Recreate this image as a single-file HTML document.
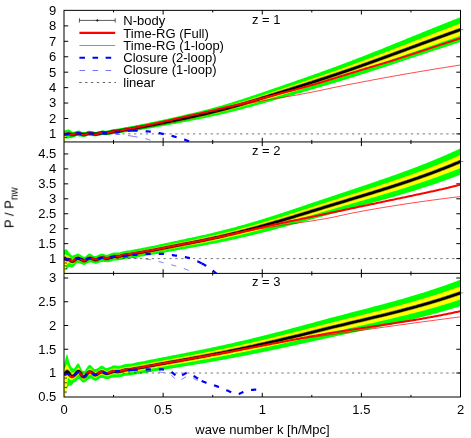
<!DOCTYPE html>
<html><head><meta charset="utf-8"><title>chart</title>
<style>html,body{margin:0;padding:0;background:#fff;}body{width:471px;height:438px;overflow:hidden;font-family:"Liberation Sans",sans-serif;}</style></head>
<body>
<svg width="471" height="438" viewBox="0 0 471 438" style="display:block">
<rect width="471" height="438" fill="#fff"/>
<defs>
<clipPath id="c0"><rect x="64.00" y="10.35" width="397.10" height="131.60"/></clipPath>
<clipPath id="c1"><rect x="64.00" y="141.95" width="397.10" height="131.45"/></clipPath>
<clipPath id="c2"><rect x="64.00" y="273.40" width="397.10" height="123.60"/></clipPath>
</defs>
<g stroke="#000" stroke-width="1" fill="none">
<line x1="113.56" y1="10.35" x2="113.56" y2="12.45"/>
<line x1="113.56" y1="141.95" x2="113.56" y2="139.85"/>
<line x1="163.12" y1="10.35" x2="163.12" y2="14.55"/>
<line x1="163.12" y1="141.95" x2="163.12" y2="137.75"/>
<line x1="212.69" y1="10.35" x2="212.69" y2="12.45"/>
<line x1="212.69" y1="141.95" x2="212.69" y2="139.85"/>
<line x1="262.25" y1="10.35" x2="262.25" y2="14.55"/>
<line x1="262.25" y1="141.95" x2="262.25" y2="137.75"/>
<line x1="311.81" y1="10.35" x2="311.81" y2="12.45"/>
<line x1="311.81" y1="141.95" x2="311.81" y2="139.85"/>
<line x1="361.38" y1="10.35" x2="361.38" y2="14.55"/>
<line x1="361.38" y1="141.95" x2="361.38" y2="137.75"/>
<line x1="410.94" y1="10.35" x2="410.94" y2="12.45"/>
<line x1="410.94" y1="141.95" x2="410.94" y2="139.85"/>
<line x1="113.56" y1="141.95" x2="113.56" y2="144.05"/>
<line x1="113.56" y1="273.40" x2="113.56" y2="271.30"/>
<line x1="163.12" y1="141.95" x2="163.12" y2="146.15"/>
<line x1="163.12" y1="273.40" x2="163.12" y2="269.20"/>
<line x1="212.69" y1="141.95" x2="212.69" y2="144.05"/>
<line x1="212.69" y1="273.40" x2="212.69" y2="271.30"/>
<line x1="262.25" y1="141.95" x2="262.25" y2="146.15"/>
<line x1="262.25" y1="273.40" x2="262.25" y2="269.20"/>
<line x1="311.81" y1="141.95" x2="311.81" y2="144.05"/>
<line x1="311.81" y1="273.40" x2="311.81" y2="271.30"/>
<line x1="361.38" y1="141.95" x2="361.38" y2="146.15"/>
<line x1="361.38" y1="273.40" x2="361.38" y2="269.20"/>
<line x1="410.94" y1="141.95" x2="410.94" y2="144.05"/>
<line x1="410.94" y1="273.40" x2="410.94" y2="271.30"/>
<line x1="113.56" y1="273.40" x2="113.56" y2="275.50"/>
<line x1="113.56" y1="397.00" x2="113.56" y2="394.90"/>
<line x1="163.12" y1="273.40" x2="163.12" y2="277.60"/>
<line x1="163.12" y1="397.00" x2="163.12" y2="392.80"/>
<line x1="212.69" y1="273.40" x2="212.69" y2="275.50"/>
<line x1="212.69" y1="397.00" x2="212.69" y2="394.90"/>
<line x1="262.25" y1="273.40" x2="262.25" y2="277.60"/>
<line x1="262.25" y1="397.00" x2="262.25" y2="392.80"/>
<line x1="311.81" y1="273.40" x2="311.81" y2="275.50"/>
<line x1="311.81" y1="397.00" x2="311.81" y2="394.90"/>
<line x1="361.38" y1="273.40" x2="361.38" y2="277.60"/>
<line x1="361.38" y1="397.00" x2="361.38" y2="392.80"/>
<line x1="410.94" y1="273.40" x2="410.94" y2="275.50"/>
<line x1="410.94" y1="397.00" x2="410.94" y2="394.90"/>
<line x1="64.00" y1="133.90" x2="68.20" y2="133.90"/>
<line x1="460.50" y1="133.90" x2="456.30" y2="133.90"/>
<line x1="64.00" y1="118.47" x2="68.20" y2="118.47"/>
<line x1="460.50" y1="118.47" x2="456.30" y2="118.47"/>
<line x1="64.00" y1="103.04" x2="68.20" y2="103.04"/>
<line x1="460.50" y1="103.04" x2="456.30" y2="103.04"/>
<line x1="64.00" y1="87.61" x2="68.20" y2="87.61"/>
<line x1="460.50" y1="87.61" x2="456.30" y2="87.61"/>
<line x1="64.00" y1="72.18" x2="68.20" y2="72.18"/>
<line x1="460.50" y1="72.18" x2="456.30" y2="72.18"/>
<line x1="64.00" y1="56.75" x2="68.20" y2="56.75"/>
<line x1="460.50" y1="56.75" x2="456.30" y2="56.75"/>
<line x1="64.00" y1="41.32" x2="68.20" y2="41.32"/>
<line x1="460.50" y1="41.32" x2="456.30" y2="41.32"/>
<line x1="64.00" y1="25.89" x2="68.20" y2="25.89"/>
<line x1="460.50" y1="25.89" x2="456.30" y2="25.89"/>
<line x1="64.00" y1="258.60" x2="68.20" y2="258.60"/>
<line x1="460.50" y1="258.60" x2="456.30" y2="258.60"/>
<line x1="64.00" y1="243.65" x2="68.20" y2="243.65"/>
<line x1="460.50" y1="243.65" x2="456.30" y2="243.65"/>
<line x1="64.00" y1="228.70" x2="68.20" y2="228.70"/>
<line x1="460.50" y1="228.70" x2="456.30" y2="228.70"/>
<line x1="64.00" y1="213.75" x2="68.20" y2="213.75"/>
<line x1="460.50" y1="213.75" x2="456.30" y2="213.75"/>
<line x1="64.00" y1="198.80" x2="68.20" y2="198.80"/>
<line x1="460.50" y1="198.80" x2="456.30" y2="198.80"/>
<line x1="64.00" y1="183.85" x2="68.20" y2="183.85"/>
<line x1="460.50" y1="183.85" x2="456.30" y2="183.85"/>
<line x1="64.00" y1="168.90" x2="68.20" y2="168.90"/>
<line x1="460.50" y1="168.90" x2="456.30" y2="168.90"/>
<line x1="64.00" y1="153.95" x2="68.20" y2="153.95"/>
<line x1="460.50" y1="153.95" x2="456.30" y2="153.95"/>
<line x1="64.00" y1="373.00" x2="68.20" y2="373.00"/>
<line x1="460.50" y1="373.00" x2="456.30" y2="373.00"/>
<line x1="64.00" y1="349.25" x2="68.20" y2="349.25"/>
<line x1="460.50" y1="349.25" x2="456.30" y2="349.25"/>
<line x1="64.00" y1="325.50" x2="68.20" y2="325.50"/>
<line x1="460.50" y1="325.50" x2="456.30" y2="325.50"/>
<line x1="64.00" y1="301.75" x2="68.20" y2="301.75"/>
<line x1="460.50" y1="301.75" x2="456.30" y2="301.75"/>
<line x1="64.00" y1="278.00" x2="68.20" y2="278.00"/>
<line x1="460.50" y1="278.00" x2="456.30" y2="278.00"/>
</g>
<g clip-path="url(#c0)">
<polygon fill="#00ff00" points="64.0,130.2 65.0,130.2 66.0,130.0 67.0,129.7 68.0,129.5 69.0,129.5 70.0,129.9 71.0,130.7 72.0,131.4 73.0,131.8 74.0,131.8 75.0,131.6 76.0,131.3 77.0,130.9 78.0,130.6 79.0,130.6 80.0,131.0 81.0,131.5 82.0,131.9 83.0,132.1 84.0,132.1 85.0,132.1 86.0,131.9 87.0,131.4 88.0,131.0 89.0,130.7 90.0,130.7 91.0,130.9 92.0,131.1 93.0,131.4 94.0,131.6 95.0,131.9 96.0,131.9 97.0,131.8 98.0,131.4 99.0,131.1 100.0,130.9 101.0,130.7 102.0,130.6 103.0,130.5 104.0,130.6 105.0,130.7 106.0,130.7 107.0,130.6 108.0,130.5 109.0,130.2 110.0,129.9 111.0,129.7 112.0,129.4 113.0,129.2 114.0,129.0 115.0,128.9 116.0,128.8 117.0,128.7 118.0,128.6 119.0,128.4 120.0,128.3 121.0,128.1 122.0,127.9 123.0,127.7 124.0,127.5 125.0,127.3 126.0,127.1 127.0,127.0 128.0,126.8 129.0,126.6 130.0,126.4 131.0,126.2 132.0,126.0 133.0,125.9 134.0,125.7 135.0,125.5 136.0,125.3 137.0,125.1 138.0,124.9 139.0,124.8 140.0,124.5 141.0,124.3 142.0,124.1 143.0,123.9 144.0,123.7 145.0,123.5 146.0,123.4 147.0,123.2 148.0,123.0 149.0,122.8 150.0,122.5 151.0,122.3 152.0,122.1 153.0,121.9 154.0,121.7 155.0,121.5 156.0,121.3 157.0,121.1 158.0,120.8 159.0,120.6 160.0,120.4 161.0,120.2 162.0,120.0 163.0,119.8 164.0,119.5 165.0,119.3 166.0,119.1 167.0,118.9 168.0,118.6 169.0,118.4 170.0,118.2 171.0,118.0 172.0,117.8 173.0,117.5 174.0,117.3 175.0,117.1 176.0,116.9 177.0,116.6 178.0,116.4 179.0,116.2 180.0,115.9 181.0,115.7 182.0,115.5 183.0,115.3 184.0,115.0 185.0,114.8 186.0,114.5 187.0,114.3 188.0,114.1 189.0,113.8 190.0,113.6 191.0,113.4 192.0,113.1 193.0,112.9 194.0,112.7 195.0,112.4 196.0,112.2 197.0,111.9 198.0,111.7 199.0,111.4 200.0,111.2 201.0,111.0 202.0,110.7 203.0,110.5 204.0,110.2 205.0,110.0 206.0,109.7 207.0,109.4 208.0,109.2 209.0,108.9 210.0,108.7 211.0,108.4 212.0,108.1 213.0,107.9 214.0,107.6 215.0,107.3 216.0,107.1 217.0,106.8 218.0,106.5 219.0,106.2 220.0,105.9 221.0,105.7 222.0,105.4 223.0,105.1 224.0,104.8 225.0,104.5 226.0,104.2 227.0,103.9 228.0,103.6 229.0,103.3 230.0,103.0 231.0,102.7 232.0,102.4 233.0,102.1 234.0,101.8 235.0,101.4 236.0,101.1 237.0,100.8 238.0,100.5 239.0,100.2 240.0,99.9 241.0,99.5 242.0,99.2 243.0,98.9 244.0,98.6 245.0,98.2 246.0,97.9 247.0,97.6 248.0,97.3 249.0,96.9 250.0,96.6 251.0,96.3 252.0,95.9 253.0,95.6 254.0,95.3 255.0,94.9 256.0,94.6 257.0,94.2 258.0,93.9 259.0,93.6 260.0,93.2 261.0,92.9 262.0,92.6 263.0,92.2 264.0,91.9 265.0,91.5 266.0,91.2 267.0,90.8 268.0,90.5 269.0,90.2 270.0,89.8 271.0,89.5 272.0,89.1 273.0,88.8 274.0,88.4 275.0,88.1 276.0,87.7 277.0,87.4 278.0,87.1 279.0,86.7 280.0,86.4 281.0,86.0 282.0,85.7 283.0,85.3 284.0,85.0 285.0,84.6 286.0,84.3 287.0,83.9 288.0,83.6 289.0,83.3 290.0,82.9 291.0,82.6 292.0,82.2 293.0,81.9 294.0,81.5 295.0,81.2 296.0,80.8 297.0,80.5 298.0,80.1 299.0,79.8 300.0,79.4 301.0,79.1 302.0,78.7 303.0,78.4 304.0,78.0 305.0,77.7 306.0,77.3 307.0,77.0 308.0,76.6 309.0,76.3 310.0,75.9 311.0,75.6 312.0,75.2 313.0,74.9 314.0,74.5 315.0,74.1 316.0,73.8 317.0,73.4 318.0,73.1 319.0,72.7 320.0,72.4 321.0,72.0 322.0,71.6 323.0,71.3 324.0,70.9 325.0,70.6 326.0,70.2 327.0,69.8 328.0,69.5 329.0,69.1 330.0,68.7 331.0,68.4 332.0,68.0 333.0,67.6 334.0,67.3 335.0,66.9 336.0,66.5 337.0,66.2 338.0,65.8 339.0,65.4 340.0,65.1 341.0,64.7 342.0,64.3 343.0,63.9 344.0,63.6 345.0,63.2 346.0,62.8 347.0,62.4 348.0,62.0 349.0,61.7 350.0,61.3 351.0,60.9 352.0,60.5 353.0,60.1 354.0,59.8 355.0,59.4 356.0,59.0 357.0,58.6 358.0,58.2 359.0,57.8 360.0,57.4 361.0,57.1 362.0,56.7 363.0,56.3 364.0,55.9 365.0,55.5 366.0,55.1 367.0,54.7 368.0,54.3 369.0,53.9 370.0,53.5 371.0,53.1 372.0,52.7 373.0,52.3 374.0,51.9 375.0,51.5 376.0,51.1 377.0,50.7 378.0,50.4 379.0,50.0 380.0,49.6 381.0,49.2 382.0,48.8 383.0,48.4 384.0,47.9 385.0,47.5 386.0,47.1 387.0,46.7 388.0,46.3 389.0,45.9 390.0,45.5 391.0,45.1 392.0,44.7 393.0,44.3 394.0,43.9 395.0,43.5 396.0,43.1 397.0,42.7 398.0,42.3 399.0,41.9 400.0,41.5 401.0,41.1 402.0,40.7 403.0,40.3 404.0,39.9 405.0,39.5 406.0,39.1 407.0,38.6 408.0,38.2 409.0,37.8 410.0,37.4 411.0,37.0 412.0,36.6 413.0,36.2 414.0,35.8 415.0,35.4 416.0,35.0 417.0,34.6 418.0,34.2 419.0,33.8 420.0,33.4 421.0,33.0 422.0,32.5 423.0,32.1 424.0,31.7 425.0,31.3 426.0,30.9 427.0,30.5 428.0,30.1 429.0,29.7 430.0,29.3 431.0,28.9 432.0,28.5 433.0,28.1 434.0,27.7 435.0,27.3 436.0,26.9 437.0,26.5 438.0,26.1 439.0,25.7 440.0,25.3 441.0,24.9 442.0,24.5 443.0,24.1 444.0,23.7 445.0,23.3 446.0,22.9 447.0,22.5 448.0,22.1 449.0,21.7 450.0,21.3 451.0,20.9 452.0,20.5 453.0,20.1 454.0,19.7 455.0,19.3 456.0,18.9 457.0,18.5 458.0,18.2 459.0,17.8 460.0,17.4 460.5,17.2 460.5,42.0 460.0,42.2 459.0,42.5 458.0,42.8 457.0,43.1 456.0,43.5 455.0,43.8 454.0,44.1 453.0,44.4 452.0,44.8 451.0,45.1 450.0,45.4 449.0,45.7 448.0,46.0 447.0,46.4 446.0,46.7 445.0,47.0 444.0,47.3 443.0,47.7 442.0,48.0 441.0,48.3 440.0,48.7 439.0,49.0 438.0,49.3 437.0,49.6 436.0,50.0 435.0,50.3 434.0,50.6 433.0,51.0 432.0,51.3 431.0,51.6 430.0,51.9 429.0,52.3 428.0,52.6 427.0,52.9 426.0,53.3 425.0,53.6 424.0,53.9 423.0,54.3 422.0,54.6 421.0,54.9 420.0,55.3 419.0,55.6 418.0,55.9 417.0,56.3 416.0,56.6 415.0,56.9 414.0,57.3 413.0,57.6 412.0,57.9 411.0,58.3 410.0,58.6 409.0,58.9 408.0,59.3 407.0,59.6 406.0,59.9 405.0,60.3 404.0,60.6 403.0,60.9 402.0,61.2 401.0,61.6 400.0,61.9 399.0,62.2 398.0,62.6 397.0,62.9 396.0,63.2 395.0,63.6 394.0,63.9 393.0,64.2 392.0,64.6 391.0,64.9 390.0,65.2 389.0,65.6 388.0,65.9 387.0,66.2 386.0,66.5 385.0,66.9 384.0,67.2 383.0,67.5 382.0,67.9 381.0,68.2 380.0,68.5 379.0,68.8 378.0,69.2 377.0,69.5 376.0,69.8 375.0,70.1 374.0,70.5 373.0,70.8 372.0,71.1 371.0,71.4 370.0,71.8 369.0,72.1 368.0,72.4 367.0,72.7 366.0,73.1 365.0,73.4 364.0,73.7 363.0,74.0 362.0,74.3 361.0,74.6 360.0,75.0 359.0,75.3 358.0,75.6 357.0,75.9 356.0,76.2 355.0,76.5 354.0,76.9 353.0,77.2 352.0,77.5 351.0,77.8 350.0,78.1 349.0,78.4 348.0,78.7 347.0,79.0 346.0,79.4 345.0,79.7 344.0,80.0 343.0,80.3 342.0,80.6 341.0,80.9 340.0,81.2 339.0,81.5 338.0,81.8 337.0,82.1 336.0,82.4 335.0,82.7 334.0,83.0 333.0,83.3 332.0,83.6 331.0,83.9 330.0,84.2 329.0,84.5 328.0,84.8 327.0,85.1 326.0,85.4 325.0,85.7 324.0,86.0 323.0,86.3 322.0,86.6 321.0,86.9 320.0,87.2 319.0,87.5 318.0,87.8 317.0,88.0 316.0,88.3 315.0,88.6 314.0,88.9 313.0,89.2 312.0,89.5 311.0,89.8 310.0,90.1 309.0,90.4 308.0,90.7 307.0,90.9 306.0,91.2 305.0,91.5 304.0,91.8 303.0,92.1 302.0,92.4 301.0,92.7 300.0,93.0 299.0,93.2 298.0,93.5 297.0,93.8 296.0,94.1 295.0,94.4 294.0,94.7 293.0,95.0 292.0,95.2 291.0,95.5 290.0,95.8 289.0,96.1 288.0,96.4 287.0,96.7 286.0,96.9 285.0,97.2 284.0,97.5 283.0,97.8 282.0,98.1 281.0,98.4 280.0,98.6 279.0,98.9 278.0,99.2 277.0,99.5 276.0,99.8 275.0,100.0 274.0,100.3 273.0,100.6 272.0,100.9 271.0,101.2 270.0,101.5 269.0,101.7 268.0,102.0 267.0,102.3 266.0,102.6 265.0,102.9 264.0,103.1 263.0,103.4 262.0,103.7 261.0,104.0 260.0,104.3 259.0,104.5 258.0,104.8 257.0,105.1 256.0,105.4 255.0,105.6 254.0,105.9 253.0,106.2 252.0,106.5 251.0,106.7 250.0,107.0 249.0,107.3 248.0,107.6 247.0,107.8 246.0,108.1 245.0,108.4 244.0,108.6 243.0,108.9 242.0,109.2 241.0,109.4 240.0,109.7 239.0,109.9 238.0,110.2 237.0,110.5 236.0,110.7 235.0,111.0 234.0,111.2 233.0,111.5 232.0,111.7 231.0,112.0 230.0,112.2 229.0,112.5 228.0,112.7 227.0,113.0 226.0,113.2 225.0,113.5 224.0,113.7 223.0,114.0 222.0,114.2 221.0,114.4 220.0,114.7 219.0,114.9 218.0,115.1 217.0,115.4 216.0,115.6 215.0,115.8 214.0,116.0 213.0,116.3 212.0,116.5 211.0,116.7 210.0,116.9 209.0,117.1 208.0,117.3 207.0,117.5 206.0,117.7 205.0,118.0 204.0,118.2 203.0,118.4 202.0,118.6 201.0,118.8 200.0,119.0 199.0,119.2 198.0,119.4 197.0,119.6 196.0,119.8 195.0,120.0 194.0,120.2 193.0,120.4 192.0,120.6 191.0,120.8 190.0,121.0 189.0,121.2 188.0,121.4 187.0,121.6 186.0,121.8 185.0,122.0 184.0,122.1 183.0,122.3 182.0,122.5 181.0,122.7 180.0,122.9 179.0,123.1 178.0,123.3 177.0,123.5 176.0,123.7 175.0,123.9 174.0,124.1 173.0,124.2 172.0,124.4 171.0,124.6 170.0,124.8 169.0,125.0 168.0,125.1 167.0,125.3 166.0,125.5 165.0,125.7 164.0,125.9 163.0,126.1 162.0,126.2 161.0,126.4 160.0,126.6 159.0,126.8 158.0,126.9 157.0,127.1 156.0,127.3 155.0,127.5 154.0,127.7 153.0,127.9 152.0,128.0 151.0,128.2 150.0,128.4 149.0,128.5 148.0,128.7 147.0,128.8 146.0,129.0 145.0,129.2 144.0,129.4 143.0,129.6 142.0,129.8 141.0,129.9 140.0,130.1 139.0,130.2 138.0,130.4 137.0,130.5 136.0,130.7 135.0,130.9 134.0,131.0 133.0,131.2 132.0,131.4 131.0,131.6 130.0,131.7 129.0,131.9 128.0,132.0 127.0,132.1 126.0,132.2 125.0,132.3 124.0,132.5 123.0,132.6 122.0,132.9 121.0,133.1 120.0,133.3 119.0,133.5 118.0,133.6 117.0,133.7 116.0,133.8 115.0,133.9 114.0,134.0 113.0,134.0 112.0,134.1 111.0,134.3 110.0,134.7 109.0,135.0 108.0,135.1 107.0,135.2 106.0,135.3 105.0,135.2 104.0,135.2 103.0,135.1 102.0,135.1 101.0,135.2 100.0,135.5 99.0,135.8 98.0,136.0 97.0,136.2 96.0,136.3 95.0,136.4 94.0,136.3 93.0,136.2 92.0,136.0 91.0,135.9 90.0,135.7 89.0,135.7 88.0,135.8 87.0,136.1 86.0,136.4 85.0,136.8 84.0,137.1 83.0,137.0 82.0,136.7 81.0,136.5 80.0,136.4 79.0,136.5 78.0,136.2 77.0,136.1 76.0,136.3 75.0,136.8 74.0,137.2 73.0,137.7 72.0,138.1 71.0,138.2 70.0,138.0 69.0,138.2 68.0,138.4 67.0,138.7 66.0,138.3 65.0,138.2 64.0,138.0"/>
<polygon fill="#ffff00" points="64.0,132.4 65.0,132.4 66.0,132.4 67.0,132.2 68.0,132.0 69.0,131.9 70.0,132.2 71.0,132.8 72.0,133.2 73.0,133.4 74.0,133.3 75.0,133.0 76.0,132.6 77.0,132.3 78.0,132.1 79.0,132.2 80.0,132.5 81.0,132.8 82.0,133.1 83.0,133.4 84.0,133.5 85.0,133.4 86.0,133.1 87.0,132.7 88.0,132.2 89.0,132.0 90.0,132.0 91.0,132.2 92.0,132.4 93.0,132.7 94.0,132.9 95.0,133.1 96.0,133.1 97.0,132.9 98.0,132.6 99.0,132.3 100.0,132.1 101.0,131.9 102.0,131.8 103.0,131.7 104.0,131.8 105.0,131.9 106.0,131.9 107.0,131.8 108.0,131.7 109.0,131.4 110.0,131.2 111.0,130.9 112.0,130.6 113.0,130.4 114.0,130.3 115.0,130.2 116.0,130.1 117.0,130.0 118.0,129.9 119.0,129.8 120.0,129.6 121.0,129.4 122.0,129.2 123.0,129.0 124.0,128.8 125.0,128.6 126.0,128.4 127.0,128.3 128.0,128.1 129.0,128.0 130.0,127.8 131.0,127.6 132.0,127.4 133.0,127.2 134.0,127.1 135.0,126.9 136.0,126.7 137.0,126.5 138.0,126.3 139.0,126.2 140.0,126.0 141.0,125.8 142.0,125.6 143.0,125.4 144.0,125.2 145.0,125.0 146.0,124.8 147.0,124.6 148.0,124.4 149.0,124.2 150.0,124.0 151.0,123.8 152.0,123.6 153.0,123.4 154.0,123.2 155.0,123.0 156.0,122.8 157.0,122.6 158.0,122.4 159.0,122.2 160.0,122.0 161.0,121.8 162.0,121.6 163.0,121.4 164.0,121.1 165.0,120.9 166.0,120.7 167.0,120.5 168.0,120.3 169.0,120.1 170.0,119.9 171.0,119.7 172.0,119.5 173.0,119.2 174.0,119.0 175.0,118.8 176.0,118.6 177.0,118.4 178.0,118.2 179.0,117.9 180.0,117.7 181.0,117.5 182.0,117.3 183.0,117.1 184.0,116.8 185.0,116.6 186.0,116.4 187.0,116.2 188.0,115.9 189.0,115.7 190.0,115.5 191.0,115.3 192.0,115.0 193.0,114.8 194.0,114.6 195.0,114.3 196.0,114.1 197.0,113.9 198.0,113.6 199.0,113.4 200.0,113.2 201.0,112.9 202.0,112.7 203.0,112.5 204.0,112.2 205.0,112.0 206.0,111.7 207.0,111.5 208.0,111.2 209.0,111.0 210.0,110.7 211.0,110.5 212.0,110.2 213.0,110.0 214.0,109.7 215.0,109.5 216.0,109.2 217.0,108.9 218.0,108.7 219.0,108.4 220.0,108.1 221.0,107.9 222.0,107.6 223.0,107.3 224.0,107.0 225.0,106.8 226.0,106.5 227.0,106.2 228.0,105.9 229.0,105.6 230.0,105.3 231.0,105.0 232.0,104.7 233.0,104.5 234.0,104.2 235.0,103.9 236.0,103.6 237.0,103.3 238.0,103.0 239.0,102.6 240.0,102.3 241.0,102.0 242.0,101.7 243.0,101.4 244.0,101.1 245.0,100.8 246.0,100.5 247.0,100.2 248.0,99.9 249.0,99.5 250.0,99.2 251.0,98.9 252.0,98.6 253.0,98.3 254.0,97.9 255.0,97.6 256.0,97.3 257.0,97.0 258.0,96.7 259.0,96.3 260.0,96.0 261.0,95.7 262.0,95.4 263.0,95.0 264.0,94.7 265.0,94.4 266.0,94.1 267.0,93.7 268.0,93.4 269.0,93.1 270.0,92.8 271.0,92.4 272.0,92.1 273.0,91.8 274.0,91.4 275.0,91.1 276.0,90.8 277.0,90.4 278.0,90.1 279.0,89.8 280.0,89.5 281.0,89.1 282.0,88.8 283.0,88.5 284.0,88.1 285.0,87.8 286.0,87.5 287.0,87.1 288.0,86.8 289.0,86.5 290.0,86.2 291.0,85.8 292.0,85.5 293.0,85.2 294.0,84.8 295.0,84.5 296.0,84.2 297.0,83.8 298.0,83.5 299.0,83.2 300.0,82.8 301.0,82.5 302.0,82.2 303.0,81.8 304.0,81.5 305.0,81.2 306.0,80.8 307.0,80.5 308.0,80.2 309.0,79.8 310.0,79.5 311.0,79.1 312.0,78.8 313.0,78.5 314.0,78.1 315.0,77.8 316.0,77.5 317.0,77.1 318.0,76.8 319.0,76.4 320.0,76.1 321.0,75.7 322.0,75.4 323.0,75.1 324.0,74.7 325.0,74.4 326.0,74.0 327.0,73.7 328.0,73.3 329.0,73.0 330.0,72.6 331.0,72.3 332.0,71.9 333.0,71.6 334.0,71.2 335.0,70.9 336.0,70.5 337.0,70.2 338.0,69.8 339.0,69.5 340.0,69.1 341.0,68.8 342.0,68.4 343.0,68.0 344.0,67.7 345.0,67.3 346.0,67.0 347.0,66.6 348.0,66.2 349.0,65.9 350.0,65.5 351.0,65.2 352.0,64.8 353.0,64.4 354.0,64.1 355.0,63.7 356.0,63.3 357.0,63.0 358.0,62.6 359.0,62.2 360.0,61.8 361.0,61.5 362.0,61.1 363.0,60.7 364.0,60.4 365.0,60.0 366.0,59.6 367.0,59.2 368.0,58.9 369.0,58.5 370.0,58.1 371.0,57.7 372.0,57.4 373.0,57.0 374.0,56.6 375.0,56.2 376.0,55.8 377.0,55.5 378.0,55.1 379.0,54.7 380.0,54.3 381.0,53.9 382.0,53.6 383.0,53.2 384.0,52.8 385.0,52.4 386.0,52.0 387.0,51.6 388.0,51.3 389.0,50.9 390.0,50.5 391.0,50.1 392.0,49.7 393.0,49.3 394.0,48.9 395.0,48.6 396.0,48.2 397.0,47.8 398.0,47.4 399.0,47.0 400.0,46.6 401.0,46.2 402.0,45.8 403.0,45.5 404.0,45.1 405.0,44.7 406.0,44.3 407.0,43.9 408.0,43.5 409.0,43.1 410.0,42.7 411.0,42.4 412.0,42.0 413.0,41.6 414.0,41.2 415.0,40.8 416.0,40.4 417.0,40.0 418.0,39.6 419.0,39.2 420.0,38.9 421.0,38.5 422.0,38.1 423.0,37.7 424.0,37.3 425.0,36.9 426.0,36.5 427.0,36.2 428.0,35.8 429.0,35.4 430.0,35.0 431.0,34.6 432.0,34.2 433.0,33.8 434.0,33.5 435.0,33.1 436.0,32.7 437.0,32.3 438.0,31.9 439.0,31.5 440.0,31.2 441.0,30.8 442.0,30.4 443.0,30.0 444.0,29.6 445.0,29.2 446.0,28.9 447.0,28.5 448.0,28.1 449.0,27.7 450.0,27.4 451.0,27.0 452.0,26.6 453.0,26.2 454.0,25.8 455.0,25.5 456.0,25.1 457.0,24.7 458.0,24.3 459.0,24.0 460.0,23.6 460.5,23.4 460.5,35.8 460.0,36.0 459.0,36.3 458.0,36.6 457.0,37.0 456.0,37.3 455.0,37.6 454.0,38.0 453.0,38.3 452.0,38.7 451.0,39.0 450.0,39.3 449.0,39.7 448.0,40.0 447.0,40.4 446.0,40.7 445.0,41.1 444.0,41.4 443.0,41.8 442.0,42.1 441.0,42.4 440.0,42.8 439.0,43.1 438.0,43.5 437.0,43.8 436.0,44.2 435.0,44.5 434.0,44.9 433.0,45.2 432.0,45.6 431.0,45.9 430.0,46.3 429.0,46.6 428.0,47.0 427.0,47.3 426.0,47.7 425.0,48.0 424.0,48.4 423.0,48.7 422.0,49.1 421.0,49.4 420.0,49.8 419.0,50.1 418.0,50.5 417.0,50.8 416.0,51.2 415.0,51.5 414.0,51.9 413.0,52.2 412.0,52.6 411.0,52.9 410.0,53.3 409.0,53.6 408.0,54.0 407.0,54.3 406.0,54.7 405.0,55.0 404.0,55.4 403.0,55.7 402.0,56.1 401.0,56.4 400.0,56.8 399.0,57.1 398.0,57.5 397.0,57.8 396.0,58.2 395.0,58.5 394.0,58.9 393.0,59.2 392.0,59.6 391.0,59.9 390.0,60.3 389.0,60.6 388.0,61.0 387.0,61.3 386.0,61.7 385.0,62.0 384.0,62.4 383.0,62.7 382.0,63.1 381.0,63.4 380.0,63.7 379.0,64.1 378.0,64.4 377.0,64.8 376.0,65.1 375.0,65.5 374.0,65.8 373.0,66.2 372.0,66.5 371.0,66.8 370.0,67.2 369.0,67.5 368.0,67.9 367.0,68.2 366.0,68.5 365.0,68.9 364.0,69.2 363.0,69.6 362.0,69.9 361.0,70.2 360.0,70.6 359.0,70.9 358.0,71.2 357.0,71.6 356.0,71.9 355.0,72.2 354.0,72.6 353.0,72.9 352.0,73.2 351.0,73.6 350.0,73.9 349.0,74.2 348.0,74.5 347.0,74.9 346.0,75.2 345.0,75.5 344.0,75.8 343.0,76.2 342.0,76.5 341.0,76.8 340.0,77.1 339.0,77.5 338.0,77.8 337.0,78.1 336.0,78.4 335.0,78.7 334.0,79.0 333.0,79.4 332.0,79.7 331.0,80.0 330.0,80.3 329.0,80.6 328.0,80.9 327.0,81.3 326.0,81.6 325.0,81.9 324.0,82.2 323.0,82.5 322.0,82.8 321.0,83.1 320.0,83.4 319.0,83.8 318.0,84.1 317.0,84.4 316.0,84.7 315.0,85.0 314.0,85.3 313.0,85.6 312.0,85.9 311.0,86.2 310.0,86.5 309.0,86.8 308.0,87.1 307.0,87.4 306.0,87.7 305.0,88.0 304.0,88.3 303.0,88.6 302.0,88.9 301.0,89.2 300.0,89.5 299.0,89.9 298.0,90.2 297.0,90.5 296.0,90.8 295.0,91.1 294.0,91.4 293.0,91.7 292.0,92.0 291.0,92.3 290.0,92.6 289.0,92.9 288.0,93.2 287.0,93.5 286.0,93.8 285.0,94.0 284.0,94.3 283.0,94.6 282.0,94.9 281.0,95.2 280.0,95.5 279.0,95.8 278.0,96.1 277.0,96.4 276.0,96.7 275.0,97.0 274.0,97.3 273.0,97.6 272.0,97.9 271.0,98.2 270.0,98.5 269.0,98.8 268.0,99.1 267.0,99.4 266.0,99.7 265.0,100.0 264.0,100.3 263.0,100.6 262.0,100.9 261.0,101.2 260.0,101.5 259.0,101.8 258.0,102.1 257.0,102.4 256.0,102.6 255.0,102.9 254.0,103.2 253.0,103.5 252.0,103.8 251.0,104.1 250.0,104.4 249.0,104.7 248.0,105.0 247.0,105.2 246.0,105.5 245.0,105.8 244.0,106.1 243.0,106.4 242.0,106.6 241.0,106.9 240.0,107.2 239.0,107.5 238.0,107.8 237.0,108.0 236.0,108.3 235.0,108.6 234.0,108.8 233.0,109.1 232.0,109.4 231.0,109.6 230.0,109.9 229.0,110.2 228.0,110.4 227.0,110.7 226.0,111.0 225.0,111.2 224.0,111.5 223.0,111.7 222.0,112.0 221.0,112.2 220.0,112.5 219.0,112.7 218.0,112.9 217.0,113.2 216.0,113.4 215.0,113.7 214.0,113.9 213.0,114.1 212.0,114.4 211.0,114.6 210.0,114.8 209.0,115.0 208.0,115.3 207.0,115.5 206.0,115.7 205.0,115.9 204.0,116.2 203.0,116.4 202.0,116.6 201.0,116.8 200.0,117.0 199.0,117.2 198.0,117.4 197.0,117.7 196.0,117.9 195.0,118.1 194.0,118.3 193.0,118.5 192.0,118.7 191.0,118.9 190.0,119.1 189.0,119.3 188.0,119.5 187.0,119.7 186.0,119.9 185.0,120.1 184.0,120.3 183.0,120.5 182.0,120.7 181.0,120.9 180.0,121.1 179.0,121.3 178.0,121.5 177.0,121.7 176.0,121.9 175.0,122.1 174.0,122.3 173.0,122.5 172.0,122.7 171.0,122.9 170.0,123.1 169.0,123.3 168.0,123.5 167.0,123.7 166.0,123.9 165.0,124.1 164.0,124.3 163.0,124.5 162.0,124.6 161.0,124.8 160.0,125.0 159.0,125.2 158.0,125.4 157.0,125.6 156.0,125.8 155.0,126.0 154.0,126.2 153.0,126.3 152.0,126.5 151.0,126.7 150.0,126.9 149.0,127.0 148.0,127.2 147.0,127.4 146.0,127.6 145.0,127.8 144.0,128.0 143.0,128.1 142.0,128.3 141.0,128.5 140.0,128.6 139.0,128.8 138.0,129.0 137.0,129.1 136.0,129.3 135.0,129.5 134.0,129.7 133.0,129.8 132.0,130.0 131.0,130.2 130.0,130.4 129.0,130.5 128.0,130.6 127.0,130.8 126.0,130.9 125.0,131.0 124.0,131.2 123.0,131.4 122.0,131.6 121.0,131.8 120.0,132.0 119.0,132.2 118.0,132.3 117.0,132.4 116.0,132.5 115.0,132.6 114.0,132.7 113.0,132.8 112.0,132.9 111.0,133.1 110.0,133.4 109.0,133.7 108.0,133.9 107.0,134.0 106.0,134.1 105.0,134.0 104.0,134.0 103.0,133.9 102.0,133.9 101.0,134.0 100.0,134.3 99.0,134.5 98.0,134.8 97.0,135.0 96.0,135.2 95.0,135.2 94.0,135.1 93.0,134.9 92.0,134.7 91.0,134.6 90.0,134.4 89.0,134.4 88.0,134.5 87.0,134.9 86.0,135.2 85.0,135.6 84.0,135.8 83.0,135.7 82.0,135.4 81.0,135.2 80.0,135.0 79.0,134.9 78.0,134.7 77.0,134.7 76.0,135.0 75.0,135.4 74.0,135.8 73.0,136.1 72.0,136.3 71.0,136.1 70.0,135.8 69.0,135.7 68.0,135.9 67.0,136.2 66.0,136.0 65.0,136.0 64.0,135.9"/>
<polygon fill="#ffff00" points="64.00,131.99 68.40,131.99 67.80,135.54 66.40,134.95 65.30,141.95 64.00,141.95"/>
<line x1="64.40" y1="137.50" x2="67.00" y2="137.50" stroke="#000" stroke-width="0.7"/>
<polyline fill="none" stroke="#000" stroke-opacity="0.4" stroke-width="4.0" stroke-linejoin="round" points="64.0,134.1 65.0,134.2 66.0,134.2 67.0,134.2 68.0,133.9 69.0,133.8 70.0,134.0 71.0,134.5 72.0,134.7 73.0,134.7 74.0,134.5 75.0,134.2 76.0,133.8 77.0,133.5 78.0,133.4 79.0,133.5 80.0,133.7 81.0,134.0 82.0,134.3 83.0,134.6 84.0,134.6 85.0,134.5 86.0,134.1 87.0,133.8 88.0,133.4 89.0,133.2 90.0,133.2 91.0,133.4 92.0,133.6 93.0,133.8 94.0,134.0 95.0,134.1 96.0,134.1 97.0,134.0 98.0,133.7 99.0,133.4 100.0,133.2 101.0,133.0 102.0,132.8 103.0,132.8 104.0,132.9 105.0,133.0 106.0,133.0 107.0,132.9 108.0,132.8 109.0,132.6 110.0,132.3 111.0,132.0 112.0,131.8 113.0,131.6 114.0,131.5 115.0,131.4 116.0,131.3 117.0,131.2 118.0,131.1 119.0,131.0 120.0,130.8 121.0,130.6 122.0,130.4 123.0,130.2 124.0,130.0 125.0,129.8 126.0,129.7 127.0,129.5 128.0,129.4 129.0,129.2 130.0,129.1 131.0,128.9 132.0,128.7 133.0,128.5 134.0,128.4 135.0,128.2 136.0,128.0 137.0,127.8 138.0,127.6 139.0,127.5 140.0,127.3 141.0,127.1 142.0,126.9 143.0,126.8 144.0,126.6 145.0,126.4 146.0,126.2 147.0,126.0 148.0,125.8 149.0,125.6 150.0,125.4 151.0,125.3 152.0,125.1 153.0,124.9 154.0,124.7 155.0,124.5 156.0,124.3 157.0,124.1 158.0,123.9 159.0,123.7 160.0,123.5 161.0,123.3 162.0,123.1 163.0,122.9 164.0,122.7 165.0,122.5 166.0,122.3 167.0,122.1 168.0,121.9 169.0,121.7 170.0,121.5 171.0,121.3 172.0,121.1 173.0,120.9 174.0,120.7 175.0,120.5 176.0,120.3 177.0,120.1 178.0,119.8 179.0,119.6 180.0,119.4 181.0,119.2 182.0,119.0 183.0,118.8 184.0,118.6 185.0,118.4 186.0,118.2 187.0,117.9 188.0,117.7 189.0,117.5 190.0,117.3 191.0,117.1 192.0,116.9 193.0,116.6 194.0,116.4 195.0,116.2 196.0,116.0 197.0,115.8 198.0,115.5 199.0,115.3 200.0,115.1 201.0,114.9 202.0,114.6 203.0,114.4 204.0,114.2 205.0,114.0 206.0,113.7 207.0,113.5 208.0,113.3 209.0,113.0 210.0,112.8 211.0,112.5 212.0,112.3 213.0,112.1 214.0,111.8 215.0,111.6 216.0,111.3 217.0,111.1 218.0,110.8 219.0,110.6 220.0,110.3 221.0,110.0 222.0,109.8 223.0,109.5 224.0,109.3 225.0,109.0 226.0,108.7 227.0,108.4 228.0,108.2 229.0,107.9 230.0,107.6 231.0,107.3 232.0,107.1 233.0,106.8 234.0,106.5 235.0,106.2 236.0,105.9 237.0,105.6 238.0,105.4 239.0,105.1 240.0,104.8 241.0,104.5 242.0,104.2 243.0,103.9 244.0,103.6 245.0,103.3 246.0,103.0 247.0,102.7 248.0,102.4 249.0,102.1 250.0,101.8 251.0,101.5 252.0,101.2 253.0,100.9 254.0,100.6 255.0,100.3 256.0,100.0 257.0,99.7 258.0,99.4 259.0,99.1 260.0,98.7 261.0,98.4 262.0,98.1 263.0,97.8 264.0,97.5 265.0,97.2 266.0,96.9 267.0,96.6 268.0,96.3 269.0,95.9 270.0,95.6 271.0,95.3 272.0,95.0 273.0,94.7 274.0,94.4 275.0,94.1 276.0,93.8 277.0,93.4 278.0,93.1 279.0,92.8 280.0,92.5 281.0,92.2 282.0,91.9 283.0,91.6 284.0,91.2 285.0,90.9 286.0,90.6 287.0,90.3 288.0,90.0 289.0,89.7 290.0,89.4 291.0,89.0 292.0,88.7 293.0,88.4 294.0,88.1 295.0,87.8 296.0,87.5 297.0,87.1 298.0,86.8 299.0,86.5 300.0,86.2 301.0,85.9 302.0,85.6 303.0,85.2 304.0,84.9 305.0,84.6 306.0,84.3 307.0,84.0 308.0,83.6 309.0,83.3 310.0,83.0 311.0,82.7 312.0,82.4 313.0,82.0 314.0,81.7 315.0,81.4 316.0,81.1 317.0,80.7 318.0,80.4 319.0,80.1 320.0,79.8 321.0,79.4 322.0,79.1 323.0,78.8 324.0,78.5 325.0,78.1 326.0,77.8 327.0,77.5 328.0,77.1 329.0,76.8 330.0,76.5 331.0,76.1 332.0,75.8 333.0,75.5 334.0,75.1 335.0,74.8 336.0,74.5 337.0,74.1 338.0,73.8 339.0,73.5 340.0,73.1 341.0,72.8 342.0,72.4 343.0,72.1 344.0,71.8 345.0,71.4 346.0,71.1 347.0,70.7 348.0,70.4 349.0,70.0 350.0,69.7 351.0,69.4 352.0,69.0 353.0,68.7 354.0,68.3 355.0,68.0 356.0,67.6 357.0,67.3 358.0,66.9 359.0,66.6 360.0,66.2 361.0,65.9 362.0,65.5 363.0,65.1 364.0,64.8 365.0,64.4 366.0,64.1 367.0,63.7 368.0,63.4 369.0,63.0 370.0,62.6 371.0,62.3 372.0,61.9 373.0,61.6 374.0,61.2 375.0,60.8 376.0,60.5 377.0,60.1 378.0,59.8 379.0,59.4 380.0,59.0 381.0,58.7 382.0,58.3 383.0,57.9 384.0,57.6 385.0,57.2 386.0,56.8 387.0,56.5 388.0,56.1 389.0,55.7 390.0,55.4 391.0,55.0 392.0,54.6 393.0,54.3 394.0,53.9 395.0,53.5 396.0,53.2 397.0,52.8 398.0,52.4 399.0,52.1 400.0,51.7 401.0,51.3 402.0,51.0 403.0,50.6 404.0,50.2 405.0,49.9 406.0,49.5 407.0,49.1 408.0,48.7 409.0,48.4 410.0,48.0 411.0,47.6 412.0,47.3 413.0,46.9 414.0,46.5 415.0,46.2 416.0,45.8 417.0,45.4 418.0,45.1 419.0,44.7 420.0,44.3 421.0,43.9 422.0,43.6 423.0,43.2 424.0,42.8 425.0,42.5 426.0,42.1 427.0,41.7 428.0,41.4 429.0,41.0 430.0,40.6 431.0,40.3 432.0,39.9 433.0,39.5 434.0,39.2 435.0,38.8 436.0,38.4 437.0,38.1 438.0,37.7 439.0,37.3 440.0,37.0 441.0,36.6 442.0,36.2 443.0,35.9 444.0,35.5 445.0,35.2 446.0,34.8 447.0,34.4 448.0,34.1 449.0,33.7 450.0,33.3 451.0,33.0 452.0,32.6 453.0,32.3 454.0,31.9 455.0,31.6 456.0,31.2 457.0,30.8 458.0,30.5 459.0,30.1 460.0,29.8 460.5,29.6"/>
<polyline fill="none" stroke="#000" stroke-width="2.6" stroke-linejoin="round" points="64.0,134.1 65.0,134.2 66.0,134.2 67.0,134.2 68.0,133.9 69.0,133.8 70.0,134.0 71.0,134.5 72.0,134.7 73.0,134.7 74.0,134.5 75.0,134.2 76.0,133.8 77.0,133.5 78.0,133.4 79.0,133.5 80.0,133.7 81.0,134.0 82.0,134.3 83.0,134.6 84.0,134.6 85.0,134.5 86.0,134.1 87.0,133.8 88.0,133.4 89.0,133.2 90.0,133.2 91.0,133.4 92.0,133.6 93.0,133.8 94.0,134.0 95.0,134.1 96.0,134.1 97.0,134.0 98.0,133.7 99.0,133.4 100.0,133.2 101.0,133.0 102.0,132.8 103.0,132.8 104.0,132.9 105.0,133.0 106.0,133.0 107.0,132.9 108.0,132.8 109.0,132.6 110.0,132.3 111.0,132.0 112.0,131.8 113.0,131.6 114.0,131.5 115.0,131.4 116.0,131.3 117.0,131.2 118.0,131.1 119.0,131.0 120.0,130.8 121.0,130.6 122.0,130.4 123.0,130.2 124.0,130.0 125.0,129.8 126.0,129.7 127.0,129.5 128.0,129.4 129.0,129.2 130.0,129.1 131.0,128.9 132.0,128.7 133.0,128.5 134.0,128.4 135.0,128.2 136.0,128.0 137.0,127.8 138.0,127.6 139.0,127.5 140.0,127.3 141.0,127.1 142.0,126.9 143.0,126.8 144.0,126.6 145.0,126.4 146.0,126.2 147.0,126.0 148.0,125.8 149.0,125.6 150.0,125.4 151.0,125.3 152.0,125.1 153.0,124.9 154.0,124.7 155.0,124.5 156.0,124.3 157.0,124.1 158.0,123.9 159.0,123.7 160.0,123.5 161.0,123.3 162.0,123.1 163.0,122.9 164.0,122.7 165.0,122.5 166.0,122.3 167.0,122.1 168.0,121.9 169.0,121.7 170.0,121.5 171.0,121.3 172.0,121.1 173.0,120.9 174.0,120.7 175.0,120.5 176.0,120.3 177.0,120.1 178.0,119.8 179.0,119.6 180.0,119.4 181.0,119.2 182.0,119.0 183.0,118.8 184.0,118.6 185.0,118.4 186.0,118.2 187.0,117.9 188.0,117.7 189.0,117.5 190.0,117.3 191.0,117.1 192.0,116.9 193.0,116.6 194.0,116.4 195.0,116.2 196.0,116.0 197.0,115.8 198.0,115.5 199.0,115.3 200.0,115.1 201.0,114.9 202.0,114.6 203.0,114.4 204.0,114.2 205.0,114.0 206.0,113.7 207.0,113.5 208.0,113.3 209.0,113.0 210.0,112.8 211.0,112.5 212.0,112.3 213.0,112.1 214.0,111.8 215.0,111.6 216.0,111.3 217.0,111.1 218.0,110.8 219.0,110.6 220.0,110.3 221.0,110.0 222.0,109.8 223.0,109.5 224.0,109.3 225.0,109.0 226.0,108.7 227.0,108.4 228.0,108.2 229.0,107.9 230.0,107.6 231.0,107.3 232.0,107.1 233.0,106.8 234.0,106.5 235.0,106.2 236.0,105.9 237.0,105.6 238.0,105.4 239.0,105.1 240.0,104.8 241.0,104.5 242.0,104.2 243.0,103.9 244.0,103.6 245.0,103.3 246.0,103.0 247.0,102.7 248.0,102.4 249.0,102.1 250.0,101.8 251.0,101.5 252.0,101.2 253.0,100.9 254.0,100.6 255.0,100.3 256.0,100.0 257.0,99.7 258.0,99.4 259.0,99.1 260.0,98.7 261.0,98.4 262.0,98.1 263.0,97.8 264.0,97.5 265.0,97.2 266.0,96.9 267.0,96.6 268.0,96.3 269.0,95.9 270.0,95.6 271.0,95.3 272.0,95.0 273.0,94.7 274.0,94.4 275.0,94.1 276.0,93.8 277.0,93.4 278.0,93.1 279.0,92.8 280.0,92.5 281.0,92.2 282.0,91.9 283.0,91.6 284.0,91.2 285.0,90.9 286.0,90.6 287.0,90.3 288.0,90.0 289.0,89.7 290.0,89.4 291.0,89.0 292.0,88.7 293.0,88.4 294.0,88.1 295.0,87.8 296.0,87.5 297.0,87.1 298.0,86.8 299.0,86.5 300.0,86.2 301.0,85.9 302.0,85.6 303.0,85.2 304.0,84.9 305.0,84.6 306.0,84.3 307.0,84.0 308.0,83.6 309.0,83.3 310.0,83.0 311.0,82.7 312.0,82.4 313.0,82.0 314.0,81.7 315.0,81.4 316.0,81.1 317.0,80.7 318.0,80.4 319.0,80.1 320.0,79.8 321.0,79.4 322.0,79.1 323.0,78.8 324.0,78.5 325.0,78.1 326.0,77.8 327.0,77.5 328.0,77.1 329.0,76.8 330.0,76.5 331.0,76.1 332.0,75.8 333.0,75.5 334.0,75.1 335.0,74.8 336.0,74.5 337.0,74.1 338.0,73.8 339.0,73.5 340.0,73.1 341.0,72.8 342.0,72.4 343.0,72.1 344.0,71.8 345.0,71.4 346.0,71.1 347.0,70.7 348.0,70.4 349.0,70.0 350.0,69.7 351.0,69.4 352.0,69.0 353.0,68.7 354.0,68.3 355.0,68.0 356.0,67.6 357.0,67.3 358.0,66.9 359.0,66.6 360.0,66.2 361.0,65.9 362.0,65.5 363.0,65.1 364.0,64.8 365.0,64.4 366.0,64.1 367.0,63.7 368.0,63.4 369.0,63.0 370.0,62.6 371.0,62.3 372.0,61.9 373.0,61.6 374.0,61.2 375.0,60.8 376.0,60.5 377.0,60.1 378.0,59.8 379.0,59.4 380.0,59.0 381.0,58.7 382.0,58.3 383.0,57.9 384.0,57.6 385.0,57.2 386.0,56.8 387.0,56.5 388.0,56.1 389.0,55.7 390.0,55.4 391.0,55.0 392.0,54.6 393.0,54.3 394.0,53.9 395.0,53.5 396.0,53.2 397.0,52.8 398.0,52.4 399.0,52.1 400.0,51.7 401.0,51.3 402.0,51.0 403.0,50.6 404.0,50.2 405.0,49.9 406.0,49.5 407.0,49.1 408.0,48.7 409.0,48.4 410.0,48.0 411.0,47.6 412.0,47.3 413.0,46.9 414.0,46.5 415.0,46.2 416.0,45.8 417.0,45.4 418.0,45.1 419.0,44.7 420.0,44.3 421.0,43.9 422.0,43.6 423.0,43.2 424.0,42.8 425.0,42.5 426.0,42.1 427.0,41.7 428.0,41.4 429.0,41.0 430.0,40.6 431.0,40.3 432.0,39.9 433.0,39.5 434.0,39.2 435.0,38.8 436.0,38.4 437.0,38.1 438.0,37.7 439.0,37.3 440.0,37.0 441.0,36.6 442.0,36.2 443.0,35.9 444.0,35.5 445.0,35.2 446.0,34.8 447.0,34.4 448.0,34.1 449.0,33.7 450.0,33.3 451.0,33.0 452.0,32.6 453.0,32.3 454.0,31.9 455.0,31.6 456.0,31.2 457.0,30.8 458.0,30.5 459.0,30.1 460.0,29.8 460.5,29.6"/>
<line x1="64.00" y1="133.90" x2="460.50" y2="133.90" stroke="#000" stroke-opacity="0.72" stroke-width="0.75" stroke-dasharray="2.3,3.59" stroke-dashoffset="0.6"/>
<polyline fill="none" stroke="#ff0000" stroke-width="2.0" stroke-linejoin="round" points="64.0,134.0 65.0,134.0 66.0,133.9 67.0,133.7 68.0,133.8 69.0,134.0 70.0,134.3 71.0,134.7 72.0,134.8 73.0,134.7 74.0,134.4 75.0,133.9 76.0,133.5 77.0,133.2 78.0,133.1 79.0,133.3 80.0,133.6 81.0,134.1 82.0,134.5 83.0,134.7 84.0,134.8 85.0,134.6 86.0,134.3 87.0,133.9 88.0,133.6 89.0,133.3 90.0,133.3 91.0,133.4 92.0,133.6 93.0,133.9 94.0,134.1 95.0,134.2 96.0,134.2 97.0,134.0 98.0,133.7 99.0,133.4 100.0,133.1 101.0,132.9 102.0,132.9 103.0,132.9 104.0,132.9 105.0,133.0 106.0,133.0 107.0,132.9 108.0,132.8 109.0,132.6 110.0,132.3 111.0,132.1 112.0,131.8 113.0,131.6 114.0,131.5 115.0,131.4 116.0,131.3 117.0,131.2 118.0,131.1 119.0,130.9 120.0,130.7 121.0,130.5 122.0,130.3 123.0,130.1 124.0,129.9 125.0,129.7 126.0,129.5 127.0,129.3 128.0,129.2 129.0,129.0 130.0,128.8 131.0,128.6 132.0,128.4 133.0,128.2 134.0,128.0 135.0,127.8 136.0,127.6 137.0,127.4 138.0,127.2 139.0,127.0 140.0,126.8 141.0,126.6 142.0,126.4 143.0,126.2 144.0,126.0 145.0,125.8 146.0,125.5 147.0,125.3 148.0,125.1 149.0,124.9 150.0,124.7 151.0,124.5 152.0,124.3 153.0,124.0 154.0,123.8 155.0,123.6 156.0,123.4 157.0,123.2 158.0,122.9 159.0,122.7 160.0,122.5 161.0,122.3 162.0,122.1 163.0,121.8 164.0,121.6 165.0,121.4 166.0,121.1 167.0,120.9 168.0,120.7 169.0,120.5 170.0,120.2 171.0,120.0 172.0,119.7 173.0,119.5 174.0,119.3 175.0,119.0 176.0,118.8 177.0,118.6 178.0,118.3 179.0,118.1 180.0,117.9 181.0,117.6 182.0,117.4 183.0,117.2 184.0,116.9 185.0,116.7 186.0,116.5 187.0,116.3 188.0,116.0 189.0,115.8 190.0,115.6 191.0,115.4 192.0,115.2 193.0,115.0 194.0,114.7 195.0,114.5 196.0,114.3 197.0,114.1 198.0,113.9 199.0,113.6 200.0,113.4 201.0,113.2 202.0,113.0 203.0,112.8 204.0,112.5 205.0,112.3 206.0,112.1 207.0,111.9 208.0,111.6 209.0,111.4 210.0,111.2 211.0,110.9 212.0,110.7 213.0,110.5 214.0,110.2 215.0,110.0 216.0,109.8 217.0,109.5 218.0,109.3 219.0,109.0 220.0,108.8 221.0,108.6 222.0,108.3 223.0,108.1 224.0,107.8 225.0,107.6 226.0,107.3 227.0,107.1 228.0,106.9 229.0,106.6 230.0,106.4 231.0,106.1 232.0,105.9 233.0,105.7 234.0,105.4 235.0,105.2 236.0,105.0 237.0,104.7 238.0,104.5 239.0,104.2 240.0,104.0 241.0,103.8 242.0,103.5 243.0,103.3 244.0,103.0 245.0,102.8 246.0,102.5 247.0,102.3 248.0,102.0 249.0,101.8 250.0,101.5 251.0,101.2 252.0,101.0 253.0,100.7 254.0,100.5 255.0,100.2 256.0,99.9 257.0,99.7 258.0,99.4 259.0,99.2 260.0,98.9 261.0,98.6 262.0,98.4 263.0,98.1 264.0,97.8 265.0,97.6 266.0,97.3 267.0,97.0 268.0,96.8 269.0,96.5 270.0,96.3 271.0,96.0 272.0,95.7 273.0,95.5 274.0,95.2 275.0,94.9 276.0,94.7 277.0,94.4 278.0,94.1 279.0,93.9 280.0,93.6 281.0,93.3 282.0,93.1 283.0,92.8 284.0,92.5 285.0,92.3 286.0,92.0 287.0,91.8 288.0,91.5 289.0,91.2 290.0,91.0 291.0,90.7 292.0,90.5 293.0,90.2 294.0,89.9 295.0,89.7 296.0,89.4 297.0,89.1 298.0,88.9 299.0,88.6 300.0,88.4 301.0,88.1 302.0,87.8 303.0,87.5 304.0,87.3 305.0,87.0 306.0,86.7 307.0,86.4 308.0,86.2 309.0,85.9 310.0,85.6 311.0,85.3 312.0,85.0 313.0,84.7 314.0,84.4 315.0,84.2 316.0,83.9 317.0,83.6 318.0,83.3 319.0,83.0 320.0,82.7 321.0,82.4 322.0,82.1 323.0,81.8 324.0,81.5 325.0,81.2 326.0,80.9 327.0,80.5 328.0,80.2 329.0,79.9 330.0,79.6 331.0,79.3 332.0,79.0 333.0,78.7 334.0,78.4 335.0,78.1 336.0,77.8 337.0,77.4 338.0,77.1 339.0,76.8 340.0,76.5 341.0,76.2 342.0,75.9 343.0,75.6 344.0,75.3 345.0,75.0 346.0,74.6 347.0,74.3 348.0,74.0 349.0,73.7 350.0,73.4 351.0,73.1 352.0,72.8 353.0,72.5 354.0,72.2 355.0,71.9 356.0,71.6 357.0,71.3 358.0,71.0 359.0,70.6 360.0,70.3 361.0,70.0 362.0,69.7 363.0,69.4 364.0,69.1 365.0,68.8 366.0,68.5 367.0,68.2 368.0,67.9 369.0,67.6 370.0,67.3 371.0,67.0 372.0,66.7 373.0,66.4 374.0,66.1 375.0,65.8 376.0,65.5 377.0,65.2 378.0,64.9 379.0,64.6 380.0,64.3 381.0,64.0 382.0,63.7 383.0,63.4 384.0,63.1 385.0,62.8 386.0,62.5 387.0,62.2 388.0,61.9 389.0,61.6 390.0,61.3 391.0,61.0 392.0,60.7 393.0,60.3 394.0,60.0 395.0,59.7 396.0,59.4 397.0,59.1 398.0,58.7 399.0,58.4 400.0,58.1 401.0,57.8 402.0,57.4 403.0,57.1 404.0,56.8 405.0,56.5 406.0,56.1 407.0,55.8 408.0,55.5 409.0,55.2 410.0,54.8 411.0,54.5 412.0,54.2 413.0,53.9 414.0,53.5 415.0,53.2 416.0,52.9 417.0,52.5 418.0,52.2 419.0,51.9 420.0,51.5 421.0,51.2 422.0,50.9 423.0,50.6 424.0,50.2 425.0,49.9 426.0,49.6 427.0,49.2 428.0,48.9 429.0,48.6 430.0,48.2 431.0,47.9 432.0,47.6 433.0,47.3 434.0,46.9 435.0,46.6 436.0,46.3 437.0,45.9 438.0,45.6 439.0,45.3 440.0,44.9 441.0,44.6 442.0,44.3 443.0,44.0 444.0,43.6 445.0,43.3 446.0,43.0 447.0,42.6 448.0,42.3 449.0,42.0 450.0,41.6 451.0,41.3 452.0,41.0 453.0,40.7 454.0,40.3 455.0,40.0 456.0,39.7 457.0,39.3 458.0,39.0 459.0,38.7 460.0,38.4 460.5,38.2"/>
<polyline fill="none" stroke="#ff0000" stroke-width="0.7" points="200.0,113.4 201.0,113.2 202.0,113.0 203.0,112.7 204.0,112.5 205.0,112.3 206.0,112.1 207.0,111.8 208.0,111.6 209.0,111.4 210.0,111.2 211.0,111.0 212.0,110.8 213.0,110.5 214.0,110.3 215.0,110.1 216.0,109.9 217.0,109.7 218.0,109.5 219.0,109.3 220.0,109.1 221.0,108.8 222.0,108.6 223.0,108.4 224.0,108.2 225.0,108.0 226.0,107.8 227.0,107.6 228.0,107.4 229.0,107.2 230.0,107.0 231.0,106.8 232.0,106.6 233.0,106.4 234.0,106.2 235.0,106.0 236.0,105.8 237.0,105.6 238.0,105.4 239.0,105.2 240.0,105.0 241.0,104.8 242.0,104.6 243.0,104.4 244.0,104.3 245.0,104.1 246.0,103.9 247.0,103.7 248.0,103.5 249.0,103.3 250.0,103.1 251.0,102.9 252.0,102.7 253.0,102.6 254.0,102.4 255.0,102.2 256.0,102.0 257.0,101.8 258.0,101.6 259.0,101.5 260.0,101.3 261.0,101.1 262.0,100.9 263.0,100.7 264.0,100.6 265.0,100.4 266.0,100.2 267.0,100.0 268.0,99.8 269.0,99.7 270.0,99.5 271.0,99.3 272.0,99.2 273.0,99.0 274.0,98.8 275.0,98.7 276.0,98.5 277.0,98.3 278.0,98.2 279.0,98.0 280.0,97.9 281.0,97.7 282.0,97.5 283.0,97.4 284.0,97.2 285.0,97.0 286.0,96.9 287.0,96.7 288.0,96.5 289.0,96.4 290.0,96.2 291.0,96.0 292.0,95.8 293.0,95.7 294.0,95.5 295.0,95.3 296.0,95.1 297.0,95.0 298.0,94.8 299.0,94.6 300.0,94.4 301.0,94.2 302.0,94.0 303.0,93.8 304.0,93.7 305.0,93.5 306.0,93.3 307.0,93.1 308.0,92.9 309.0,92.7 310.0,92.5 311.0,92.3 312.0,92.1 313.0,91.9 314.0,91.7 315.0,91.5 316.0,91.3 317.0,91.1 318.0,90.9 319.0,90.7 320.0,90.5 321.0,90.3 322.0,90.0 323.0,89.8 324.0,89.6 325.0,89.4 326.0,89.2 327.0,89.0 328.0,88.8 329.0,88.6 330.0,88.4 331.0,88.1 332.0,87.9 333.0,87.7 334.0,87.5 335.0,87.3 336.0,87.1 337.0,86.9 338.0,86.7 339.0,86.5 340.0,86.3 341.0,86.1 342.0,85.9 343.0,85.7 344.0,85.5 345.0,85.3 346.0,85.1 347.0,84.9 348.0,84.7 349.0,84.5 350.0,84.3 351.0,84.1 352.0,83.9 353.0,83.7 354.0,83.6 355.0,83.4 356.0,83.2 357.0,83.0 358.0,82.8 359.0,82.6 360.0,82.4 361.0,82.2 362.0,82.0 363.0,81.8 364.0,81.6 365.0,81.4 366.0,81.2 367.0,81.1 368.0,80.9 369.0,80.7 370.0,80.5 371.0,80.3 372.0,80.1 373.0,79.9 374.0,79.7 375.0,79.5 376.0,79.4 377.0,79.2 378.0,79.0 379.0,78.8 380.0,78.6 381.0,78.4 382.0,78.2 383.0,78.1 384.0,77.9 385.0,77.7 386.0,77.5 387.0,77.3 388.0,77.1 389.0,77.0 390.0,76.8 391.0,76.6 392.0,76.4 393.0,76.2 394.0,76.1 395.0,75.9 396.0,75.7 397.0,75.5 398.0,75.4 399.0,75.2 400.0,75.0 401.0,74.8 402.0,74.6 403.0,74.5 404.0,74.3 405.0,74.1 406.0,73.9 407.0,73.8 408.0,73.6 409.0,73.4 410.0,73.3 411.0,73.1 412.0,72.9 413.0,72.7 414.0,72.6 415.0,72.4 416.0,72.2 417.0,72.1 418.0,71.9 419.0,71.7 420.0,71.5 421.0,71.4 422.0,71.2 423.0,71.0 424.0,70.9 425.0,70.7 426.0,70.5 427.0,70.4 428.0,70.2 429.0,70.0 430.0,69.9 431.0,69.7 432.0,69.5 433.0,69.4 434.0,69.2 435.0,69.0 436.0,68.9 437.0,68.7 438.0,68.6 439.0,68.4 440.0,68.2 441.0,68.1 442.0,67.9 443.0,67.8 444.0,67.6 445.0,67.4 446.0,67.3 447.0,67.1 448.0,67.0 449.0,66.8 450.0,66.6 451.0,66.5 452.0,66.3 453.0,66.2 454.0,66.0 455.0,65.9 456.0,65.7 457.0,65.5 458.0,65.4 459.0,65.2 460.0,65.1 460.5,65.0"/>
<polyline fill="none" stroke="#0000ff" stroke-width="2.2" points="64.3,134.0 64.5,134.0 65.0,134.0 65.5,133.9 66.0,133.9 66.5,133.8 67.0,133.7 67.5,133.8 68.0,133.8 68.5,133.9 69.0,134.0 69.5,134.1"/>
<polyline fill="none" stroke="#0000ff" stroke-width="2.2" points="76.5,133.3 77.0,133.2 77.5,133.2 78.0,133.1 78.5,133.2 79.0,133.3 79.5,133.5 80.0,133.6 80.5,133.9 81.0,134.1 81.2,134.2"/>
<polyline fill="none" stroke="#0000ff" stroke-width="2.2" points="88.8,133.4 89.0,133.3 89.5,133.3 90.0,133.3 90.5,133.4 91.0,133.4 91.5,133.5 92.0,133.6 92.5,133.8 93.0,133.9 93.5,134.0 93.9,134.1"/>
<polyline fill="none" stroke="#0000ff" stroke-width="2.2" points="102.0,133.3 102.5,133.3 103.0,133.3 103.5,133.2 104.0,133.2 104.5,133.2 105.0,133.1 105.5,133.1 106.0,133.1 106.5,133.0 107.0,133.0"/>
<polyline fill="none" stroke="#0000ff" stroke-width="2.2" points="115.2,132.2 115.5,132.2 116.0,132.1 116.5,132.1 117.0,132.0 117.5,131.9 118.0,131.9 118.5,131.8 119.0,131.8 119.5,131.7 120.0,131.7 120.3,131.7"/>
<polyline fill="none" stroke="#0000ff" stroke-width="2.2" points="128.0,130.8 128.5,130.7 129.0,130.7 129.5,130.7 130.0,130.6 130.5,130.6 131.0,130.6 131.5,130.6 132.0,130.6 132.5,130.6"/>
<polyline fill="none" stroke="#0000ff" stroke-width="2.2" stroke-dasharray="5.2,8" points="132.5,130.6 133.0,130.6 133.5,130.6 134.0,130.6 134.5,130.6 135.0,130.6 135.5,130.7 136.0,130.7 136.5,130.7 137.0,130.7 137.5,130.7 138.0,130.8 138.5,130.8 139.0,130.8 139.5,130.8 140.0,130.9 140.5,130.9 141.0,130.9 141.5,131.0 142.0,131.0 142.5,131.0 143.0,131.1 143.5,131.1 144.0,131.1 144.5,131.2 145.0,131.2 145.5,131.2 146.0,131.3 146.5,131.3 147.0,131.4 147.5,131.4 148.0,131.4 148.5,131.5 149.0,131.5 149.5,131.6 150.0,131.7 150.5,131.7 151.0,131.8 151.5,131.8 152.0,131.9 152.5,132.0 153.0,132.1 153.5,132.2 154.0,132.2 154.5,132.3 155.0,132.4 155.5,132.5 156.0,132.6 156.5,132.7 157.0,132.8 157.5,132.8 158.0,132.9 158.5,133.0 159.0,133.1 159.5,133.2 160.0,133.3 160.5,133.4 161.0,133.5 161.5,133.6 162.0,133.7 162.5,133.8 163.0,133.9 163.5,134.0 164.0,134.1 164.5,134.2 165.0,134.3 165.5,134.4 166.0,134.5 166.5,134.6 167.0,134.7 167.5,134.9 168.0,135.0 168.5,135.1 169.0,135.2 169.5,135.3 170.0,135.4 170.5,135.6 171.0,135.7 171.5,135.8 172.0,135.9 172.5,136.1 173.0,136.2 173.5,136.3 174.0,136.5 174.5,136.6 175.0,136.7 175.5,136.9 176.0,137.0 176.5,137.2 177.0,137.3 177.5,137.4 178.0,137.6 178.5,137.7 179.0,137.9 179.5,138.0 180.0,138.2 180.5,138.3 181.0,138.5 181.5,138.7 182.0,138.8 182.5,139.0 183.0,139.1 183.5,139.3 184.0,139.5 184.5,139.6 185.0,139.8 185.5,140.0 186.0,140.2 186.5,140.3 187.0,140.5 187.5,140.7 188.0,140.9 188.5,141.1 189.0,141.3 189.5,141.5 190.0,141.7 190.5,141.9 191.0,142.1 191.5,142.3 192.0,142.5"/>
<polyline fill="none" stroke="#0000ff" stroke-width="0.55" points="64.3,134.0 64.5,134.0 65.0,134.0 65.5,133.9 66.0,133.9 66.5,133.8 67.0,133.7 67.5,133.8 68.0,133.8 68.5,133.9 69.0,134.0 69.5,134.1"/>
<polyline fill="none" stroke="#0000ff" stroke-width="0.55" points="76.5,133.3 77.0,133.2 77.5,133.2 78.0,133.1 78.5,133.2 79.0,133.3 79.5,133.5 80.0,133.6 80.5,133.9 81.0,134.1 81.2,134.2"/>
<polyline fill="none" stroke="#0000ff" stroke-width="0.55" points="88.8,133.9 89.0,133.9 89.5,133.8 90.0,133.8 90.5,133.8 91.0,133.8 91.5,133.8 92.0,133.8 92.5,133.8 93.0,133.8 93.5,133.8 93.9,133.7"/>
<polyline fill="none" stroke="#0000ff" stroke-width="0.55" points="102.0,133.7 102.5,133.7 103.0,133.7 103.5,133.7 104.0,133.7 104.5,133.8 105.0,133.8 105.5,133.8 106.0,133.8 106.5,133.8 107.0,133.8"/>
<polyline fill="none" stroke="#0000ff" stroke-width="0.55" points="115.2,134.2 115.5,134.2 116.0,134.2 116.5,134.2 117.0,134.3 117.5,134.3 118.0,134.3 118.5,134.4 119.0,134.4 119.5,134.5 120.0,134.5 120.3,134.5"/>
<polyline fill="none" stroke="#0000ff" stroke-width="0.55" points="128.0,135.5 128.5,135.6 129.0,135.7 129.5,135.8 130.0,135.8 130.5,135.9 131.0,136.0 131.5,136.1 132.0,136.1 132.5,136.2"/>
<polyline fill="none" stroke="#0000ff" stroke-width="0.55" stroke-dasharray="5.2,8" points="132.5,136.2 133.0,136.3 133.5,136.4 134.0,136.5 134.5,136.5 135.0,136.6 135.5,136.7 136.0,136.8 136.5,136.9 137.0,137.0 137.5,137.0 138.0,137.1 138.5,137.2 139.0,137.3 139.5,137.4 140.0,137.5 140.5,137.6 141.0,137.7 141.5,137.8 142.0,137.9 142.5,138.0 143.0,138.1 143.5,138.2 144.0,138.4 144.5,138.5 145.0,138.6 145.5,138.7 146.0,138.8 146.5,139.0 147.0,139.1 147.5,139.2 148.0,139.4 148.5,139.5 149.0,139.7 149.5,139.9 150.0,140.0 150.5,140.2 151.0,140.4 151.5,140.6 152.0,140.8 152.5,141.0 153.0,141.2 153.5,141.4 154.0,141.6 154.5,141.8 155.0,142.1 155.5,142.3 156.0,142.5"/>
</g>
<g clip-path="url(#c1)">
<polygon fill="#00ff00" points="64.0,250.2 65.0,249.8 66.0,249.2 67.0,249.5 68.0,250.9 69.0,252.4 70.0,253.4 71.0,254.7 72.0,255.5 73.0,255.6 74.0,255.1 75.0,254.7 76.0,254.2 77.0,253.8 78.0,253.6 79.0,254.0 80.0,254.4 81.0,255.1 82.0,255.7 83.0,256.5 84.0,256.8 85.0,256.7 86.0,256.0 87.0,255.1 88.0,254.2 89.0,253.6 90.0,253.7 91.0,254.1 92.0,254.7 93.0,255.4 94.0,256.0 95.0,256.1 96.0,256.0 97.0,255.6 98.0,255.1 99.0,254.5 100.0,254.1 101.0,253.8 102.0,253.7 103.0,253.8 104.0,254.1 105.0,254.5 106.0,254.8 107.0,254.8 108.0,254.6 109.0,254.2 110.0,253.7 111.0,253.3 112.0,252.9 113.0,252.7 114.0,252.6 115.0,252.6 116.0,252.6 117.0,252.6 118.0,252.6 119.0,252.4 120.0,252.2 121.0,251.9 122.0,251.6 123.0,251.4 124.0,251.2 125.0,250.9 126.0,250.7 127.0,250.6 128.0,250.5 129.0,250.4 130.0,250.3 131.0,250.2 132.0,250.0 133.0,249.7 134.0,249.4 135.0,249.3 136.0,249.1 137.0,248.9 138.0,248.8 139.0,248.6 140.0,248.5 141.0,248.3 142.0,248.1 143.0,247.8 144.0,247.6 145.0,247.5 146.0,247.3 147.0,247.1 148.0,246.8 149.0,246.6 150.0,246.4 151.0,246.2 152.0,246.0 153.0,245.9 154.0,245.7 155.0,245.5 156.0,245.2 157.0,245.0 158.0,244.8 159.0,244.5 160.0,244.3 161.0,244.1 162.0,243.9 163.0,243.7 164.0,243.5 165.0,243.3 166.0,243.1 167.0,242.9 168.0,242.6 169.0,242.4 170.0,242.2 171.0,242.0 172.0,241.8 173.0,241.5 174.0,241.3 175.0,241.1 176.0,240.9 177.0,240.7 178.0,240.4 179.0,240.2 180.0,240.0 181.0,239.8 182.0,239.6 183.0,239.4 184.0,239.2 185.0,239.0 186.0,238.8 187.0,238.5 188.0,238.3 189.0,238.1 190.0,237.9 191.0,237.7 192.0,237.5 193.0,237.3 194.0,237.1 195.0,236.9 196.0,236.6 197.0,236.4 198.0,236.2 199.0,236.0 200.0,235.8 201.0,235.5 202.0,235.3 203.0,235.1 204.0,234.9 205.0,234.7 206.0,234.4 207.0,234.2 208.0,234.0 209.0,233.7 210.0,233.5 211.0,233.3 212.0,233.0 213.0,232.8 214.0,232.5 215.0,232.3 216.0,232.0 217.0,231.8 218.0,231.6 219.0,231.3 220.0,231.1 221.0,230.8 222.0,230.6 223.0,230.3 224.0,230.1 225.0,229.8 226.0,229.5 227.0,229.3 228.0,229.0 229.0,228.8 230.0,228.5 231.0,228.2 232.0,228.0 233.0,227.7 234.0,227.4 235.0,227.2 236.0,226.9 237.0,226.6 238.0,226.3 239.0,226.1 240.0,225.8 241.0,225.5 242.0,225.2 243.0,224.9 244.0,224.7 245.0,224.4 246.0,224.1 247.0,223.8 248.0,223.5 249.0,223.2 250.0,222.9 251.0,222.6 252.0,222.4 253.0,222.1 254.0,221.8 255.0,221.5 256.0,221.2 257.0,220.9 258.0,220.6 259.0,220.3 260.0,220.0 261.0,219.7 262.0,219.3 263.0,219.0 264.0,218.7 265.0,218.4 266.0,218.1 267.0,217.8 268.0,217.5 269.0,217.2 270.0,216.8 271.0,216.5 272.0,216.2 273.0,215.9 274.0,215.6 275.0,215.3 276.0,214.9 277.0,214.6 278.0,214.3 279.0,214.0 280.0,213.6 281.0,213.3 282.0,213.0 283.0,212.7 284.0,212.3 285.0,212.0 286.0,211.7 287.0,211.3 288.0,211.0 289.0,210.7 290.0,210.3 291.0,210.0 292.0,209.7 293.0,209.3 294.0,209.0 295.0,208.7 296.0,208.3 297.0,208.0 298.0,207.7 299.0,207.3 300.0,207.0 301.0,206.7 302.0,206.3 303.0,206.0 304.0,205.7 305.0,205.3 306.0,205.0 307.0,204.6 308.0,204.3 309.0,204.0 310.0,203.6 311.0,203.3 312.0,202.9 313.0,202.6 314.0,202.3 315.0,201.9 316.0,201.6 317.0,201.2 318.0,200.9 319.0,200.6 320.0,200.2 321.0,199.9 322.0,199.6 323.0,199.2 324.0,198.9 325.0,198.5 326.0,198.2 327.0,197.9 328.0,197.5 329.0,197.2 330.0,196.9 331.0,196.5 332.0,196.2 333.0,195.9 334.0,195.5 335.0,195.2 336.0,194.9 337.0,194.5 338.0,194.2 339.0,193.9 340.0,193.5 341.0,193.2 342.0,192.9 343.0,192.5 344.0,192.2 345.0,191.9 346.0,191.5 347.0,191.2 348.0,190.9 349.0,190.5 350.0,190.2 351.0,189.9 352.0,189.5 353.0,189.2 354.0,188.9 355.0,188.5 356.0,188.2 357.0,187.9 358.0,187.5 359.0,187.2 360.0,186.9 361.0,186.5 362.0,186.2 363.0,185.9 364.0,185.5 365.0,185.2 366.0,184.9 367.0,184.5 368.0,184.2 369.0,183.9 370.0,183.5 371.0,183.2 372.0,182.8 373.0,182.5 374.0,182.2 375.0,181.8 376.0,181.5 377.0,181.2 378.0,180.8 379.0,180.5 380.0,180.1 381.0,179.8 382.0,179.4 383.0,179.1 384.0,178.7 385.0,178.4 386.0,178.1 387.0,177.7 388.0,177.4 389.0,177.0 390.0,176.7 391.0,176.3 392.0,176.0 393.0,175.6 394.0,175.2 395.0,174.9 396.0,174.5 397.0,174.2 398.0,173.8 399.0,173.5 400.0,173.1 401.0,172.7 402.0,172.4 403.0,172.0 404.0,171.6 405.0,171.3 406.0,170.9 407.0,170.5 408.0,170.2 409.0,169.8 410.0,169.4 411.0,169.1 412.0,168.7 413.0,168.3 414.0,167.9 415.0,167.5 416.0,167.2 417.0,166.8 418.0,166.4 419.0,166.0 420.0,165.6 421.0,165.2 422.0,164.8 423.0,164.4 424.0,164.1 425.0,163.7 426.0,163.3 427.0,162.9 428.0,162.5 429.0,162.1 430.0,161.7 431.0,161.2 432.0,160.8 433.0,160.4 434.0,160.0 435.0,159.6 436.0,159.2 437.0,158.8 438.0,158.3 439.0,157.9 440.0,157.5 441.0,157.1 442.0,156.7 443.0,156.2 444.0,155.8 445.0,155.4 446.0,154.9 447.0,154.5 448.0,154.0 449.0,153.6 450.0,153.2 451.0,152.7 452.0,152.3 453.0,151.8 454.0,151.4 455.0,150.9 456.0,150.4 457.0,150.0 458.0,149.5 459.0,149.1 460.0,148.6 460.5,148.3 460.5,174.7 460.0,174.8 459.0,175.2 458.0,175.6 457.0,176.0 456.0,176.4 455.0,176.7 454.0,177.1 453.0,177.5 452.0,177.9 451.0,178.2 450.0,178.6 449.0,178.9 448.0,179.3 447.0,179.7 446.0,180.0 445.0,180.4 444.0,180.7 443.0,181.1 442.0,181.4 441.0,181.8 440.0,182.1 439.0,182.5 438.0,182.8 437.0,183.2 436.0,183.5 435.0,183.9 434.0,184.2 433.0,184.5 432.0,184.9 431.0,185.2 430.0,185.5 429.0,185.9 428.0,186.2 427.0,186.5 426.0,186.8 425.0,187.2 424.0,187.5 423.0,187.8 422.0,188.1 421.0,188.5 420.0,188.8 419.0,189.1 418.0,189.4 417.0,189.7 416.0,190.0 415.0,190.4 414.0,190.7 413.0,191.0 412.0,191.3 411.0,191.6 410.0,191.9 409.0,192.2 408.0,192.5 407.0,192.8 406.0,193.1 405.0,193.4 404.0,193.7 403.0,194.0 402.0,194.3 401.0,194.6 400.0,194.9 399.0,195.2 398.0,195.5 397.0,195.8 396.0,196.1 395.0,196.4 394.0,196.7 393.0,196.9 392.0,197.2 391.0,197.5 390.0,197.8 389.0,198.1 388.0,198.4 387.0,198.7 386.0,199.0 385.0,199.2 384.0,199.5 383.0,199.8 382.0,200.1 381.0,200.4 380.0,200.6 379.0,200.9 378.0,201.2 377.0,201.5 376.0,201.8 375.0,202.0 374.0,202.3 373.0,202.6 372.0,202.9 371.0,203.2 370.0,203.4 369.0,203.7 368.0,204.0 367.0,204.3 366.0,204.5 365.0,204.8 364.0,205.1 363.0,205.4 362.0,205.6 361.0,205.9 360.0,206.2 359.0,206.4 358.0,206.7 357.0,207.0 356.0,207.3 355.0,207.5 354.0,207.8 353.0,208.1 352.0,208.3 351.0,208.6 350.0,208.9 349.0,209.2 348.0,209.4 347.0,209.7 346.0,210.0 345.0,210.2 344.0,210.5 343.0,210.8 342.0,211.1 341.0,211.3 340.0,211.6 339.0,211.9 338.0,212.2 337.0,212.4 336.0,212.7 335.0,213.0 334.0,213.2 333.0,213.5 332.0,213.8 331.0,214.1 330.0,214.3 329.0,214.6 328.0,214.9 327.0,215.2 326.0,215.4 325.0,215.7 324.0,216.0 323.0,216.3 322.0,216.5 321.0,216.8 320.0,217.1 319.0,217.4 318.0,217.7 317.0,217.9 316.0,218.2 315.0,218.5 314.0,218.8 313.0,219.0 312.0,219.3 311.0,219.6 310.0,219.9 309.0,220.1 308.0,220.4 307.0,220.7 306.0,221.0 305.0,221.3 304.0,221.5 303.0,221.8 302.0,222.1 301.0,222.4 300.0,222.6 299.0,222.9 298.0,223.2 297.0,223.5 296.0,223.7 295.0,224.0 294.0,224.3 293.0,224.6 292.0,224.8 291.0,225.1 290.0,225.4 289.0,225.6 288.0,225.9 287.0,226.2 286.0,226.5 285.0,226.7 284.0,227.0 283.0,227.3 282.0,227.5 281.0,227.8 280.0,228.1 279.0,228.3 278.0,228.6 277.0,228.9 276.0,229.1 275.0,229.4 274.0,229.7 273.0,229.9 272.0,230.2 271.0,230.4 270.0,230.7 269.0,231.0 268.0,231.2 267.0,231.5 266.0,231.7 265.0,232.0 264.0,232.2 263.0,232.5 262.0,232.7 261.0,233.0 260.0,233.2 259.0,233.5 258.0,233.7 257.0,234.0 256.0,234.2 255.0,234.5 254.0,234.7 253.0,235.0 252.0,235.2 251.0,235.4 250.0,235.7 249.0,235.9 248.0,236.2 247.0,236.4 246.0,236.6 245.0,236.9 244.0,237.1 243.0,237.3 242.0,237.6 241.0,237.8 240.0,238.0 239.0,238.2 238.0,238.5 237.0,238.7 236.0,238.9 235.0,239.1 234.0,239.4 233.0,239.6 232.0,239.8 231.0,240.0 230.0,240.2 229.0,240.5 228.0,240.7 227.0,240.9 226.0,241.1 225.0,241.3 224.0,241.5 223.0,241.7 222.0,241.9 221.0,242.2 220.0,242.4 219.0,242.6 218.0,242.8 217.0,243.0 216.0,243.2 215.0,243.4 214.0,243.6 213.0,243.8 212.0,244.0 211.0,244.1 210.0,244.3 209.0,244.5 208.0,244.7 207.0,244.9 206.0,245.1 205.0,245.3 204.0,245.5 203.0,245.7 202.0,245.9 201.0,246.1 200.0,246.2 199.0,246.4 198.0,246.6 197.0,246.8 196.0,246.9 195.0,247.1 194.0,247.3 193.0,247.5 192.0,247.7 191.0,247.8 190.0,248.0 189.0,248.2 188.0,248.4 187.0,248.5 186.0,248.7 185.0,248.9 184.0,249.1 183.0,249.2 182.0,249.4 181.0,249.6 180.0,249.8 179.0,250.0 178.0,250.1 177.0,250.3 176.0,250.5 175.0,250.7 174.0,250.9 173.0,251.0 172.0,251.2 171.0,251.4 170.0,251.6 169.0,251.8 168.0,251.9 167.0,252.1 166.0,252.3 165.0,252.5 164.0,252.7 163.0,252.9 162.0,253.0 161.0,253.2 160.0,253.4 159.0,253.6 158.0,253.8 157.0,253.9 156.0,254.1 155.0,254.3 154.0,254.4 153.0,254.6 152.0,254.8 151.0,255.0 150.0,255.2 149.0,255.3 148.0,255.5 147.0,255.6 146.0,255.8 145.0,256.0 144.0,256.2 143.0,256.4 142.0,256.5 141.0,256.6 140.0,256.7 139.0,256.9 138.0,257.0 137.0,257.2 136.0,257.4 135.0,257.6 134.0,257.8 133.0,258.0 132.0,258.1 131.0,258.2 130.0,258.4 129.0,258.5 128.0,258.7 127.0,258.8 126.0,258.9 125.0,259.0 124.0,259.1 123.0,259.4 122.0,259.7 121.0,259.9 120.0,260.1 119.0,260.2 118.0,260.4 117.0,260.4 116.0,260.5 115.0,260.6 114.0,260.7 113.0,260.8 112.0,261.0 111.0,261.4 110.0,261.7 109.0,262.1 108.0,262.2 107.0,262.2 106.0,262.1 105.0,262.1 104.0,262.0 103.0,261.8 102.0,261.9 101.0,262.1 100.0,262.4 99.0,262.8 98.0,263.2 97.0,263.5 96.0,263.7 95.0,263.7 94.0,263.3 93.0,263.1 92.0,262.8 91.0,262.6 90.0,262.5 89.0,262.7 88.0,262.9 87.0,263.4 86.0,264.0 85.0,264.7 84.0,264.9 83.0,264.7 82.0,264.2 81.0,263.9 80.0,263.6 79.0,263.5 78.0,263.2 77.0,263.3 76.0,264.0 75.0,265.2 74.0,266.6 73.0,267.3 72.0,267.6 71.0,267.5 70.0,267.1 69.0,267.0 68.0,268.0 67.0,269.7 66.0,268.8 65.0,267.1 64.0,265.3"/>
<polygon fill="#ffff00" points="64.0,254.4 65.0,254.6 66.0,254.8 67.0,255.2 68.0,255.7 69.0,256.5 70.0,257.2 71.0,258.2 72.0,258.8 73.0,258.8 74.0,258.2 75.0,257.5 76.0,256.8 77.0,256.3 78.0,256.2 79.0,256.5 80.0,256.9 81.0,257.4 82.0,258.0 83.0,258.7 84.0,259.0 85.0,258.8 86.0,258.1 87.0,257.3 88.0,256.5 89.0,256.0 90.0,256.0 91.0,256.3 92.0,256.8 93.0,257.4 94.0,257.9 95.0,258.1 96.0,258.0 97.0,257.7 98.0,257.2 99.0,256.7 100.0,256.3 101.0,255.9 102.0,255.8 103.0,255.9 104.0,256.2 105.0,256.4 106.0,256.7 107.0,256.7 108.0,256.5 109.0,256.2 110.0,255.8 111.0,255.4 112.0,255.0 113.0,254.8 114.0,254.7 115.0,254.7 116.0,254.7 117.0,254.6 118.0,254.6 119.0,254.4 120.0,254.2 121.0,254.0 122.0,253.7 123.0,253.4 124.0,253.2 125.0,253.0 126.0,252.8 127.0,252.7 128.0,252.6 129.0,252.5 130.0,252.4 131.0,252.2 132.0,252.0 133.0,251.8 134.0,251.6 135.0,251.4 136.0,251.2 137.0,251.0 138.0,250.9 139.0,250.7 140.0,250.6 141.0,250.4 142.0,250.2 143.0,250.0 144.0,249.8 145.0,249.6 146.0,249.4 147.0,249.2 148.0,249.0 149.0,248.8 150.0,248.6 151.0,248.5 152.0,248.3 153.0,248.1 154.0,247.9 155.0,247.7 156.0,247.5 157.0,247.3 158.0,247.1 159.0,246.8 160.0,246.6 161.0,246.4 162.0,246.2 163.0,246.0 164.0,245.8 165.0,245.6 166.0,245.4 167.0,245.2 168.0,245.0 169.0,244.8 170.0,244.6 171.0,244.4 172.0,244.2 173.0,243.9 174.0,243.7 175.0,243.5 176.0,243.3 177.0,243.1 178.0,242.9 179.0,242.7 180.0,242.5 181.0,242.3 182.0,242.1 183.0,241.9 184.0,241.7 185.0,241.5 186.0,241.3 187.0,241.1 188.0,240.9 189.0,240.7 190.0,240.5 191.0,240.3 192.0,240.1 193.0,239.9 194.0,239.7 195.0,239.5 196.0,239.2 197.0,239.0 198.0,238.8 199.0,238.6 200.0,238.4 201.0,238.2 202.0,238.0 203.0,237.8 204.0,237.6 205.0,237.3 206.0,237.1 207.0,236.9 208.0,236.7 209.0,236.5 210.0,236.2 211.0,236.0 212.0,235.8 213.0,235.6 214.0,235.3 215.0,235.1 216.0,234.9 217.0,234.6 218.0,234.4 219.0,234.1 220.0,233.9 221.0,233.7 222.0,233.4 223.0,233.2 224.0,232.9 225.0,232.7 226.0,232.5 227.0,232.2 228.0,232.0 229.0,231.7 230.0,231.5 231.0,231.2 232.0,230.9 233.0,230.7 234.0,230.4 235.0,230.2 236.0,229.9 237.0,229.7 238.0,229.4 239.0,229.1 240.0,228.9 241.0,228.6 242.0,228.3 243.0,228.1 244.0,227.8 245.0,227.5 246.0,227.3 247.0,227.0 248.0,226.7 249.0,226.4 250.0,226.1 251.0,225.9 252.0,225.6 253.0,225.3 254.0,225.0 255.0,224.7 256.0,224.5 257.0,224.2 258.0,223.9 259.0,223.6 260.0,223.3 261.0,223.0 262.0,222.7 263.0,222.4 264.0,222.1 265.0,221.8 266.0,221.5 267.0,221.2 268.0,220.9 269.0,220.6 270.0,220.3 271.0,220.0 272.0,219.7 273.0,219.4 274.0,219.1 275.0,218.8 276.0,218.5 277.0,218.2 278.0,217.9 279.0,217.6 280.0,217.3 281.0,217.0 282.0,216.7 283.0,216.3 284.0,216.0 285.0,215.7 286.0,215.4 287.0,215.1 288.0,214.8 289.0,214.4 290.0,214.1 291.0,213.8 292.0,213.5 293.0,213.2 294.0,212.9 295.0,212.5 296.0,212.2 297.0,211.9 298.0,211.6 299.0,211.3 300.0,210.9 301.0,210.6 302.0,210.3 303.0,210.0 304.0,209.6 305.0,209.3 306.0,209.0 307.0,208.7 308.0,208.4 309.0,208.0 310.0,207.7 311.0,207.4 312.0,207.1 313.0,206.7 314.0,206.4 315.0,206.1 316.0,205.8 317.0,205.4 318.0,205.1 319.0,204.8 320.0,204.5 321.0,204.2 322.0,203.8 323.0,203.5 324.0,203.2 325.0,202.9 326.0,202.5 327.0,202.2 328.0,201.9 329.0,201.6 330.0,201.3 331.0,200.9 332.0,200.6 333.0,200.3 334.0,200.0 335.0,199.7 336.0,199.3 337.0,199.0 338.0,198.7 339.0,198.4 340.0,198.1 341.0,197.7 342.0,197.4 343.0,197.1 344.0,196.8 345.0,196.5 346.0,196.2 347.0,195.8 348.0,195.5 349.0,195.2 350.0,194.9 351.0,194.6 352.0,194.3 353.0,193.9 354.0,193.6 355.0,193.3 356.0,193.0 357.0,192.7 358.0,192.4 359.0,192.0 360.0,191.7 361.0,191.4 362.0,191.1 363.0,190.8 364.0,190.4 365.0,190.1 366.0,189.8 367.0,189.5 368.0,189.2 369.0,188.8 370.0,188.5 371.0,188.2 372.0,187.9 373.0,187.6 374.0,187.2 375.0,186.9 376.0,186.6 377.0,186.3 378.0,185.9 379.0,185.6 380.0,185.3 381.0,185.0 382.0,184.6 383.0,184.3 384.0,184.0 385.0,183.6 386.0,183.3 387.0,183.0 388.0,182.6 389.0,182.3 390.0,182.0 391.0,181.6 392.0,181.3 393.0,181.0 394.0,180.6 395.0,180.3 396.0,179.9 397.0,179.6 398.0,179.3 399.0,178.9 400.0,178.6 401.0,178.2 402.0,177.9 403.0,177.5 404.0,177.2 405.0,176.8 406.0,176.5 407.0,176.1 408.0,175.8 409.0,175.4 410.0,175.1 411.0,174.7 412.0,174.4 413.0,174.0 414.0,173.6 415.0,173.3 416.0,172.9 417.0,172.5 418.0,172.2 419.0,171.8 420.0,171.4 421.0,171.1 422.0,170.7 423.0,170.3 424.0,169.9 425.0,169.6 426.0,169.2 427.0,168.8 428.0,168.4 429.0,168.0 430.0,167.6 431.0,167.3 432.0,166.9 433.0,166.5 434.0,166.1 435.0,165.7 436.0,165.3 437.0,164.9 438.0,164.5 439.0,164.1 440.0,163.7 441.0,163.3 442.0,162.9 443.0,162.5 444.0,162.1 445.0,161.6 446.0,161.2 447.0,160.8 448.0,160.4 449.0,160.0 450.0,159.5 451.0,159.1 452.0,158.7 453.0,158.3 454.0,157.8 455.0,157.4 456.0,156.9 457.0,156.5 458.0,156.1 459.0,155.6 460.0,155.2 460.5,154.9 460.5,168.1 460.0,168.3 459.0,168.7 458.0,169.1 457.0,169.5 456.0,169.9 455.0,170.3 454.0,170.6 453.0,171.0 452.0,171.4 451.0,171.8 450.0,172.2 449.0,172.6 448.0,173.0 447.0,173.3 446.0,173.7 445.0,174.1 444.0,174.5 443.0,174.8 442.0,175.2 441.0,175.6 440.0,176.0 439.0,176.3 438.0,176.7 437.0,177.0 436.0,177.4 435.0,177.8 434.0,178.1 433.0,178.5 432.0,178.8 431.0,179.2 430.0,179.5 429.0,179.9 428.0,180.2 427.0,180.6 426.0,180.9 425.0,181.3 424.0,181.6 423.0,182.0 422.0,182.3 421.0,182.6 420.0,183.0 419.0,183.3 418.0,183.6 417.0,184.0 416.0,184.3 415.0,184.6 414.0,185.0 413.0,185.3 412.0,185.6 411.0,185.9 410.0,186.3 409.0,186.6 408.0,186.9 407.0,187.2 406.0,187.5 405.0,187.9 404.0,188.2 403.0,188.5 402.0,188.8 401.0,189.1 400.0,189.4 399.0,189.7 398.0,190.0 397.0,190.4 396.0,190.7 395.0,191.0 394.0,191.3 393.0,191.6 392.0,191.9 391.0,192.2 390.0,192.5 389.0,192.8 388.0,193.1 387.0,193.4 386.0,193.7 385.0,194.0 384.0,194.3 383.0,194.6 382.0,194.9 381.0,195.2 380.0,195.5 379.0,195.8 378.0,196.1 377.0,196.4 376.0,196.7 375.0,197.0 374.0,197.3 373.0,197.6 372.0,197.8 371.0,198.1 370.0,198.4 369.0,198.7 368.0,199.0 367.0,199.3 366.0,199.6 365.0,199.9 364.0,200.2 363.0,200.5 362.0,200.7 361.0,201.0 360.0,201.3 359.0,201.6 358.0,201.9 357.0,202.2 356.0,202.5 355.0,202.8 354.0,203.0 353.0,203.3 352.0,203.6 351.0,203.9 350.0,204.2 349.0,204.5 348.0,204.8 347.0,205.1 346.0,205.3 345.0,205.6 344.0,205.9 343.0,206.2 342.0,206.5 341.0,206.8 340.0,207.1 339.0,207.3 338.0,207.6 337.0,207.9 336.0,208.2 335.0,208.5 334.0,208.8 333.0,209.1 332.0,209.4 331.0,209.7 330.0,209.9 329.0,210.2 328.0,210.5 327.0,210.8 326.0,211.1 325.0,211.4 324.0,211.7 323.0,212.0 322.0,212.3 321.0,212.6 320.0,212.9 319.0,213.1 318.0,213.4 317.0,213.7 316.0,214.0 315.0,214.3 314.0,214.6 313.0,214.9 312.0,215.2 311.0,215.5 310.0,215.8 309.0,216.1 308.0,216.4 307.0,216.7 306.0,217.0 305.0,217.2 304.0,217.5 303.0,217.8 302.0,218.1 301.0,218.4 300.0,218.7 299.0,219.0 298.0,219.3 297.0,219.6 296.0,219.9 295.0,220.2 294.0,220.4 293.0,220.7 292.0,221.0 291.0,221.3 290.0,221.6 289.0,221.9 288.0,222.2 287.0,222.5 286.0,222.7 285.0,223.0 284.0,223.3 283.0,223.6 282.0,223.9 281.0,224.2 280.0,224.4 279.0,224.7 278.0,225.0 277.0,225.3 276.0,225.6 275.0,225.8 274.0,226.1 273.0,226.4 272.0,226.7 271.0,226.9 270.0,227.2 269.0,227.5 268.0,227.8 267.0,228.0 266.0,228.3 265.0,228.6 264.0,228.8 263.0,229.1 262.0,229.4 261.0,229.6 260.0,229.9 259.0,230.2 258.0,230.4 257.0,230.7 256.0,230.9 255.0,231.2 254.0,231.5 253.0,231.7 252.0,232.0 251.0,232.2 250.0,232.5 249.0,232.7 248.0,233.0 247.0,233.2 246.0,233.5 245.0,233.7 244.0,234.0 243.0,234.2 242.0,234.4 241.0,234.7 240.0,234.9 239.0,235.2 238.0,235.4 237.0,235.6 236.0,235.9 235.0,236.1 234.0,236.4 233.0,236.6 232.0,236.8 231.0,237.1 230.0,237.3 229.0,237.5 228.0,237.7 227.0,238.0 226.0,238.2 225.0,238.4 224.0,238.6 223.0,238.8 222.0,239.1 221.0,239.3 220.0,239.5 219.0,239.7 218.0,239.9 217.0,240.2 216.0,240.4 215.0,240.6 214.0,240.8 213.0,241.0 212.0,241.2 211.0,241.4 210.0,241.6 209.0,241.8 208.0,242.0 207.0,242.2 206.0,242.4 205.0,242.6 204.0,242.8 203.0,243.0 202.0,243.2 201.0,243.4 200.0,243.6 199.0,243.8 198.0,244.0 197.0,244.2 196.0,244.3 195.0,244.5 194.0,244.7 193.0,244.9 192.0,245.1 191.0,245.3 190.0,245.5 189.0,245.6 188.0,245.8 187.0,246.0 186.0,246.2 185.0,246.4 184.0,246.6 183.0,246.7 182.0,246.9 181.0,247.1 180.0,247.3 179.0,247.5 178.0,247.7 177.0,247.9 176.0,248.1 175.0,248.3 174.0,248.4 173.0,248.6 172.0,248.8 171.0,249.0 170.0,249.2 169.0,249.4 168.0,249.6 167.0,249.8 166.0,250.0 165.0,250.2 164.0,250.4 163.0,250.5 162.0,250.7 161.0,250.9 160.0,251.1 159.0,251.3 158.0,251.5 157.0,251.7 156.0,251.8 155.0,252.0 154.0,252.2 153.0,252.4 152.0,252.6 151.0,252.8 150.0,252.9 149.0,253.1 148.0,253.3 147.0,253.4 146.0,253.6 145.0,253.8 144.0,254.0 143.0,254.2 142.0,254.3 141.0,254.5 140.0,254.6 139.0,254.8 138.0,254.9 137.0,255.1 136.0,255.3 135.0,255.5 134.0,255.7 133.0,255.9 132.0,256.0 131.0,256.2 130.0,256.3 129.0,256.5 128.0,256.6 127.0,256.7 126.0,256.8 125.0,256.9 124.0,257.1 123.0,257.3 122.0,257.6 121.0,257.9 120.0,258.1 119.0,258.2 118.0,258.4 117.0,258.4 116.0,258.5 115.0,258.5 114.0,258.6 113.0,258.7 112.0,258.9 111.0,259.3 110.0,259.7 109.0,260.0 108.0,260.2 107.0,260.3 106.0,260.2 105.0,260.1 104.0,259.9 103.0,259.8 102.0,259.7 101.0,259.9 100.0,260.2 99.0,260.6 98.0,261.1 97.0,261.4 96.0,261.7 95.0,261.7 94.0,261.4 93.0,261.1 92.0,260.7 91.0,260.3 90.0,260.2 89.0,260.3 88.0,260.6 87.0,261.2 86.0,261.9 85.0,262.6 84.0,262.8 83.0,262.6 82.0,261.9 81.0,261.6 80.0,261.2 79.0,261.0 78.0,260.7 77.0,260.7 76.0,261.3 75.0,262.4 74.0,263.4 73.0,264.1 72.0,264.2 71.0,263.9 70.0,263.3 69.0,263.0 68.0,263.2 67.0,263.9 66.0,263.2 65.0,262.2 64.0,261.1"/>
<polygon fill="#ffff00" points="64.00,255.61 68.40,255.61 67.80,262.49 66.40,266.40 65.30,273.40 64.00,273.40"/>
<line x1="64.40" y1="263.00" x2="67.00" y2="263.00" stroke="#000" stroke-width="0.7"/>
<line x1="64.40" y1="265.93" x2="67.00" y2="265.93" stroke="#000" stroke-width="0.7"/>
<line x1="64.40" y1="268.86" x2="67.00" y2="268.86" stroke="#000" stroke-width="0.7"/>
<polyline fill="none" stroke="#000" stroke-opacity="0.4" stroke-width="4.0" stroke-linejoin="round" points="64.0,257.7 65.0,258.4 66.0,259.0 67.0,259.6 68.0,259.5 69.0,259.7 70.0,260.2 71.0,261.1 72.0,261.5 73.0,261.4 74.0,260.8 75.0,259.9 76.0,259.1 77.0,258.5 78.0,258.4 79.0,258.8 80.0,259.0 81.0,259.5 82.0,260.0 83.0,260.6 84.0,260.9 85.0,260.7 86.0,260.0 87.0,259.3 88.0,258.6 89.0,258.2 90.0,258.1 91.0,258.3 92.0,258.7 93.0,259.2 94.0,259.7 95.0,259.9 96.0,259.9 97.0,259.6 98.0,259.1 99.0,258.6 100.0,258.2 101.0,257.9 102.0,257.8 103.0,257.8 104.0,258.0 105.0,258.3 106.0,258.5 107.0,258.5 108.0,258.4 109.0,258.1 110.0,257.7 111.0,257.3 112.0,257.0 113.0,256.8 114.0,256.6 115.0,256.6 116.0,256.6 117.0,256.5 118.0,256.5 119.0,256.3 120.0,256.2 121.0,255.9 122.0,255.6 123.0,255.4 124.0,255.1 125.0,255.0 126.0,254.8 127.0,254.7 128.0,254.6 129.0,254.5 130.0,254.3 131.0,254.2 132.0,254.0 133.0,253.8 134.0,253.6 135.0,253.4 136.0,253.2 137.0,253.1 138.0,252.9 139.0,252.8 140.0,252.6 141.0,252.4 142.0,252.3 143.0,252.1 144.0,251.9 145.0,251.7 146.0,251.5 147.0,251.3 148.0,251.2 149.0,251.0 150.0,250.8 151.0,250.6 152.0,250.4 153.0,250.2 154.0,250.1 155.0,249.9 156.0,249.7 157.0,249.5 158.0,249.3 159.0,249.1 160.0,248.9 161.0,248.7 162.0,248.5 163.0,248.3 164.0,248.1 165.0,247.9 166.0,247.7 167.0,247.5 168.0,247.3 169.0,247.1 170.0,246.9 171.0,246.7 172.0,246.5 173.0,246.3 174.0,246.1 175.0,245.9 176.0,245.7 177.0,245.5 178.0,245.3 179.0,245.1 180.0,244.9 181.0,244.7 182.0,244.5 183.0,244.3 184.0,244.1 185.0,243.9 186.0,243.7 187.0,243.5 188.0,243.3 189.0,243.2 190.0,243.0 191.0,242.8 192.0,242.6 193.0,242.4 194.0,242.2 195.0,242.0 196.0,241.8 197.0,241.6 198.0,241.4 199.0,241.2 200.0,241.0 201.0,240.8 202.0,240.6 203.0,240.4 204.0,240.2 205.0,240.0 206.0,239.8 207.0,239.6 208.0,239.3 209.0,239.1 210.0,238.9 211.0,238.7 212.0,238.5 213.0,238.3 214.0,238.1 215.0,237.8 216.0,237.6 217.0,237.4 218.0,237.2 219.0,236.9 220.0,236.7 221.0,236.5 222.0,236.3 223.0,236.0 224.0,235.8 225.0,235.6 226.0,235.3 227.0,235.1 228.0,234.8 229.0,234.6 230.0,234.4 231.0,234.1 232.0,233.9 233.0,233.6 234.0,233.4 235.0,233.1 236.0,232.9 237.0,232.7 238.0,232.4 239.0,232.2 240.0,231.9 241.0,231.6 242.0,231.4 243.0,231.1 244.0,230.9 245.0,230.6 246.0,230.4 247.0,230.1 248.0,229.8 249.0,229.6 250.0,229.3 251.0,229.0 252.0,228.8 253.0,228.5 254.0,228.2 255.0,228.0 256.0,227.7 257.0,227.4 258.0,227.2 259.0,226.9 260.0,226.6 261.0,226.3 262.0,226.0 263.0,225.8 264.0,225.5 265.0,225.2 266.0,224.9 267.0,224.6 268.0,224.3 269.0,224.1 270.0,223.8 271.0,223.5 272.0,223.2 273.0,222.9 274.0,222.6 275.0,222.3 276.0,222.0 277.0,221.7 278.0,221.4 279.0,221.2 280.0,220.9 281.0,220.6 282.0,220.3 283.0,220.0 284.0,219.7 285.0,219.4 286.0,219.1 287.0,218.8 288.0,218.5 289.0,218.2 290.0,217.9 291.0,217.6 292.0,217.3 293.0,217.0 294.0,216.7 295.0,216.3 296.0,216.0 297.0,215.7 298.0,215.4 299.0,215.1 300.0,214.8 301.0,214.5 302.0,214.2 303.0,213.9 304.0,213.6 305.0,213.3 306.0,213.0 307.0,212.7 308.0,212.4 309.0,212.1 310.0,211.7 311.0,211.4 312.0,211.1 313.0,210.8 314.0,210.5 315.0,210.2 316.0,209.9 317.0,209.6 318.0,209.3 319.0,209.0 320.0,208.7 321.0,208.4 322.0,208.1 323.0,207.7 324.0,207.4 325.0,207.1 326.0,206.8 327.0,206.5 328.0,206.2 329.0,205.9 330.0,205.6 331.0,205.3 332.0,205.0 333.0,204.7 334.0,204.4 335.0,204.1 336.0,203.8 337.0,203.5 338.0,203.2 339.0,202.9 340.0,202.6 341.0,202.3 342.0,202.0 343.0,201.7 344.0,201.4 345.0,201.1 346.0,200.8 347.0,200.5 348.0,200.1 349.0,199.8 350.0,199.5 351.0,199.2 352.0,198.9 353.0,198.6 354.0,198.3 355.0,198.0 356.0,197.7 357.0,197.4 358.0,197.1 359.0,196.8 360.0,196.5 361.0,196.2 362.0,195.9 363.0,195.6 364.0,195.3 365.0,195.0 366.0,194.7 367.0,194.4 368.0,194.1 369.0,193.8 370.0,193.5 371.0,193.2 372.0,192.9 373.0,192.6 374.0,192.2 375.0,191.9 376.0,191.6 377.0,191.3 378.0,191.0 379.0,190.7 380.0,190.4 381.0,190.1 382.0,189.8 383.0,189.4 384.0,189.1 385.0,188.8 386.0,188.5 387.0,188.2 388.0,187.9 389.0,187.6 390.0,187.2 391.0,186.9 392.0,186.6 393.0,186.3 394.0,186.0 395.0,185.6 396.0,185.3 397.0,185.0 398.0,184.7 399.0,184.3 400.0,184.0 401.0,183.7 402.0,183.3 403.0,183.0 404.0,182.7 405.0,182.3 406.0,182.0 407.0,181.7 408.0,181.3 409.0,181.0 410.0,180.7 411.0,180.3 412.0,180.0 413.0,179.6 414.0,179.3 415.0,178.9 416.0,178.6 417.0,178.3 418.0,177.9 419.0,177.6 420.0,177.2 421.0,176.8 422.0,176.5 423.0,176.1 424.0,175.8 425.0,175.4 426.0,175.1 427.0,174.7 428.0,174.3 429.0,174.0 430.0,173.6 431.0,173.2 432.0,172.9 433.0,172.5 434.0,172.1 435.0,171.7 436.0,171.4 437.0,171.0 438.0,170.6 439.0,170.2 440.0,169.8 441.0,169.4 442.0,169.0 443.0,168.7 444.0,168.3 445.0,167.9 446.0,167.5 447.0,167.1 448.0,166.7 449.0,166.3 450.0,165.9 451.0,165.5 452.0,165.1 453.0,164.6 454.0,164.2 455.0,163.8 456.0,163.4 457.0,163.0 458.0,162.6 459.0,162.1 460.0,161.7 460.5,161.5"/>
<polyline fill="none" stroke="#000" stroke-width="2.6" stroke-linejoin="round" points="64.0,257.7 65.0,258.4 66.0,259.0 67.0,259.6 68.0,259.5 69.0,259.7 70.0,260.2 71.0,261.1 72.0,261.5 73.0,261.4 74.0,260.8 75.0,259.9 76.0,259.1 77.0,258.5 78.0,258.4 79.0,258.8 80.0,259.0 81.0,259.5 82.0,260.0 83.0,260.6 84.0,260.9 85.0,260.7 86.0,260.0 87.0,259.3 88.0,258.6 89.0,258.2 90.0,258.1 91.0,258.3 92.0,258.7 93.0,259.2 94.0,259.7 95.0,259.9 96.0,259.9 97.0,259.6 98.0,259.1 99.0,258.6 100.0,258.2 101.0,257.9 102.0,257.8 103.0,257.8 104.0,258.0 105.0,258.3 106.0,258.5 107.0,258.5 108.0,258.4 109.0,258.1 110.0,257.7 111.0,257.3 112.0,257.0 113.0,256.8 114.0,256.6 115.0,256.6 116.0,256.6 117.0,256.5 118.0,256.5 119.0,256.3 120.0,256.2 121.0,255.9 122.0,255.6 123.0,255.4 124.0,255.1 125.0,255.0 126.0,254.8 127.0,254.7 128.0,254.6 129.0,254.5 130.0,254.3 131.0,254.2 132.0,254.0 133.0,253.8 134.0,253.6 135.0,253.4 136.0,253.2 137.0,253.1 138.0,252.9 139.0,252.8 140.0,252.6 141.0,252.4 142.0,252.3 143.0,252.1 144.0,251.9 145.0,251.7 146.0,251.5 147.0,251.3 148.0,251.2 149.0,251.0 150.0,250.8 151.0,250.6 152.0,250.4 153.0,250.2 154.0,250.1 155.0,249.9 156.0,249.7 157.0,249.5 158.0,249.3 159.0,249.1 160.0,248.9 161.0,248.7 162.0,248.5 163.0,248.3 164.0,248.1 165.0,247.9 166.0,247.7 167.0,247.5 168.0,247.3 169.0,247.1 170.0,246.9 171.0,246.7 172.0,246.5 173.0,246.3 174.0,246.1 175.0,245.9 176.0,245.7 177.0,245.5 178.0,245.3 179.0,245.1 180.0,244.9 181.0,244.7 182.0,244.5 183.0,244.3 184.0,244.1 185.0,243.9 186.0,243.7 187.0,243.5 188.0,243.3 189.0,243.2 190.0,243.0 191.0,242.8 192.0,242.6 193.0,242.4 194.0,242.2 195.0,242.0 196.0,241.8 197.0,241.6 198.0,241.4 199.0,241.2 200.0,241.0 201.0,240.8 202.0,240.6 203.0,240.4 204.0,240.2 205.0,240.0 206.0,239.8 207.0,239.6 208.0,239.3 209.0,239.1 210.0,238.9 211.0,238.7 212.0,238.5 213.0,238.3 214.0,238.1 215.0,237.8 216.0,237.6 217.0,237.4 218.0,237.2 219.0,236.9 220.0,236.7 221.0,236.5 222.0,236.3 223.0,236.0 224.0,235.8 225.0,235.6 226.0,235.3 227.0,235.1 228.0,234.8 229.0,234.6 230.0,234.4 231.0,234.1 232.0,233.9 233.0,233.6 234.0,233.4 235.0,233.1 236.0,232.9 237.0,232.7 238.0,232.4 239.0,232.2 240.0,231.9 241.0,231.6 242.0,231.4 243.0,231.1 244.0,230.9 245.0,230.6 246.0,230.4 247.0,230.1 248.0,229.8 249.0,229.6 250.0,229.3 251.0,229.0 252.0,228.8 253.0,228.5 254.0,228.2 255.0,228.0 256.0,227.7 257.0,227.4 258.0,227.2 259.0,226.9 260.0,226.6 261.0,226.3 262.0,226.0 263.0,225.8 264.0,225.5 265.0,225.2 266.0,224.9 267.0,224.6 268.0,224.3 269.0,224.1 270.0,223.8 271.0,223.5 272.0,223.2 273.0,222.9 274.0,222.6 275.0,222.3 276.0,222.0 277.0,221.7 278.0,221.4 279.0,221.2 280.0,220.9 281.0,220.6 282.0,220.3 283.0,220.0 284.0,219.7 285.0,219.4 286.0,219.1 287.0,218.8 288.0,218.5 289.0,218.2 290.0,217.9 291.0,217.6 292.0,217.3 293.0,217.0 294.0,216.7 295.0,216.3 296.0,216.0 297.0,215.7 298.0,215.4 299.0,215.1 300.0,214.8 301.0,214.5 302.0,214.2 303.0,213.9 304.0,213.6 305.0,213.3 306.0,213.0 307.0,212.7 308.0,212.4 309.0,212.1 310.0,211.7 311.0,211.4 312.0,211.1 313.0,210.8 314.0,210.5 315.0,210.2 316.0,209.9 317.0,209.6 318.0,209.3 319.0,209.0 320.0,208.7 321.0,208.4 322.0,208.1 323.0,207.7 324.0,207.4 325.0,207.1 326.0,206.8 327.0,206.5 328.0,206.2 329.0,205.9 330.0,205.6 331.0,205.3 332.0,205.0 333.0,204.7 334.0,204.4 335.0,204.1 336.0,203.8 337.0,203.5 338.0,203.2 339.0,202.9 340.0,202.6 341.0,202.3 342.0,202.0 343.0,201.7 344.0,201.4 345.0,201.1 346.0,200.8 347.0,200.5 348.0,200.1 349.0,199.8 350.0,199.5 351.0,199.2 352.0,198.9 353.0,198.6 354.0,198.3 355.0,198.0 356.0,197.7 357.0,197.4 358.0,197.1 359.0,196.8 360.0,196.5 361.0,196.2 362.0,195.9 363.0,195.6 364.0,195.3 365.0,195.0 366.0,194.7 367.0,194.4 368.0,194.1 369.0,193.8 370.0,193.5 371.0,193.2 372.0,192.9 373.0,192.6 374.0,192.2 375.0,191.9 376.0,191.6 377.0,191.3 378.0,191.0 379.0,190.7 380.0,190.4 381.0,190.1 382.0,189.8 383.0,189.4 384.0,189.1 385.0,188.8 386.0,188.5 387.0,188.2 388.0,187.9 389.0,187.6 390.0,187.2 391.0,186.9 392.0,186.6 393.0,186.3 394.0,186.0 395.0,185.6 396.0,185.3 397.0,185.0 398.0,184.7 399.0,184.3 400.0,184.0 401.0,183.7 402.0,183.3 403.0,183.0 404.0,182.7 405.0,182.3 406.0,182.0 407.0,181.7 408.0,181.3 409.0,181.0 410.0,180.7 411.0,180.3 412.0,180.0 413.0,179.6 414.0,179.3 415.0,178.9 416.0,178.6 417.0,178.3 418.0,177.9 419.0,177.6 420.0,177.2 421.0,176.8 422.0,176.5 423.0,176.1 424.0,175.8 425.0,175.4 426.0,175.1 427.0,174.7 428.0,174.3 429.0,174.0 430.0,173.6 431.0,173.2 432.0,172.9 433.0,172.5 434.0,172.1 435.0,171.7 436.0,171.4 437.0,171.0 438.0,170.6 439.0,170.2 440.0,169.8 441.0,169.4 442.0,169.0 443.0,168.7 444.0,168.3 445.0,167.9 446.0,167.5 447.0,167.1 448.0,166.7 449.0,166.3 450.0,165.9 451.0,165.5 452.0,165.1 453.0,164.6 454.0,164.2 455.0,163.8 456.0,163.4 457.0,163.0 458.0,162.6 459.0,162.1 460.0,161.7 460.5,161.5"/>
<line x1="64.00" y1="258.60" x2="460.50" y2="258.60" stroke="#000" stroke-opacity="0.72" stroke-width="0.75" stroke-dasharray="2.3,3.59" stroke-dashoffset="0.6"/>
<polyline fill="none" stroke="#ff0000" stroke-width="2.0" stroke-linejoin="round" points="64.0,259.5 65.0,259.5 66.0,259.3 67.0,259.1 68.0,259.1 69.0,259.6 70.0,260.2 71.0,260.9 72.0,261.2 73.0,261.0 74.0,260.3 75.0,259.4 76.0,258.5 77.0,257.9 78.0,257.7 79.0,258.0 80.0,258.7 81.0,259.5 82.0,260.2 83.0,260.7 84.0,260.7 85.0,260.4 86.0,259.8 87.0,259.0 88.0,258.3 89.0,257.9 90.0,257.8 91.0,258.0 92.0,258.5 93.0,259.0 94.0,259.4 95.0,259.6 96.0,259.6 97.0,259.3 98.0,258.8 99.0,258.3 100.0,257.8 101.0,257.6 102.0,257.5 103.0,257.6 104.0,257.8 105.0,258.0 106.0,258.2 107.0,258.2 108.0,258.1 109.0,257.8 110.0,257.4 111.0,257.1 112.0,256.8 113.0,256.5 114.0,256.4 115.0,256.3 116.0,256.3 117.0,256.3 118.0,256.2 119.0,256.1 120.0,255.9 121.0,255.7 122.0,255.4 123.0,255.1 124.0,254.9 125.0,254.7 126.0,254.6 127.0,254.4 128.0,254.3 129.0,254.2 130.0,254.1 131.0,253.9 132.0,253.7 133.0,253.5 134.0,253.3 135.0,253.1 136.0,253.0 137.0,252.8 138.0,252.6 139.0,252.5 140.0,252.3 141.0,252.2 142.0,252.0 143.0,251.8 144.0,251.6 145.0,251.5 146.0,251.3 147.0,251.1 148.0,250.9 149.0,250.7 150.0,250.5 151.0,250.4 152.0,250.2 153.0,250.0 154.0,249.8 155.0,249.6 156.0,249.4 157.0,249.3 158.0,249.1 159.0,248.9 160.0,248.7 161.0,248.5 162.0,248.3 163.0,248.1 164.0,247.9 165.0,247.7 166.0,247.5 167.0,247.3 168.0,247.1 169.0,246.9 170.0,246.7 171.0,246.5 172.0,246.3 173.0,246.1 174.0,245.9 175.0,245.7 176.0,245.6 177.0,245.4 178.0,245.2 179.0,245.0 180.0,244.8 181.0,244.6 182.0,244.4 183.0,244.2 184.0,244.0 185.0,243.8 186.0,243.7 187.0,243.5 188.0,243.3 189.0,243.1 190.0,242.9 191.0,242.7 192.0,242.5 193.0,242.3 194.0,242.2 195.0,242.0 196.0,241.8 197.0,241.6 198.0,241.4 199.0,241.2 200.0,241.0 201.0,240.8 202.0,240.6 203.0,240.4 204.0,240.2 205.0,240.0 206.0,239.8 207.0,239.6 208.0,239.4 209.0,239.2 210.0,239.0 211.0,238.8 212.0,238.6 213.0,238.4 214.0,238.2 215.0,237.9 216.0,237.7 217.0,237.5 218.0,237.3 219.0,237.1 220.0,236.9 221.0,236.7 222.0,236.4 223.0,236.2 224.0,236.0 225.0,235.8 226.0,235.6 227.0,235.3 228.0,235.1 229.0,234.9 230.0,234.7 231.0,234.4 232.0,234.2 233.0,234.0 234.0,233.8 235.0,233.5 236.0,233.3 237.0,233.1 238.0,232.9 239.0,232.7 240.0,232.4 241.0,232.2 242.0,232.0 243.0,231.8 244.0,231.5 245.0,231.3 246.0,231.1 247.0,230.9 248.0,230.6 249.0,230.4 250.0,230.2 251.0,230.0 252.0,229.7 253.0,229.5 254.0,229.3 255.0,229.0 256.0,228.8 257.0,228.6 258.0,228.4 259.0,228.1 260.0,227.9 261.0,227.7 262.0,227.4 263.0,227.2 264.0,227.0 265.0,226.8 266.0,226.5 267.0,226.3 268.0,226.1 269.0,225.9 270.0,225.6 271.0,225.4 272.0,225.2 273.0,225.0 274.0,224.8 275.0,224.5 276.0,224.3 277.0,224.1 278.0,223.9 279.0,223.7 280.0,223.5 281.0,223.2 282.0,223.0 283.0,222.8 284.0,222.6 285.0,222.4 286.0,222.2 287.0,222.0 288.0,221.8 289.0,221.5 290.0,221.3 291.0,221.1 292.0,220.9 293.0,220.7 294.0,220.5 295.0,220.3 296.0,220.1 297.0,219.9 298.0,219.7 299.0,219.5 300.0,219.3 301.0,219.0 302.0,218.8 303.0,218.6 304.0,218.4 305.0,218.2 306.0,218.0 307.0,217.8 308.0,217.6 309.0,217.4 310.0,217.2 311.0,217.0 312.0,216.8 313.0,216.6 314.0,216.4 315.0,216.1 316.0,215.9 317.0,215.7 318.0,215.5 319.0,215.3 320.0,215.1 321.0,214.9 322.0,214.7 323.0,214.5 324.0,214.3 325.0,214.1 326.0,213.8 327.0,213.6 328.0,213.4 329.0,213.2 330.0,213.0 331.0,212.8 332.0,212.6 333.0,212.4 334.0,212.1 335.0,211.9 336.0,211.7 337.0,211.5 338.0,211.3 339.0,211.1 340.0,210.9 341.0,210.7 342.0,210.4 343.0,210.2 344.0,210.0 345.0,209.8 346.0,209.6 347.0,209.4 348.0,209.2 349.0,209.0 350.0,208.7 351.0,208.5 352.0,208.3 353.0,208.1 354.0,207.9 355.0,207.7 356.0,207.5 357.0,207.3 358.0,207.1 359.0,206.8 360.0,206.6 361.0,206.4 362.0,206.2 363.0,206.0 364.0,205.8 365.0,205.6 366.0,205.4 367.0,205.2 368.0,204.9 369.0,204.7 370.0,204.5 371.0,204.3 372.0,204.1 373.0,203.9 374.0,203.7 375.0,203.5 376.0,203.3 377.0,203.0 378.0,202.8 379.0,202.6 380.0,202.4 381.0,202.2 382.0,202.0 383.0,201.8 384.0,201.6 385.0,201.4 386.0,201.1 387.0,200.9 388.0,200.7 389.0,200.5 390.0,200.3 391.0,200.1 392.0,199.9 393.0,199.7 394.0,199.5 395.0,199.3 396.0,199.0 397.0,198.8 398.0,198.6 399.0,198.4 400.0,198.2 401.0,198.0 402.0,197.8 403.0,197.6 404.0,197.4 405.0,197.2 406.0,196.9 407.0,196.7 408.0,196.5 409.0,196.3 410.0,196.1 411.0,195.9 412.0,195.7 413.0,195.5 414.0,195.3 415.0,195.1 416.0,194.8 417.0,194.6 418.0,194.4 419.0,194.2 420.0,194.0 421.0,193.8 422.0,193.6 423.0,193.4 424.0,193.1 425.0,192.9 426.0,192.7 427.0,192.5 428.0,192.3 429.0,192.1 430.0,191.8 431.0,191.6 432.0,191.4 433.0,191.2 434.0,191.0 435.0,190.7 436.0,190.5 437.0,190.3 438.0,190.1 439.0,189.8 440.0,189.6 441.0,189.4 442.0,189.2 443.0,188.9 444.0,188.7 445.0,188.5 446.0,188.2 447.0,188.0 448.0,187.8 449.0,187.5 450.0,187.3 451.0,187.1 452.0,186.8 453.0,186.6 454.0,186.3 455.0,186.1 456.0,185.8 457.0,185.6 458.0,185.3 459.0,185.1 460.0,184.8 460.5,184.7"/>
<polyline fill="none" stroke="#ff0000" stroke-width="0.7" points="230.0,234.5 231.0,234.3 232.0,234.1 233.0,233.9 234.0,233.7 235.0,233.5 236.0,233.3 237.0,233.1 238.0,232.9 239.0,232.7 240.0,232.5 241.0,232.3 242.0,232.1 243.0,231.9 244.0,231.7 245.0,231.6 246.0,231.4 247.0,231.2 248.0,231.0 249.0,230.8 250.0,230.6 251.0,230.4 252.0,230.2 253.0,230.1 254.0,229.9 255.0,229.7 256.0,229.5 257.0,229.3 258.0,229.2 259.0,229.0 260.0,228.8 261.0,228.6 262.0,228.5 263.0,228.3 264.0,228.1 265.0,228.0 266.0,227.8 267.0,227.6 268.0,227.5 269.0,227.3 270.0,227.1 271.0,227.0 272.0,226.8 273.0,226.7 274.0,226.5 275.0,226.4 276.0,226.2 277.0,226.1 278.0,225.9 279.0,225.8 280.0,225.6 281.0,225.5 282.0,225.3 283.0,225.2 284.0,225.0 285.0,224.9 286.0,224.7 287.0,224.6 288.0,224.4 289.0,224.3 290.0,224.1 291.0,224.0 292.0,223.8 293.0,223.7 294.0,223.6 295.0,223.4 296.0,223.3 297.0,223.1 298.0,223.0 299.0,222.8 300.0,222.7 301.0,222.5 302.0,222.4 303.0,222.2 304.0,222.1 305.0,221.9 306.0,221.8 307.0,221.6 308.0,221.5 309.0,221.3 310.0,221.2 311.0,221.0 312.0,220.9 313.0,220.7 314.0,220.5 315.0,220.4 316.0,220.2 317.0,220.1 318.0,219.9 319.0,219.7 320.0,219.6 321.0,219.4 322.0,219.2 323.0,219.1 324.0,218.9 325.0,218.7 326.0,218.5 327.0,218.4 328.0,218.2 329.0,218.0 330.0,217.8 331.0,217.6 332.0,217.4 333.0,217.2 334.0,217.0 335.0,216.8 336.0,216.6 337.0,216.3 338.0,216.1 339.0,215.9 340.0,215.7 341.0,215.4 342.0,215.2 343.0,215.0 344.0,214.8 345.0,214.5 346.0,214.3 347.0,214.1 348.0,213.9 349.0,213.7 350.0,213.5 351.0,213.3 352.0,213.1 353.0,212.9 354.0,212.7 355.0,212.5 356.0,212.3 357.0,212.2 358.0,212.0 359.0,211.8 360.0,211.6 361.0,211.4 362.0,211.2 363.0,211.0 364.0,210.9 365.0,210.7 366.0,210.5 367.0,210.3 368.0,210.1 369.0,209.9 370.0,209.8 371.0,209.6 372.0,209.4 373.0,209.2 374.0,209.1 375.0,208.9 376.0,208.7 377.0,208.5 378.0,208.4 379.0,208.2 380.0,208.0 381.0,207.9 382.0,207.7 383.0,207.5 384.0,207.4 385.0,207.2 386.0,207.0 387.0,206.9 388.0,206.7 389.0,206.5 390.0,206.4 391.0,206.2 392.0,206.1 393.0,205.9 394.0,205.7 395.0,205.6 396.0,205.4 397.0,205.3 398.0,205.1 399.0,205.0 400.0,204.8 401.0,204.6 402.0,204.5 403.0,204.3 404.0,204.2 405.0,204.0 406.0,203.9 407.0,203.7 408.0,203.6 409.0,203.4 410.0,203.3 411.0,203.1 412.0,203.0 413.0,202.9 414.0,202.7 415.0,202.6 416.0,202.4 417.0,202.3 418.0,202.1 419.0,202.0 420.0,201.8 421.0,201.7 422.0,201.6 423.0,201.4 424.0,201.3 425.0,201.1 426.0,201.0 427.0,200.9 428.0,200.7 429.0,200.6 430.0,200.4 431.0,200.3 432.0,200.2 433.0,200.0 434.0,199.9 435.0,199.8 436.0,199.6 437.0,199.5 438.0,199.4 439.0,199.2 440.0,199.1 441.0,199.0 442.0,198.9 443.0,198.7 444.0,198.6 445.0,198.5 446.0,198.3 447.0,198.2 448.0,198.1 449.0,198.0 450.0,197.8 451.0,197.7 452.0,197.6 453.0,197.5 454.0,197.4 455.0,197.2 456.0,197.1 457.0,197.0 458.0,196.9 459.0,196.8 460.0,196.7 460.5,196.6"/>
<polyline fill="none" stroke="#0000ff" stroke-width="2.2" points="64.3,259.5 64.5,259.5 65.0,259.5 65.5,259.4 66.0,259.3 66.5,259.2 67.0,259.1 67.5,259.2 68.0,259.2 68.5,259.4 69.0,259.6 69.3,259.8"/>
<polyline fill="none" stroke="#0000ff" stroke-width="2.2" points="75.5,259.1 76.0,258.6 76.5,258.3 77.0,258.0 77.5,257.9 78.0,257.8 78.5,258.0 79.0,258.1 79.5,258.5 80.0,258.8 80.3,259.1"/>
<polyline fill="none" stroke="#0000ff" stroke-width="2.2" points="86.3,259.7 86.5,259.6 87.0,259.2 87.5,258.8 88.0,258.5 88.5,258.3 89.0,258.1 89.5,258.0 90.0,258.0 90.5,258.1 91.0,258.2 91.1,258.3"/>
<polyline fill="none" stroke="#0000ff" stroke-width="2.2" points="98.0,259.1 98.5,258.8 99.0,258.5 99.5,258.3 100.0,258.0 100.5,258.0 101.0,257.9 101.5,257.9 102.0,257.9 102.5,257.8 103.0,257.8"/>
<polyline fill="none" stroke="#0000ff" stroke-width="2.2" points="110.4,257.2 110.5,257.2 111.0,257.2 111.5,257.1 112.0,257.1 112.5,257.0 113.0,257.0 113.5,257.0 114.0,256.9 114.5,256.9 115.0,256.8 115.5,256.8 115.6,256.8"/>
<polyline fill="none" stroke="#0000ff" stroke-width="2.2" points="123.0,256.1 123.5,256.0 124.0,256.0 124.5,255.9 125.0,255.9 125.5,255.8 126.0,255.8 126.5,255.7 127.0,255.7 127.5,255.6 128.0,255.6 128.2,255.5"/>
<polyline fill="none" stroke="#0000ff" stroke-width="2.2" stroke-dasharray="5.2,8" points="132.5,255.1 133.0,255.0 133.5,255.0 134.0,254.9 134.5,254.9 135.0,254.9 135.5,254.8 136.0,254.8 136.5,254.7 137.0,254.7 137.5,254.6 138.0,254.6 138.5,254.5 139.0,254.5 139.5,254.5 140.0,254.4 140.5,254.4 141.0,254.3 141.5,254.3 142.0,254.2 142.5,254.2 143.0,254.2 143.5,254.1 144.0,254.1 144.5,254.1 145.0,254.0 145.5,254.0 146.0,254.0 146.5,254.0 147.0,253.9 147.5,253.9 148.0,253.9 148.5,253.9 149.0,253.9 149.5,253.9 150.0,253.9 150.5,253.9 151.0,253.9 151.5,253.9 152.0,253.9 152.5,253.9 153.0,253.9 153.5,253.9 154.0,253.9 154.5,253.9 155.0,253.9 155.5,253.9 156.0,253.9 156.5,253.9 157.0,253.9 157.5,253.9 158.0,253.9 158.5,253.9 159.0,253.9 159.5,253.9 160.0,253.9 160.5,253.9 161.0,253.9 161.5,253.9 162.0,253.9 162.5,253.9 163.0,253.9 163.5,253.9 164.0,254.0 164.5,254.0 165.0,254.0 165.5,254.1 166.0,254.1 166.5,254.2 167.0,254.3 167.5,254.3 168.0,254.4 168.5,254.5 169.0,254.6 169.5,254.6 170.0,254.7 170.5,254.8 171.0,254.9 171.5,255.0 172.0,255.0 172.5,255.1 173.0,255.2 173.5,255.3 174.0,255.4 174.5,255.4 175.0,255.5 175.5,255.6 176.0,255.6 176.5,255.7 177.0,255.8 177.5,255.8 178.0,255.9 178.5,256.0 179.0,256.1 179.5,256.1 180.0,256.2 180.5,256.3 181.0,256.4 181.5,256.4 182.0,256.5 182.5,256.6 183.0,256.7 183.5,256.8 184.0,256.9 184.5,257.0 185.0,257.1 185.5,257.2 186.0,257.3 186.5,257.4 187.0,257.5 187.5,257.6 188.0,257.7 188.5,257.8 189.0,258.0 189.5,258.1 190.0,258.2 190.5,258.4 191.0,258.6 191.5,258.7 192.0,258.9 192.5,259.1 193.0,259.3 193.5,259.5 194.0,259.7 194.5,259.9 195.0,260.1 195.5,260.3 196.0,260.5 196.5,260.8 197.0,261.0 197.5,261.2 198.0,261.5 198.5,261.7 199.0,261.9 199.5,262.2 200.0,262.4 200.5,262.7 201.0,262.9 201.5,263.2 201.7,263.3"/>
<polyline fill="none" stroke="#0000ff" stroke-width="2.2" stroke-dasharray="5.2,8" points="201.7,263.3 202.0,263.5 202.5,263.7 203.0,264.0 203.5,264.3 204.0,264.6 204.5,264.9 205.0,265.2 205.5,265.5 206.0,265.8 206.5,266.1 207.0,266.5 207.5,266.8 208.0,267.2 208.5,267.5 209.0,267.9 209.5,268.2 210.0,268.6 210.5,269.0 211.0,269.3 211.5,269.7 212.0,270.1 212.5,270.5 213.0,270.8 213.5,271.2 214.0,271.6 214.5,272.0 215.0,272.4 215.5,272.8 216.0,273.2 216.5,273.7 217.0,274.1 217.5,274.6 218.0,275.0"/>
<polyline fill="none" stroke="#0000ff" stroke-width="0.55" points="64.3,259.5 64.5,259.5 65.0,259.5 65.5,259.4 66.0,259.3 66.5,259.2 67.0,259.1 67.5,259.2 68.0,259.2 68.5,259.4 69.0,259.6 69.3,259.8"/>
<polyline fill="none" stroke="#0000ff" stroke-width="0.55" points="75.5,259.1 76.0,258.6 76.5,258.3 77.0,258.0 77.5,257.9 78.0,257.8 78.5,258.0 79.0,258.1 79.5,258.5 80.0,258.8 80.3,259.1"/>
<polyline fill="none" stroke="#0000ff" stroke-width="0.55" points="86.3,259.7 86.5,259.6 87.0,259.2 87.5,258.8 88.0,258.5 88.5,258.3 89.0,258.1 89.5,258.0 90.0,258.0 90.5,258.1 91.0,258.2 91.1,258.3"/>
<polyline fill="none" stroke="#0000ff" stroke-width="0.55" points="98.0,259.1 98.5,258.8 99.0,258.5 99.5,258.4 100.0,258.3 100.5,258.3 101.0,258.2 101.5,258.2 102.0,258.2 102.5,258.1 103.0,258.1"/>
<polyline fill="none" stroke="#0000ff" stroke-width="0.55" points="110.4,257.7 110.5,257.7 111.0,257.7 111.5,257.7 112.0,257.7 112.5,257.7 113.0,257.6 113.5,257.6 114.0,257.6 114.5,257.6 115.0,257.6 115.5,257.6 115.6,257.6"/>
<polyline fill="none" stroke="#0000ff" stroke-width="0.55" points="123.0,257.5 123.5,257.5 124.0,257.5 124.5,257.5 125.0,257.5 125.5,257.5 126.0,257.5 126.5,257.5 127.0,257.5 127.5,257.5 128.0,257.5 128.2,257.6"/>
<polyline fill="none" stroke="#0000ff" stroke-width="0.55" stroke-dasharray="5.2,8" points="132.5,257.8 133.0,257.8 133.5,257.8 134.0,257.8 134.5,257.9 135.0,257.9 135.5,257.9 136.0,258.0 136.5,258.0 137.0,258.0 137.5,258.1 138.0,258.1 138.5,258.2 139.0,258.2 139.5,258.2 140.0,258.3 140.5,258.3 141.0,258.4 141.5,258.5 142.0,258.5 142.5,258.6 143.0,258.6 143.5,258.7 144.0,258.8 144.5,258.8 145.0,258.9 145.5,259.0 146.0,259.0 146.5,259.1 147.0,259.2 147.5,259.2 148.0,259.3 148.5,259.4 149.0,259.5 149.5,259.5 150.0,259.6 150.5,259.7 151.0,259.8 151.5,259.9 152.0,260.0 152.5,260.1 153.0,260.2 153.5,260.3 154.0,260.4 154.5,260.6 155.0,260.7 155.5,260.8 156.0,260.9 156.5,261.0 157.0,261.1 157.5,261.3 158.0,261.4 158.5,261.5 159.0,261.6 159.5,261.8 160.0,261.9 160.5,262.0 161.0,262.1 161.5,262.2 162.0,262.4 162.5,262.5 163.0,262.6 163.5,262.7 164.0,262.9 164.5,263.0 165.0,263.1 165.5,263.2 166.0,263.4 166.5,263.5 167.0,263.6 167.5,263.7 168.0,263.9 168.5,264.0 169.0,264.1 169.5,264.3 170.0,264.4 170.5,264.5 171.0,264.7 171.5,264.8 172.0,264.9 172.5,265.1 173.0,265.2 173.5,265.4 174.0,265.5 174.5,265.7 175.0,265.8 175.5,265.9 176.0,266.1 176.5,266.2 177.0,266.4 177.5,266.5 178.0,266.7 178.5,266.8 179.0,267.0 179.5,267.1 180.0,267.3 180.5,267.4 181.0,267.6 181.5,267.8 182.0,267.9 182.5,268.1 183.0,268.3 183.5,268.4 184.0,268.6 184.5,268.8 185.0,269.0 185.5,269.1 186.0,269.3 186.5,269.5 187.0,269.7 187.5,269.9 188.0,270.1 188.5,270.3 189.0,270.5 189.5,270.7 190.0,271.0 190.5,271.2 191.0,271.4 191.5,271.7 192.0,271.9 192.5,272.2 193.0,272.4 193.5,272.7 194.0,272.9 194.5,273.2 195.0,273.5 195.5,273.7 196.0,274.0"/>
</g>
<g clip-path="url(#c2)">
<polygon fill="#00ff00" points="64.0,364.5 65.0,360.7 66.0,356.5 67.0,353.7 68.0,357.2 69.0,360.9 70.0,364.3 71.0,366.4 72.0,367.8 73.0,368.4 74.0,368.7 75.0,367.2 76.0,365.8 77.0,364.0 78.0,363.5 79.0,363.8 80.0,366.0 81.0,368.3 82.0,370.2 83.0,371.1 84.0,371.2 85.0,370.5 86.0,369.0 87.0,367.5 88.0,366.0 89.0,365.0 90.0,364.9 91.0,365.4 92.0,366.5 93.0,367.7 94.0,368.7 95.0,369.1 96.0,368.9 97.0,368.5 98.0,367.9 99.0,367.2 100.0,366.4 101.0,365.8 102.0,365.7 103.0,366.1 104.0,366.7 105.0,367.4 106.0,368.0 107.0,368.1 108.0,367.8 109.0,367.3 110.0,366.9 111.0,366.4 112.0,365.9 113.0,365.5 114.0,365.3 115.0,365.4 116.0,365.5 117.0,365.7 118.0,365.8 119.0,365.8 120.0,365.7 121.0,365.4 122.0,365.0 123.0,364.7 124.0,364.5 125.0,364.2 126.0,364.0 127.0,363.9 128.0,363.8 129.0,363.8 130.0,363.7 131.0,363.5 132.0,363.4 133.0,363.2 134.0,363.0 135.0,362.7 136.0,362.5 137.0,362.3 138.0,362.1 139.0,361.9 140.0,361.8 141.0,361.6 142.0,361.4 143.0,361.3 144.0,361.2 145.0,360.9 146.0,360.6 147.0,360.4 148.0,360.2 149.0,359.9 150.0,359.8 151.0,359.6 152.0,359.5 153.0,359.3 154.0,359.1 155.0,358.9 156.0,358.6 157.0,358.4 158.0,358.2 159.0,358.0 160.0,357.9 161.0,357.7 162.0,357.5 163.0,357.3 164.0,357.1 165.0,356.9 166.0,356.7 167.0,356.5 168.0,356.3 169.0,356.2 170.0,355.9 171.0,355.7 172.0,355.5 173.0,355.3 174.0,355.1 175.0,354.9 176.0,354.7 177.0,354.5 178.0,354.4 179.0,354.2 180.0,354.0 181.0,353.8 182.0,353.6 183.0,353.4 184.0,353.2 185.0,353.0 186.0,352.8 187.0,352.6 188.0,352.4 189.0,352.2 190.0,352.0 191.0,351.8 192.0,351.6 193.0,351.4 194.0,351.2 195.0,351.0 196.0,350.8 197.0,350.6 198.0,350.5 199.0,350.3 200.0,350.0 201.0,349.8 202.0,349.6 203.0,349.4 204.0,349.2 205.0,349.0 206.0,348.8 207.0,348.6 208.0,348.4 209.0,348.2 210.0,348.0 211.0,347.8 212.0,347.6 213.0,347.3 214.0,347.1 215.0,346.9 216.0,346.7 217.0,346.5 218.0,346.3 219.0,346.1 220.0,345.8 221.0,345.6 222.0,345.4 223.0,345.2 224.0,345.0 225.0,344.7 226.0,344.5 227.0,344.3 228.0,344.1 229.0,343.9 230.0,343.6 231.0,343.4 232.0,343.2 233.0,343.0 234.0,342.7 235.0,342.5 236.0,342.3 237.0,342.0 238.0,341.8 239.0,341.6 240.0,341.3 241.0,341.1 242.0,340.9 243.0,340.6 244.0,340.4 245.0,340.2 246.0,339.9 247.0,339.7 248.0,339.5 249.0,339.2 250.0,339.0 251.0,338.7 252.0,338.5 253.0,338.3 254.0,338.0 255.0,337.8 256.0,337.5 257.0,337.3 258.0,337.0 259.0,336.8 260.0,336.6 261.0,336.3 262.0,336.1 263.0,335.8 264.0,335.6 265.0,335.3 266.0,335.1 267.0,334.8 268.0,334.6 269.0,334.3 270.0,334.1 271.0,333.8 272.0,333.5 273.0,333.3 274.0,333.0 275.0,332.8 276.0,332.5 277.0,332.3 278.0,332.0 279.0,331.7 280.0,331.5 281.0,331.2 282.0,331.0 283.0,330.7 284.0,330.4 285.0,330.2 286.0,329.9 287.0,329.7 288.0,329.4 289.0,329.1 290.0,328.9 291.0,328.6 292.0,328.3 293.0,328.1 294.0,327.8 295.0,327.5 296.0,327.3 297.0,327.0 298.0,326.7 299.0,326.4 300.0,326.2 301.0,325.9 302.0,325.6 303.0,325.4 304.0,325.1 305.0,324.8 306.0,324.6 307.0,324.3 308.0,324.0 309.0,323.7 310.0,323.5 311.0,323.2 312.0,322.9 313.0,322.7 314.0,322.4 315.0,322.1 316.0,321.8 317.0,321.6 318.0,321.3 319.0,321.0 320.0,320.8 321.0,320.5 322.0,320.2 323.0,320.0 324.0,319.7 325.0,319.4 326.0,319.1 327.0,318.9 328.0,318.6 329.0,318.3 330.0,318.1 331.0,317.8 332.0,317.5 333.0,317.3 334.0,317.0 335.0,316.8 336.0,316.5 337.0,316.2 338.0,316.0 339.0,315.7 340.0,315.4 341.0,315.2 342.0,314.9 343.0,314.7 344.0,314.4 345.0,314.1 346.0,313.9 347.0,313.6 348.0,313.4 349.0,313.1 350.0,312.8 351.0,312.6 352.0,312.3 353.0,312.1 354.0,311.8 355.0,311.5 356.0,311.3 357.0,311.0 358.0,310.8 359.0,310.5 360.0,310.2 361.0,310.0 362.0,309.7 363.0,309.5 364.0,309.2 365.0,308.9 366.0,308.7 367.0,308.4 368.0,308.2 369.0,307.9 370.0,307.6 371.0,307.4 372.0,307.1 373.0,306.8 374.0,306.6 375.0,306.3 376.0,306.1 377.0,305.8 378.0,305.5 379.0,305.3 380.0,305.0 381.0,304.7 382.0,304.5 383.0,304.2 384.0,303.9 385.0,303.6 386.0,303.4 387.0,303.1 388.0,302.8 389.0,302.6 390.0,302.3 391.0,302.0 392.0,301.7 393.0,301.5 394.0,301.2 395.0,300.9 396.0,300.6 397.0,300.4 398.0,300.1 399.0,299.8 400.0,299.5 401.0,299.2 402.0,298.9 403.0,298.7 404.0,298.4 405.0,298.1 406.0,297.8 407.0,297.5 408.0,297.2 409.0,296.9 410.0,296.6 411.0,296.3 412.0,296.0 413.0,295.7 414.0,295.4 415.0,295.1 416.0,294.8 417.0,294.5 418.0,294.2 419.0,293.9 420.0,293.6 421.0,293.3 422.0,293.0 423.0,292.7 424.0,292.4 425.0,292.1 426.0,291.7 427.0,291.4 428.0,291.1 429.0,290.8 430.0,290.5 431.0,290.1 432.0,289.8 433.0,289.5 434.0,289.1 435.0,288.8 436.0,288.5 437.0,288.1 438.0,287.8 439.0,287.5 440.0,287.1 441.0,286.8 442.0,286.4 443.0,286.1 444.0,285.7 445.0,285.4 446.0,285.0 447.0,284.7 448.0,284.3 449.0,284.0 450.0,283.6 451.0,283.3 452.0,282.9 453.0,282.5 454.0,282.1 455.0,281.8 456.0,281.4 457.0,281.0 458.0,280.6 459.0,280.3 460.0,279.9 460.5,279.7 460.5,306.1 460.0,306.3 459.0,306.6 458.0,306.9 457.0,307.2 456.0,307.5 455.0,307.8 454.0,308.1 453.0,308.4 452.0,308.7 451.0,309.0 450.0,309.3 449.0,309.6 448.0,309.9 447.0,310.2 446.0,310.5 445.0,310.8 444.0,311.1 443.0,311.4 442.0,311.6 441.0,311.9 440.0,312.2 439.0,312.5 438.0,312.8 437.0,313.0 436.0,313.3 435.0,313.6 434.0,313.8 433.0,314.1 432.0,314.4 431.0,314.7 430.0,314.9 429.0,315.2 428.0,315.4 427.0,315.7 426.0,316.0 425.0,316.2 424.0,316.5 423.0,316.7 422.0,317.0 421.0,317.2 420.0,317.5 419.0,317.8 418.0,318.0 417.0,318.3 416.0,318.5 415.0,318.7 414.0,319.0 413.0,319.2 412.0,319.5 411.0,319.7 410.0,320.0 409.0,320.2 408.0,320.4 407.0,320.7 406.0,320.9 405.0,321.2 404.0,321.4 403.0,321.6 402.0,321.9 401.0,322.1 400.0,322.3 399.0,322.6 398.0,322.8 397.0,323.0 396.0,323.2 395.0,323.5 394.0,323.7 393.0,323.9 392.0,324.2 391.0,324.4 390.0,324.6 389.0,324.8 388.0,325.0 387.0,325.3 386.0,325.5 385.0,325.7 384.0,325.9 383.0,326.2 382.0,326.4 381.0,326.6 380.0,326.8 379.0,327.0 378.0,327.2 377.0,327.5 376.0,327.7 375.0,327.9 374.0,328.1 373.0,328.3 372.0,328.5 371.0,328.8 370.0,329.0 369.0,329.2 368.0,329.4 367.0,329.6 366.0,329.8 365.0,330.0 364.0,330.3 363.0,330.5 362.0,330.7 361.0,330.9 360.0,331.1 359.0,331.3 358.0,331.5 357.0,331.7 356.0,332.0 355.0,332.2 354.0,332.4 353.0,332.6 352.0,332.8 351.0,333.0 350.0,333.2 349.0,333.4 348.0,333.7 347.0,333.9 346.0,334.1 345.0,334.3 344.0,334.5 343.0,334.7 342.0,334.9 341.0,335.1 340.0,335.4 339.0,335.6 338.0,335.8 337.0,336.0 336.0,336.2 335.0,336.4 334.0,336.7 333.0,336.9 332.0,337.1 331.0,337.3 330.0,337.5 329.0,337.7 328.0,338.0 327.0,338.2 326.0,338.4 325.0,338.6 324.0,338.8 323.0,339.1 322.0,339.3 321.0,339.5 320.0,339.7 319.0,339.9 318.0,340.2 317.0,340.4 316.0,340.6 315.0,340.8 314.0,341.0 313.0,341.3 312.0,341.5 311.0,341.7 310.0,341.9 309.0,342.2 308.0,342.4 307.0,342.6 306.0,342.8 305.0,343.0 304.0,343.3 303.0,343.5 302.0,343.7 301.0,343.9 300.0,344.1 299.0,344.4 298.0,344.6 297.0,344.8 296.0,345.0 295.0,345.2 294.0,345.5 293.0,345.7 292.0,345.9 291.0,346.1 290.0,346.3 289.0,346.6 288.0,346.8 287.0,347.0 286.0,347.2 285.0,347.4 284.0,347.6 283.0,347.9 282.0,348.1 281.0,348.3 280.0,348.5 279.0,348.7 278.0,348.9 277.0,349.1 276.0,349.3 275.0,349.5 274.0,349.8 273.0,350.0 272.0,350.2 271.0,350.4 270.0,350.6 269.0,350.8 268.0,351.0 267.0,351.2 266.0,351.4 265.0,351.6 264.0,351.8 263.0,352.0 262.0,352.2 261.0,352.4 260.0,352.6 259.0,352.8 258.0,353.0 257.0,353.2 256.0,353.4 255.0,353.6 254.0,353.8 253.0,354.0 252.0,354.2 251.0,354.4 250.0,354.6 249.0,354.8 248.0,355.0 247.0,355.2 246.0,355.4 245.0,355.6 244.0,355.8 243.0,356.0 242.0,356.2 241.0,356.4 240.0,356.6 239.0,356.8 238.0,357.0 237.0,357.1 236.0,357.3 235.0,357.5 234.0,357.7 233.0,357.9 232.0,358.1 231.0,358.3 230.0,358.4 229.0,358.6 228.0,358.8 227.0,359.0 226.0,359.2 225.0,359.4 224.0,359.6 223.0,359.7 222.0,359.9 221.0,360.1 220.0,360.3 219.0,360.5 218.0,360.6 217.0,360.8 216.0,361.0 215.0,361.2 214.0,361.3 213.0,361.5 212.0,361.7 211.0,361.9 210.0,362.1 209.0,362.2 208.0,362.4 207.0,362.6 206.0,362.7 205.0,362.9 204.0,363.1 203.0,363.3 202.0,363.4 201.0,363.6 200.0,363.8 199.0,363.9 198.0,364.1 197.0,364.3 196.0,364.4 195.0,364.6 194.0,364.8 193.0,364.9 192.0,365.1 191.0,365.3 190.0,365.4 189.0,365.6 188.0,365.8 187.0,365.9 186.0,366.1 185.0,366.2 184.0,366.4 183.0,366.6 182.0,366.7 181.0,366.9 180.0,367.0 179.0,367.2 178.0,367.4 177.0,367.6 176.0,367.7 175.0,367.9 174.0,368.0 173.0,368.2 172.0,368.4 171.0,368.5 170.0,368.7 169.0,368.8 168.0,369.0 167.0,369.2 166.0,369.4 165.0,369.5 164.0,369.7 163.0,369.8 162.0,370.0 161.0,370.1 160.0,370.3 159.0,370.5 158.0,370.7 157.0,370.9 156.0,371.1 155.0,371.2 154.0,371.3 153.0,371.5 152.0,371.7 151.0,371.9 150.0,372.1 149.0,372.3 148.0,372.4 147.0,372.6 146.0,372.7 145.0,372.9 144.0,373.0 143.0,373.2 142.0,373.4 141.0,373.6 140.0,373.7 139.0,373.9 138.0,374.0 137.0,374.2 136.0,374.4 135.0,374.5 134.0,374.6 133.0,374.8 132.0,375.1 131.0,375.3 130.0,375.5 129.0,375.6 128.0,375.6 127.0,375.7 126.0,375.8 125.0,375.8 124.0,376.0 123.0,376.3 122.0,376.7 121.0,377.0 120.0,377.1 119.0,377.2 118.0,377.3 117.0,377.4 116.0,377.4 115.0,377.4 114.0,377.4 113.0,377.5 112.0,377.6 111.0,378.0 110.0,378.4 109.0,378.8 108.0,379.0 107.0,379.1 106.0,379.0 105.0,378.7 104.0,378.4 103.0,378.0 102.0,377.9 101.0,378.0 100.0,378.2 99.0,378.7 98.0,379.5 97.0,380.3 96.0,380.8 95.0,380.7 94.0,380.2 93.0,379.7 92.0,379.0 91.0,378.5 90.0,378.5 89.0,379.0 88.0,379.6 87.0,380.5 86.0,381.5 85.0,382.3 84.0,382.6 83.0,382.5 82.0,381.9 81.0,380.7 80.0,379.7 79.0,378.9 78.0,379.2 77.0,380.3 76.0,381.7 75.0,382.1 74.0,382.5 73.0,383.6 72.0,384.9 71.0,385.4 70.0,385.6 69.0,385.5 68.0,386.6 67.0,389.0 66.0,388.5 65.0,386.6 64.0,384.7"/>
<polygon fill="#ffff00" points="64.0,370.1 65.0,368.0 66.0,365.6 67.0,363.7 68.0,365.6 69.0,367.8 70.0,370.2 71.0,371.6 72.0,372.5 73.0,372.5 74.0,372.4 75.0,371.2 76.0,370.0 77.0,368.4 78.0,367.7 79.0,367.8 80.0,369.6 81.0,371.5 82.0,373.2 83.0,374.0 84.0,374.2 85.0,373.6 86.0,372.3 87.0,370.9 88.0,369.6 89.0,368.7 90.0,368.5 91.0,368.8 92.0,369.8 93.0,370.8 94.0,371.7 95.0,372.1 96.0,372.0 97.0,371.5 98.0,370.9 99.0,370.2 100.0,369.4 101.0,369.0 102.0,368.9 103.0,369.1 104.0,369.7 105.0,370.3 106.0,370.8 107.0,370.9 108.0,370.7 109.0,370.3 110.0,369.8 111.0,369.3 112.0,368.9 113.0,368.6 114.0,368.4 115.0,368.5 116.0,368.6 117.0,368.7 118.0,368.7 119.0,368.7 120.0,368.6 121.0,368.3 122.0,368.0 123.0,367.7 124.0,367.4 125.0,367.2 126.0,367.0 127.0,366.9 128.0,366.8 129.0,366.8 130.0,366.7 131.0,366.5 132.0,366.4 133.0,366.1 134.0,366.0 135.0,365.7 136.0,365.5 137.0,365.3 138.0,365.1 139.0,365.0 140.0,364.8 141.0,364.6 142.0,364.5 143.0,364.3 144.0,364.1 145.0,363.9 146.0,363.7 147.0,363.5 148.0,363.3 149.0,363.1 150.0,362.9 151.0,362.7 152.0,362.6 153.0,362.4 154.0,362.2 155.0,362.0 156.0,361.8 157.0,361.6 158.0,361.4 159.0,361.2 160.0,361.0 161.0,360.8 162.0,360.7 163.0,360.5 164.0,360.3 165.0,360.1 166.0,359.9 167.0,359.7 168.0,359.5 169.0,359.4 170.0,359.2 171.0,359.0 172.0,358.8 173.0,358.6 174.0,358.4 175.0,358.2 176.0,358.0 177.0,357.8 178.0,357.7 179.0,357.5 180.0,357.3 181.0,357.1 182.0,356.9 183.0,356.7 184.0,356.5 185.0,356.3 186.0,356.2 187.0,356.0 188.0,355.8 189.0,355.6 190.0,355.4 191.0,355.2 192.0,355.0 193.0,354.8 194.0,354.7 195.0,354.5 196.0,354.3 197.0,354.1 198.0,353.9 199.0,353.7 200.0,353.5 201.0,353.3 202.0,353.1 203.0,352.9 204.0,352.7 205.0,352.5 206.0,352.3 207.0,352.1 208.0,351.9 209.0,351.7 210.0,351.5 211.0,351.3 212.0,351.1 213.0,350.9 214.0,350.7 215.0,350.5 216.0,350.3 217.0,350.1 218.0,349.9 219.0,349.7 220.0,349.5 221.0,349.3 222.0,349.1 223.0,348.9 224.0,348.6 225.0,348.4 226.0,348.2 227.0,348.0 228.0,347.8 229.0,347.6 230.0,347.4 231.0,347.2 232.0,346.9 233.0,346.7 234.0,346.5 235.0,346.3 236.0,346.1 237.0,345.8 238.0,345.6 239.0,345.4 240.0,345.2 241.0,345.0 242.0,344.7 243.0,344.5 244.0,344.3 245.0,344.1 246.0,343.8 247.0,343.6 248.0,343.4 249.0,343.2 250.0,342.9 251.0,342.7 252.0,342.5 253.0,342.2 254.0,342.0 255.0,341.8 256.0,341.5 257.0,341.3 258.0,341.1 259.0,340.8 260.0,340.6 261.0,340.4 262.0,340.1 263.0,339.9 264.0,339.7 265.0,339.4 266.0,339.2 267.0,338.9 268.0,338.7 269.0,338.5 270.0,338.2 271.0,338.0 272.0,337.7 273.0,337.5 274.0,337.2 275.0,337.0 276.0,336.8 277.0,336.5 278.0,336.3 279.0,336.0 280.0,335.8 281.0,335.5 282.0,335.3 283.0,335.0 284.0,334.8 285.0,334.5 286.0,334.3 287.0,334.0 288.0,333.8 289.0,333.5 290.0,333.3 291.0,333.0 292.0,332.7 293.0,332.5 294.0,332.2 295.0,332.0 296.0,331.7 297.0,331.5 298.0,331.2 299.0,331.0 300.0,330.7 301.0,330.4 302.0,330.2 303.0,329.9 304.0,329.7 305.0,329.4 306.0,329.1 307.0,328.9 308.0,328.6 309.0,328.4 310.0,328.1 311.0,327.9 312.0,327.6 313.0,327.3 314.0,327.1 315.0,326.8 316.0,326.6 317.0,326.3 318.0,326.0 319.0,325.8 320.0,325.5 321.0,325.3 322.0,325.0 323.0,324.8 324.0,324.5 325.0,324.2 326.0,324.0 327.0,323.7 328.0,323.5 329.0,323.2 330.0,323.0 331.0,322.7 332.0,322.5 333.0,322.2 334.0,322.0 335.0,321.7 336.0,321.5 337.0,321.2 338.0,320.9 339.0,320.7 340.0,320.4 341.0,320.2 342.0,319.9 343.0,319.7 344.0,319.5 345.0,319.2 346.0,319.0 347.0,318.7 348.0,318.5 349.0,318.2 350.0,318.0 351.0,317.7 352.0,317.5 353.0,317.2 354.0,317.0 355.0,316.7 356.0,316.5 357.0,316.2 358.0,316.0 359.0,315.7 360.0,315.5 361.0,315.2 362.0,315.0 363.0,314.7 364.0,314.5 365.0,314.2 366.0,314.0 367.0,313.7 368.0,313.5 369.0,313.2 370.0,313.0 371.0,312.7 372.0,312.5 373.0,312.2 374.0,312.0 375.0,311.7 376.0,311.5 377.0,311.2 378.0,311.0 379.0,310.7 380.0,310.5 381.0,310.2 382.0,310.0 383.0,309.7 384.0,309.4 385.0,309.2 386.0,308.9 387.0,308.7 388.0,308.4 389.0,308.2 390.0,307.9 391.0,307.6 392.0,307.4 393.0,307.1 394.0,306.8 395.0,306.6 396.0,306.3 397.0,306.0 398.0,305.8 399.0,305.5 400.0,305.2 401.0,305.0 402.0,304.7 403.0,304.4 404.0,304.1 405.0,303.9 406.0,303.6 407.0,303.3 408.0,303.0 409.0,302.8 410.0,302.5 411.0,302.2 412.0,301.9 413.0,301.6 414.0,301.3 415.0,301.1 416.0,300.8 417.0,300.5 418.0,300.2 419.0,299.9 420.0,299.6 421.0,299.3 422.0,299.0 423.0,298.7 424.0,298.4 425.0,298.1 426.0,297.8 427.0,297.5 428.0,297.2 429.0,296.9 430.0,296.6 431.0,296.3 432.0,296.0 433.0,295.7 434.0,295.3 435.0,295.0 436.0,294.7 437.0,294.4 438.0,294.1 439.0,293.7 440.0,293.4 441.0,293.1 442.0,292.8 443.0,292.4 444.0,292.1 445.0,291.8 446.0,291.4 447.0,291.1 448.0,290.8 449.0,290.4 450.0,290.1 451.0,289.7 452.0,289.4 453.0,289.0 454.0,288.7 455.0,288.3 456.0,288.0 457.0,287.6 458.0,287.2 459.0,286.9 460.0,286.5 460.5,286.3 460.5,299.5 460.0,299.6 459.0,300.0 458.0,300.3 457.0,300.6 456.0,301.0 455.0,301.3 454.0,301.6 453.0,301.9 452.0,302.2 451.0,302.6 450.0,302.9 449.0,303.2 448.0,303.5 447.0,303.8 446.0,304.1 445.0,304.4 444.0,304.7 443.0,305.0 442.0,305.3 441.0,305.6 440.0,305.9 439.0,306.2 438.0,306.5 437.0,306.8 436.0,307.1 435.0,307.4 434.0,307.6 433.0,307.9 432.0,308.2 431.0,308.5 430.0,308.8 429.0,309.1 428.0,309.3 427.0,309.6 426.0,309.9 425.0,310.2 424.0,310.4 423.0,310.7 422.0,311.0 421.0,311.2 420.0,311.5 419.0,311.8 418.0,312.0 417.0,312.3 416.0,312.6 415.0,312.8 414.0,313.1 413.0,313.3 412.0,313.6 411.0,313.8 410.0,314.1 409.0,314.4 408.0,314.6 407.0,314.9 406.0,315.1 405.0,315.4 404.0,315.6 403.0,315.9 402.0,316.1 401.0,316.3 400.0,316.6 399.0,316.8 398.0,317.1 397.0,317.3 396.0,317.6 395.0,317.8 394.0,318.0 393.0,318.3 392.0,318.5 391.0,318.8 390.0,319.0 389.0,319.2 388.0,319.5 387.0,319.7 386.0,319.9 385.0,320.2 384.0,320.4 383.0,320.6 382.0,320.9 381.0,321.1 380.0,321.3 379.0,321.6 378.0,321.8 377.0,322.0 376.0,322.2 375.0,322.5 374.0,322.7 373.0,322.9 372.0,323.2 371.0,323.4 370.0,323.6 369.0,323.8 368.0,324.1 367.0,324.3 366.0,324.5 365.0,324.7 364.0,325.0 363.0,325.2 362.0,325.4 361.0,325.6 360.0,325.9 359.0,326.1 358.0,326.3 357.0,326.5 356.0,326.8 355.0,327.0 354.0,327.2 353.0,327.4 352.0,327.7 351.0,327.9 350.0,328.1 349.0,328.3 348.0,328.6 347.0,328.8 346.0,329.0 345.0,329.2 344.0,329.5 343.0,329.7 342.0,329.9 341.0,330.1 340.0,330.4 339.0,330.6 338.0,330.8 337.0,331.0 336.0,331.3 335.0,331.5 334.0,331.7 333.0,331.9 332.0,332.2 331.0,332.4 330.0,332.6 329.0,332.9 328.0,333.1 327.0,333.3 326.0,333.6 325.0,333.8 324.0,334.0 323.0,334.3 322.0,334.5 321.0,334.7 320.0,335.0 319.0,335.2 318.0,335.4 317.0,335.7 316.0,335.9 315.0,336.1 314.0,336.4 313.0,336.6 312.0,336.8 311.0,337.1 310.0,337.3 309.0,337.5 308.0,337.8 307.0,338.0 306.0,338.2 305.0,338.5 304.0,338.7 303.0,338.9 302.0,339.2 301.0,339.4 300.0,339.6 299.0,339.9 298.0,340.1 297.0,340.3 296.0,340.6 295.0,340.8 294.0,341.0 293.0,341.3 292.0,341.5 291.0,341.7 290.0,341.9 289.0,342.2 288.0,342.4 287.0,342.6 286.0,342.9 285.0,343.1 284.0,343.3 283.0,343.5 282.0,343.8 281.0,344.0 280.0,344.2 279.0,344.4 278.0,344.7 277.0,344.9 276.0,345.1 275.0,345.3 274.0,345.6 273.0,345.8 272.0,346.0 271.0,346.2 270.0,346.4 269.0,346.7 268.0,346.9 267.0,347.1 266.0,347.3 265.0,347.5 264.0,347.7 263.0,348.0 262.0,348.2 261.0,348.4 260.0,348.6 259.0,348.8 258.0,349.0 257.0,349.2 256.0,349.4 255.0,349.7 254.0,349.9 253.0,350.1 252.0,350.3 251.0,350.5 250.0,350.7 249.0,350.9 248.0,351.1 247.0,351.3 246.0,351.5 245.0,351.7 244.0,351.9 243.0,352.1 242.0,352.3 241.0,352.5 240.0,352.7 239.0,352.9 238.0,353.1 237.0,353.3 236.0,353.5 235.0,353.7 234.0,353.9 233.0,354.1 232.0,354.3 231.0,354.5 230.0,354.7 229.0,354.9 228.0,355.1 227.0,355.3 226.0,355.5 225.0,355.7 224.0,355.9 223.0,356.1 222.0,356.3 221.0,356.5 220.0,356.6 219.0,356.8 218.0,357.0 217.0,357.2 216.0,357.4 215.0,357.6 214.0,357.8 213.0,358.0 212.0,358.1 211.0,358.3 210.0,358.5 209.0,358.7 208.0,358.9 207.0,359.0 206.0,359.2 205.0,359.4 204.0,359.6 203.0,359.8 202.0,359.9 201.0,360.1 200.0,360.3 199.0,360.5 198.0,360.6 197.0,360.8 196.0,361.0 195.0,361.2 194.0,361.4 193.0,361.5 192.0,361.7 191.0,361.9 190.0,362.0 189.0,362.2 188.0,362.4 187.0,362.6 186.0,362.7 185.0,362.9 184.0,363.1 183.0,363.2 182.0,363.4 181.0,363.6 180.0,363.7 179.0,363.9 178.0,364.1 177.0,364.3 176.0,364.4 175.0,364.6 174.0,364.8 173.0,364.9 172.0,365.1 171.0,365.3 170.0,365.4 169.0,365.6 168.0,365.8 167.0,366.0 166.0,366.2 165.0,366.3 164.0,366.5 163.0,366.7 162.0,366.8 161.0,367.0 160.0,367.2 159.0,367.3 158.0,367.5 157.0,367.7 156.0,367.9 155.0,368.1 154.0,368.2 153.0,368.4 152.0,368.6 151.0,368.8 150.0,369.0 149.0,369.1 148.0,369.3 147.0,369.5 146.0,369.7 145.0,369.8 144.0,370.0 143.0,370.2 142.0,370.4 141.0,370.5 140.0,370.7 139.0,370.8 138.0,371.0 137.0,371.2 136.0,371.3 135.0,371.5 134.0,371.7 133.0,371.9 132.0,372.1 131.0,372.3 130.0,372.5 129.0,372.6 128.0,372.6 127.0,372.7 126.0,372.7 125.0,372.9 124.0,373.1 123.0,373.4 122.0,373.7 121.0,374.0 120.0,374.2 119.0,374.3 118.0,374.3 117.0,374.4 116.0,374.3 115.0,374.3 114.0,374.3 113.0,374.4 112.0,374.6 111.0,375.0 110.0,375.4 109.0,375.9 108.0,376.2 107.0,376.3 106.0,376.2 105.0,375.8 104.0,375.4 103.0,374.9 102.0,374.8 101.0,374.8 100.0,375.2 99.0,375.7 98.0,376.5 97.0,377.3 96.0,377.7 95.0,377.7 94.0,377.3 93.0,376.6 92.0,375.8 91.0,375.1 90.0,374.9 89.0,375.3 88.0,376.1 87.0,377.1 86.0,378.2 85.0,379.2 84.0,379.6 83.0,379.5 82.0,378.8 81.0,377.5 80.0,376.1 79.0,374.9 78.0,375.0 77.0,375.9 76.0,377.4 75.0,378.2 74.0,378.8 73.0,379.5 72.0,380.2 71.0,380.2 70.0,379.7 69.0,378.6 68.0,378.3 67.0,378.9 66.0,379.4 65.0,379.3 64.0,379.1"/>
<polygon fill="#ffff00" points="64.00,368.43 68.40,368.43 67.80,379.35 66.40,390.00 65.30,397.00 64.00,397.00"/>
<line x1="64.40" y1="378.10" x2="67.00" y2="378.10" stroke="#000" stroke-width="0.7"/>
<line x1="64.40" y1="382.75" x2="67.00" y2="382.75" stroke="#000" stroke-width="0.7"/>
<line x1="64.40" y1="387.41" x2="67.00" y2="387.41" stroke="#000" stroke-width="0.7"/>
<line x1="64.40" y1="392.06" x2="67.00" y2="392.06" stroke="#000" stroke-width="0.7"/>
<polyline fill="none" stroke="#000" stroke-opacity="0.4" stroke-width="4.0" stroke-linejoin="round" points="64.0,374.6 65.0,373.7 66.0,372.5 67.0,371.3 68.0,371.9 69.0,373.2 70.0,375.0 71.0,375.9 72.0,376.3 73.0,376.0 74.0,375.6 75.0,374.7 76.0,373.7 77.0,372.1 78.0,371.3 79.0,371.4 80.0,372.8 81.0,374.5 82.0,376.0 83.0,376.8 84.0,376.9 85.0,376.4 86.0,375.3 87.0,374.0 88.0,372.8 89.0,372.0 90.0,371.7 91.0,371.9 92.0,372.8 93.0,373.7 94.0,374.5 95.0,374.9 96.0,374.8 97.0,374.4 98.0,373.7 99.0,372.9 100.0,372.3 101.0,371.9 102.0,371.8 103.0,372.0 104.0,372.6 105.0,373.1 106.0,373.5 107.0,373.6 108.0,373.4 109.0,373.1 110.0,372.6 111.0,372.2 112.0,371.8 113.0,371.5 114.0,371.4 115.0,371.4 116.0,371.4 117.0,371.5 118.0,371.5 119.0,371.5 120.0,371.4 121.0,371.2 122.0,370.8 123.0,370.5 124.0,370.2 125.0,370.0 126.0,369.9 127.0,369.8 128.0,369.7 129.0,369.7 130.0,369.6 131.0,369.4 132.0,369.2 133.0,369.0 134.0,368.8 135.0,368.6 136.0,368.4 137.0,368.2 138.0,368.1 139.0,367.9 140.0,367.7 141.0,367.6 142.0,367.4 143.0,367.2 144.0,367.1 145.0,366.9 146.0,366.7 147.0,366.5 148.0,366.3 149.0,366.1 150.0,365.9 151.0,365.8 152.0,365.6 153.0,365.4 154.0,365.2 155.0,365.0 156.0,364.8 157.0,364.6 158.0,364.5 159.0,364.3 160.0,364.1 161.0,363.9 162.0,363.7 163.0,363.6 164.0,363.4 165.0,363.2 166.0,363.0 167.0,362.8 168.0,362.7 169.0,362.5 170.0,362.3 171.0,362.1 172.0,361.9 173.0,361.8 174.0,361.6 175.0,361.4 176.0,361.2 177.0,361.0 178.0,360.9 179.0,360.7 180.0,360.5 181.0,360.3 182.0,360.2 183.0,360.0 184.0,359.8 185.0,359.6 186.0,359.4 187.0,359.3 188.0,359.1 189.0,358.9 190.0,358.7 191.0,358.5 192.0,358.4 193.0,358.2 194.0,358.0 195.0,357.8 196.0,357.6 197.0,357.5 198.0,357.3 199.0,357.1 200.0,356.9 201.0,356.7 202.0,356.5 203.0,356.3 204.0,356.2 205.0,356.0 206.0,355.8 207.0,355.6 208.0,355.4 209.0,355.2 210.0,355.0 211.0,354.8 212.0,354.6 213.0,354.4 214.0,354.2 215.0,354.0 216.0,353.8 217.0,353.7 218.0,353.5 219.0,353.3 220.0,353.1 221.0,352.9 222.0,352.7 223.0,352.5 224.0,352.3 225.0,352.1 226.0,351.9 227.0,351.7 228.0,351.5 229.0,351.2 230.0,351.0 231.0,350.8 232.0,350.6 233.0,350.4 234.0,350.2 235.0,350.0 236.0,349.8 237.0,349.6 238.0,349.4 239.0,349.2 240.0,349.0 241.0,348.7 242.0,348.5 243.0,348.3 244.0,348.1 245.0,347.9 246.0,347.7 247.0,347.5 248.0,347.2 249.0,347.0 250.0,346.8 251.0,346.6 252.0,346.4 253.0,346.2 254.0,345.9 255.0,345.7 256.0,345.5 257.0,345.3 258.0,345.0 259.0,344.8 260.0,344.6 261.0,344.4 262.0,344.1 263.0,343.9 264.0,343.7 265.0,343.5 266.0,343.2 267.0,343.0 268.0,342.8 269.0,342.6 270.0,342.3 271.0,342.1 272.0,341.9 273.0,341.6 274.0,341.4 275.0,341.2 276.0,340.9 277.0,340.7 278.0,340.5 279.0,340.2 280.0,340.0 281.0,339.8 282.0,339.5 283.0,339.3 284.0,339.0 285.0,338.8 286.0,338.6 287.0,338.3 288.0,338.1 289.0,337.8 290.0,337.6 291.0,337.4 292.0,337.1 293.0,336.9 294.0,336.6 295.0,336.4 296.0,336.1 297.0,335.9 298.0,335.7 299.0,335.4 300.0,335.2 301.0,334.9 302.0,334.7 303.0,334.4 304.0,334.2 305.0,333.9 306.0,333.7 307.0,333.4 308.0,333.2 309.0,332.9 310.0,332.7 311.0,332.5 312.0,332.2 313.0,332.0 314.0,331.7 315.0,331.5 316.0,331.2 317.0,331.0 318.0,330.7 319.0,330.5 320.0,330.2 321.0,330.0 322.0,329.7 323.0,329.5 324.0,329.3 325.0,329.0 326.0,328.8 327.0,328.5 328.0,328.3 329.0,328.0 330.0,327.8 331.0,327.6 332.0,327.3 333.0,327.1 334.0,326.8 335.0,326.6 336.0,326.4 337.0,326.1 338.0,325.9 339.0,325.6 340.0,325.4 341.0,325.2 342.0,324.9 343.0,324.7 344.0,324.5 345.0,324.2 346.0,324.0 347.0,323.7 348.0,323.5 349.0,323.3 350.0,323.0 351.0,322.8 352.0,322.6 353.0,322.3 354.0,322.1 355.0,321.9 356.0,321.6 357.0,321.4 358.0,321.1 359.0,320.9 360.0,320.7 361.0,320.4 362.0,320.2 363.0,320.0 364.0,319.7 365.0,319.5 366.0,319.3 367.0,319.0 368.0,318.8 369.0,318.5 370.0,318.3 371.0,318.1 372.0,317.8 373.0,317.6 374.0,317.3 375.0,317.1 376.0,316.9 377.0,316.6 378.0,316.4 379.0,316.1 380.0,315.9 381.0,315.7 382.0,315.4 383.0,315.2 384.0,314.9 385.0,314.7 386.0,314.4 387.0,314.2 388.0,313.9 389.0,313.7 390.0,313.4 391.0,313.2 392.0,312.9 393.0,312.7 394.0,312.4 395.0,312.2 396.0,311.9 397.0,311.7 398.0,311.4 399.0,311.2 400.0,310.9 401.0,310.7 402.0,310.4 403.0,310.1 404.0,309.9 405.0,309.6 406.0,309.4 407.0,309.1 408.0,308.8 409.0,308.6 410.0,308.3 411.0,308.0 412.0,307.8 413.0,307.5 414.0,307.2 415.0,306.9 416.0,306.7 417.0,306.4 418.0,306.1 419.0,305.8 420.0,305.6 421.0,305.3 422.0,305.0 423.0,304.7 424.0,304.4 425.0,304.1 426.0,303.9 427.0,303.6 428.0,303.3 429.0,303.0 430.0,302.7 431.0,302.4 432.0,302.1 433.0,301.8 434.0,301.5 435.0,301.2 436.0,300.9 437.0,300.6 438.0,300.3 439.0,300.0 440.0,299.7 441.0,299.4 442.0,299.0 443.0,298.7 444.0,298.4 445.0,298.1 446.0,297.8 447.0,297.4 448.0,297.1 449.0,296.8 450.0,296.5 451.0,296.1 452.0,295.8 453.0,295.5 454.0,295.1 455.0,294.8 456.0,294.5 457.0,294.1 458.0,293.8 459.0,293.4 460.0,293.1 460.5,292.9"/>
<polyline fill="none" stroke="#000" stroke-width="2.6" stroke-linejoin="round" points="64.0,374.6 65.0,373.7 66.0,372.5 67.0,371.3 68.0,371.9 69.0,373.2 70.0,375.0 71.0,375.9 72.0,376.3 73.0,376.0 74.0,375.6 75.0,374.7 76.0,373.7 77.0,372.1 78.0,371.3 79.0,371.4 80.0,372.8 81.0,374.5 82.0,376.0 83.0,376.8 84.0,376.9 85.0,376.4 86.0,375.3 87.0,374.0 88.0,372.8 89.0,372.0 90.0,371.7 91.0,371.9 92.0,372.8 93.0,373.7 94.0,374.5 95.0,374.9 96.0,374.8 97.0,374.4 98.0,373.7 99.0,372.9 100.0,372.3 101.0,371.9 102.0,371.8 103.0,372.0 104.0,372.6 105.0,373.1 106.0,373.5 107.0,373.6 108.0,373.4 109.0,373.1 110.0,372.6 111.0,372.2 112.0,371.8 113.0,371.5 114.0,371.4 115.0,371.4 116.0,371.4 117.0,371.5 118.0,371.5 119.0,371.5 120.0,371.4 121.0,371.2 122.0,370.8 123.0,370.5 124.0,370.2 125.0,370.0 126.0,369.9 127.0,369.8 128.0,369.7 129.0,369.7 130.0,369.6 131.0,369.4 132.0,369.2 133.0,369.0 134.0,368.8 135.0,368.6 136.0,368.4 137.0,368.2 138.0,368.1 139.0,367.9 140.0,367.7 141.0,367.6 142.0,367.4 143.0,367.2 144.0,367.1 145.0,366.9 146.0,366.7 147.0,366.5 148.0,366.3 149.0,366.1 150.0,365.9 151.0,365.8 152.0,365.6 153.0,365.4 154.0,365.2 155.0,365.0 156.0,364.8 157.0,364.6 158.0,364.5 159.0,364.3 160.0,364.1 161.0,363.9 162.0,363.7 163.0,363.6 164.0,363.4 165.0,363.2 166.0,363.0 167.0,362.8 168.0,362.7 169.0,362.5 170.0,362.3 171.0,362.1 172.0,361.9 173.0,361.8 174.0,361.6 175.0,361.4 176.0,361.2 177.0,361.0 178.0,360.9 179.0,360.7 180.0,360.5 181.0,360.3 182.0,360.2 183.0,360.0 184.0,359.8 185.0,359.6 186.0,359.4 187.0,359.3 188.0,359.1 189.0,358.9 190.0,358.7 191.0,358.5 192.0,358.4 193.0,358.2 194.0,358.0 195.0,357.8 196.0,357.6 197.0,357.5 198.0,357.3 199.0,357.1 200.0,356.9 201.0,356.7 202.0,356.5 203.0,356.3 204.0,356.2 205.0,356.0 206.0,355.8 207.0,355.6 208.0,355.4 209.0,355.2 210.0,355.0 211.0,354.8 212.0,354.6 213.0,354.4 214.0,354.2 215.0,354.0 216.0,353.8 217.0,353.7 218.0,353.5 219.0,353.3 220.0,353.1 221.0,352.9 222.0,352.7 223.0,352.5 224.0,352.3 225.0,352.1 226.0,351.9 227.0,351.7 228.0,351.5 229.0,351.2 230.0,351.0 231.0,350.8 232.0,350.6 233.0,350.4 234.0,350.2 235.0,350.0 236.0,349.8 237.0,349.6 238.0,349.4 239.0,349.2 240.0,349.0 241.0,348.7 242.0,348.5 243.0,348.3 244.0,348.1 245.0,347.9 246.0,347.7 247.0,347.5 248.0,347.2 249.0,347.0 250.0,346.8 251.0,346.6 252.0,346.4 253.0,346.2 254.0,345.9 255.0,345.7 256.0,345.5 257.0,345.3 258.0,345.0 259.0,344.8 260.0,344.6 261.0,344.4 262.0,344.1 263.0,343.9 264.0,343.7 265.0,343.5 266.0,343.2 267.0,343.0 268.0,342.8 269.0,342.6 270.0,342.3 271.0,342.1 272.0,341.9 273.0,341.6 274.0,341.4 275.0,341.2 276.0,340.9 277.0,340.7 278.0,340.5 279.0,340.2 280.0,340.0 281.0,339.8 282.0,339.5 283.0,339.3 284.0,339.0 285.0,338.8 286.0,338.6 287.0,338.3 288.0,338.1 289.0,337.8 290.0,337.6 291.0,337.4 292.0,337.1 293.0,336.9 294.0,336.6 295.0,336.4 296.0,336.1 297.0,335.9 298.0,335.7 299.0,335.4 300.0,335.2 301.0,334.9 302.0,334.7 303.0,334.4 304.0,334.2 305.0,333.9 306.0,333.7 307.0,333.4 308.0,333.2 309.0,332.9 310.0,332.7 311.0,332.5 312.0,332.2 313.0,332.0 314.0,331.7 315.0,331.5 316.0,331.2 317.0,331.0 318.0,330.7 319.0,330.5 320.0,330.2 321.0,330.0 322.0,329.7 323.0,329.5 324.0,329.3 325.0,329.0 326.0,328.8 327.0,328.5 328.0,328.3 329.0,328.0 330.0,327.8 331.0,327.6 332.0,327.3 333.0,327.1 334.0,326.8 335.0,326.6 336.0,326.4 337.0,326.1 338.0,325.9 339.0,325.6 340.0,325.4 341.0,325.2 342.0,324.9 343.0,324.7 344.0,324.5 345.0,324.2 346.0,324.0 347.0,323.7 348.0,323.5 349.0,323.3 350.0,323.0 351.0,322.8 352.0,322.6 353.0,322.3 354.0,322.1 355.0,321.9 356.0,321.6 357.0,321.4 358.0,321.1 359.0,320.9 360.0,320.7 361.0,320.4 362.0,320.2 363.0,320.0 364.0,319.7 365.0,319.5 366.0,319.3 367.0,319.0 368.0,318.8 369.0,318.5 370.0,318.3 371.0,318.1 372.0,317.8 373.0,317.6 374.0,317.3 375.0,317.1 376.0,316.9 377.0,316.6 378.0,316.4 379.0,316.1 380.0,315.9 381.0,315.7 382.0,315.4 383.0,315.2 384.0,314.9 385.0,314.7 386.0,314.4 387.0,314.2 388.0,313.9 389.0,313.7 390.0,313.4 391.0,313.2 392.0,312.9 393.0,312.7 394.0,312.4 395.0,312.2 396.0,311.9 397.0,311.7 398.0,311.4 399.0,311.2 400.0,310.9 401.0,310.7 402.0,310.4 403.0,310.1 404.0,309.9 405.0,309.6 406.0,309.4 407.0,309.1 408.0,308.8 409.0,308.6 410.0,308.3 411.0,308.0 412.0,307.8 413.0,307.5 414.0,307.2 415.0,306.9 416.0,306.7 417.0,306.4 418.0,306.1 419.0,305.8 420.0,305.6 421.0,305.3 422.0,305.0 423.0,304.7 424.0,304.4 425.0,304.1 426.0,303.9 427.0,303.6 428.0,303.3 429.0,303.0 430.0,302.7 431.0,302.4 432.0,302.1 433.0,301.8 434.0,301.5 435.0,301.2 436.0,300.9 437.0,300.6 438.0,300.3 439.0,300.0 440.0,299.7 441.0,299.4 442.0,299.0 443.0,298.7 444.0,298.4 445.0,298.1 446.0,297.8 447.0,297.4 448.0,297.1 449.0,296.8 450.0,296.5 451.0,296.1 452.0,295.8 453.0,295.5 454.0,295.1 455.0,294.8 456.0,294.5 457.0,294.1 458.0,293.8 459.0,293.4 460.0,293.1 460.5,292.9"/>
<line x1="64.00" y1="373.00" x2="460.50" y2="373.00" stroke="#000" stroke-opacity="0.72" stroke-width="0.75" stroke-dasharray="2.3,3.59" stroke-dashoffset="0.6"/>
<polyline fill="none" stroke="#ff0000" stroke-width="2.0" stroke-linejoin="round" points="64.0,374.6 65.0,374.5 66.0,374.3 67.0,374.0 68.0,374.1 69.0,374.7 70.0,375.8 71.0,376.8 72.0,377.3 73.0,377.0 74.0,375.9 75.0,374.4 76.0,373.0 77.0,372.0 78.0,371.8 79.0,372.2 80.0,373.3 81.0,374.6 82.0,375.7 83.0,376.5 84.0,376.5 85.0,376.0 86.0,375.0 87.0,373.8 88.0,372.7 89.0,372.0 90.0,371.9 91.0,372.2 92.0,373.0 93.0,373.8 94.0,374.5 95.0,374.9 96.0,374.9 97.0,374.4 98.0,373.7 99.0,372.9 100.0,372.3 101.0,371.9 102.0,371.8 103.0,372.0 104.0,372.4 105.0,372.8 106.0,373.1 107.0,373.2 108.0,373.1 109.0,372.8 110.0,372.3 111.0,371.8 112.0,371.4 113.0,371.2 114.0,371.1 115.0,371.1 116.0,371.2 117.0,371.3 118.0,371.4 119.0,371.3 120.0,371.1 121.0,370.9 122.0,370.6 123.0,370.3 124.0,370.0 125.0,369.8 126.0,369.7 127.0,369.6 128.0,369.6 129.0,369.5 130.0,369.4 131.0,369.2 132.0,369.1 133.0,368.9 134.0,368.6 135.0,368.4 136.0,368.2 137.0,368.0 138.0,367.9 139.0,367.7 140.0,367.6 141.0,367.4 142.0,367.3 143.0,367.1 144.0,366.9 145.0,366.7 146.0,366.5 147.0,366.3 148.0,366.1 149.0,366.0 150.0,365.8 151.0,365.6 152.0,365.4 153.0,365.3 154.0,365.1 155.0,364.9 156.0,364.7 157.0,364.6 158.0,364.4 159.0,364.2 160.0,364.0 161.0,363.8 162.0,363.7 163.0,363.5 164.0,363.3 165.0,363.1 166.0,363.0 167.0,362.8 168.0,362.6 169.0,362.4 170.0,362.3 171.0,362.1 172.0,361.9 173.0,361.8 174.0,361.6 175.0,361.4 176.0,361.2 177.0,361.1 178.0,360.9 179.0,360.7 180.0,360.6 181.0,360.4 182.0,360.2 183.0,360.0 184.0,359.9 185.0,359.7 186.0,359.5 187.0,359.4 188.0,359.2 189.0,359.0 190.0,358.8 191.0,358.7 192.0,358.5 193.0,358.3 194.0,358.2 195.0,358.0 196.0,357.8 197.0,357.6 198.0,357.5 199.0,357.3 200.0,357.1 201.0,356.9 202.0,356.7 203.0,356.6 204.0,356.4 205.0,356.2 206.0,356.0 207.0,355.9 208.0,355.7 209.0,355.5 210.0,355.3 211.0,355.1 212.0,355.0 213.0,354.8 214.0,354.6 215.0,354.4 216.0,354.3 217.0,354.1 218.0,353.9 219.0,353.7 220.0,353.5 221.0,353.4 222.0,353.2 223.0,353.0 224.0,352.8 225.0,352.6 226.0,352.5 227.0,352.3 228.0,352.1 229.0,351.9 230.0,351.7 231.0,351.6 232.0,351.4 233.0,351.2 234.0,351.0 235.0,350.8 236.0,350.6 237.0,350.5 238.0,350.3 239.0,350.1 240.0,349.9 241.0,349.7 242.0,349.5 243.0,349.3 244.0,349.1 245.0,349.0 246.0,348.8 247.0,348.6 248.0,348.4 249.0,348.2 250.0,348.0 251.0,347.8 252.0,347.6 253.0,347.4 254.0,347.2 255.0,347.1 256.0,346.9 257.0,346.7 258.0,346.5 259.0,346.3 260.0,346.1 261.0,345.9 262.0,345.7 263.0,345.5 264.0,345.3 265.0,345.2 266.0,345.0 267.0,344.8 268.0,344.6 269.0,344.4 270.0,344.2 271.0,344.0 272.0,343.8 273.0,343.6 274.0,343.4 275.0,343.3 276.0,343.1 277.0,342.9 278.0,342.7 279.0,342.5 280.0,342.3 281.0,342.1 282.0,341.9 283.0,341.7 284.0,341.5 285.0,341.4 286.0,341.2 287.0,341.0 288.0,340.8 289.0,340.6 290.0,340.4 291.0,340.2 292.0,340.0 293.0,339.8 294.0,339.6 295.0,339.4 296.0,339.3 297.0,339.1 298.0,338.9 299.0,338.7 300.0,338.5 301.0,338.3 302.0,338.1 303.0,337.9 304.0,337.8 305.0,337.6 306.0,337.4 307.0,337.2 308.0,337.0 309.0,336.8 310.0,336.6 311.0,336.5 312.0,336.3 313.0,336.1 314.0,335.9 315.0,335.7 316.0,335.6 317.0,335.4 318.0,335.2 319.0,335.0 320.0,334.9 321.0,334.7 322.0,334.5 323.0,334.3 324.0,334.2 325.0,334.0 326.0,333.8 327.0,333.6 328.0,333.5 329.0,333.3 330.0,333.1 331.0,333.0 332.0,332.8 333.0,332.6 334.0,332.5 335.0,332.3 336.0,332.2 337.0,332.0 338.0,331.8 339.0,331.7 340.0,331.5 341.0,331.4 342.0,331.2 343.0,331.0 344.0,330.9 345.0,330.7 346.0,330.6 347.0,330.4 348.0,330.3 349.0,330.1 350.0,330.0 351.0,329.8 352.0,329.6 353.0,329.5 354.0,329.3 355.0,329.2 356.0,329.0 357.0,328.9 358.0,328.7 359.0,328.6 360.0,328.4 361.0,328.3 362.0,328.1 363.0,328.0 364.0,327.8 365.0,327.7 366.0,327.5 367.0,327.4 368.0,327.2 369.0,327.1 370.0,326.9 371.0,326.8 372.0,326.6 373.0,326.5 374.0,326.3 375.0,326.2 376.0,326.0 377.0,325.9 378.0,325.7 379.0,325.6 380.0,325.4 381.0,325.2 382.0,325.1 383.0,324.9 384.0,324.8 385.0,324.6 386.0,324.5 387.0,324.3 388.0,324.2 389.0,324.0 390.0,323.9 391.0,323.7 392.0,323.5 393.0,323.4 394.0,323.2 395.0,323.1 396.0,322.9 397.0,322.8 398.0,322.6 399.0,322.5 400.0,322.3 401.0,322.1 402.0,322.0 403.0,321.8 404.0,321.7 405.0,321.5 406.0,321.3 407.0,321.2 408.0,321.0 409.0,320.9 410.0,320.7 411.0,320.5 412.0,320.4 413.0,320.2 414.0,320.0 415.0,319.9 416.0,319.7 417.0,319.5 418.0,319.4 419.0,319.2 420.0,319.0 421.0,318.9 422.0,318.7 423.0,318.5 424.0,318.3 425.0,318.2 426.0,318.0 427.0,317.8 428.0,317.6 429.0,317.4 430.0,317.3 431.0,317.1 432.0,316.9 433.0,316.7 434.0,316.5 435.0,316.3 436.0,316.2 437.0,316.0 438.0,315.8 439.0,315.6 440.0,315.4 441.0,315.2 442.0,315.0 443.0,314.8 444.0,314.6 445.0,314.4 446.0,314.2 447.0,314.0 448.0,313.8 449.0,313.6 450.0,313.4 451.0,313.2 452.0,313.0 453.0,312.8 454.0,312.5 455.0,312.3 456.0,312.1 457.0,311.9 458.0,311.7 459.0,311.4 460.0,311.2 460.5,311.1"/>
<polyline fill="none" stroke="#ff0000" stroke-width="0.7" points="290.0,340.2 291.0,340.1 292.0,339.9 293.0,339.8 294.0,339.7 295.0,339.5 296.0,339.4 297.0,339.3 298.0,339.1 299.0,339.0 300.0,338.9 301.0,338.7 302.0,338.6 303.0,338.5 304.0,338.3 305.0,338.2 306.0,338.1 307.0,337.9 308.0,337.8 309.0,337.7 310.0,337.5 311.0,337.4 312.0,337.3 313.0,337.1 314.0,337.0 315.0,336.9 316.0,336.7 317.0,336.6 318.0,336.4 319.0,336.3 320.0,336.2 321.0,336.0 322.0,335.9 323.0,335.8 324.0,335.6 325.0,335.5 326.0,335.4 327.0,335.2 328.0,335.1 329.0,334.9 330.0,334.8 331.0,334.7 332.0,334.5 333.0,334.4 334.0,334.2 335.0,334.1 336.0,334.0 337.0,333.8 338.0,333.7 339.0,333.5 340.0,333.4 341.0,333.3 342.0,333.1 343.0,333.0 344.0,332.8 345.0,332.7 346.0,332.5 347.0,332.4 348.0,332.3 349.0,332.1 350.0,332.0 351.0,331.8 352.0,331.7 353.0,331.5 354.0,331.4 355.0,331.3 356.0,331.1 357.0,331.0 358.0,330.8 359.0,330.7 360.0,330.5 361.0,330.4 362.0,330.2 363.0,330.1 364.0,330.0 365.0,329.8 366.0,329.7 367.0,329.5 368.0,329.4 369.0,329.2 370.0,329.1 371.0,329.0 372.0,328.8 373.0,328.7 374.0,328.5 375.0,328.4 376.0,328.3 377.0,328.1 378.0,328.0 379.0,327.8 380.0,327.7 381.0,327.6 382.0,327.4 383.0,327.3 384.0,327.1 385.0,327.0 386.0,326.9 387.0,326.7 388.0,326.6 389.0,326.5 390.0,326.3 391.0,326.2 392.0,326.0 393.0,325.9 394.0,325.8 395.0,325.6 396.0,325.5 397.0,325.3 398.0,325.2 399.0,325.1 400.0,324.9 401.0,324.8 402.0,324.7 403.0,324.5 404.0,324.4 405.0,324.3 406.0,324.1 407.0,324.0 408.0,323.8 409.0,323.7 410.0,323.6 411.0,323.4 412.0,323.3 413.0,323.2 414.0,323.0 415.0,322.9 416.0,322.8 417.0,322.6 418.0,322.5 419.0,322.3 420.0,322.2 421.0,322.1 422.0,321.9 423.0,321.8 424.0,321.7 425.0,321.5 426.0,321.4 427.0,321.3 428.0,321.1 429.0,321.0 430.0,320.9 431.0,320.7 432.0,320.6 433.0,320.5 434.0,320.3 435.0,320.2 436.0,320.1 437.0,319.9 438.0,319.8 439.0,319.6 440.0,319.5 441.0,319.4 442.0,319.2 443.0,319.1 444.0,319.0 445.0,318.8 446.0,318.7 447.0,318.6 448.0,318.5 449.0,318.3 450.0,318.2 451.0,318.1 452.0,317.9 453.0,317.8 454.0,317.7 455.0,317.5 456.0,317.4 457.0,317.3 458.0,317.1 459.0,317.0 460.0,316.9 460.5,316.8"/>
<polyline fill="none" stroke="#0000ff" stroke-width="2.2" points="64.3,374.6 64.5,374.6 65.0,374.5 65.5,374.4 66.0,374.3 66.5,374.1 67.0,374.0 67.5,374.0 68.0,374.1 68.5,374.4 69.0,374.7 69.4,375.2"/>
<polyline fill="none" stroke="#0000ff" stroke-width="2.2" points="74.0,376.0 74.5,375.2 75.0,374.5 75.5,373.8 76.0,373.1 76.5,372.6 77.0,372.1 77.5,372.0 78.0,371.9 78.5,372.1 79.0,372.3"/>
<polyline fill="none" stroke="#0000ff" stroke-width="2.2" points="82.6,376.3 83.0,376.6 83.5,376.6 84.0,376.7 84.5,376.4 85.0,376.1 85.5,375.6 86.0,375.1 86.5,374.5 87.0,373.9 87.1,373.8"/>
<polyline fill="none" stroke="#0000ff" stroke-width="2.2" points="92.3,373.4 92.5,373.5 93.0,374.0 93.5,374.3 94.0,374.7 94.5,374.9 95.0,375.1 95.5,375.1 96.0,375.0 96.5,374.8 97.0,374.6 97.4,374.3"/>
<polyline fill="none" stroke="#0000ff" stroke-width="2.2" points="102.5,372.1 103.0,372.2 103.5,372.4 104.0,372.6 104.5,372.8 105.0,373.0 105.5,373.1 106.0,373.3 106.5,373.4 107.0,373.4 107.4,373.4"/>
<polyline fill="none" stroke="#0000ff" stroke-width="2.2" points="114.9,371.6 115.0,371.6 115.5,371.5 116.0,371.4 116.5,371.3 117.0,371.3 117.5,371.2 118.0,371.1 118.5,371.1 119.0,371.0 119.5,371.0 120.0,370.9"/>
<polyline fill="none" stroke="#0000ff" stroke-width="2.2" points="128.2,370.2 128.5,370.1 129.0,370.1 129.5,370.1 130.0,370.0 130.5,370.0 131.0,369.9 131.5,369.9 132.0,369.9 132.5,369.8"/>
<polyline fill="none" stroke="#0000ff" stroke-width="2.2" stroke-dasharray="5.2,8" points="132.5,369.8 133.0,369.8 133.5,369.8 134.0,369.8 134.5,369.8 135.0,369.7 135.5,369.7 136.0,369.7 136.5,369.7 137.0,369.7 137.5,369.7 138.0,369.6 138.5,369.6 139.0,369.6 139.5,369.6 140.0,369.6 140.5,369.6 141.0,369.6 141.5,369.5 142.0,369.5 142.5,369.5 143.0,369.5 143.5,369.5 144.0,369.5 144.5,369.4 145.0,369.4 145.5,369.4 146.0,369.4 146.5,369.4 147.0,369.4 147.5,369.3 148.0,369.3 148.5,369.3 149.0,369.3 149.5,369.3 150.0,369.3 150.5,369.3 151.0,369.3 151.5,369.3 152.0,369.3 152.5,369.3 153.0,369.3 153.5,369.3 154.0,369.3 154.5,369.3 155.0,369.3 155.5,369.4 156.0,369.4 156.5,369.4 157.0,369.4 157.5,369.4 158.0,369.4 158.5,369.4 159.0,369.4 159.5,369.4 160.0,369.4 160.5,369.4 161.0,369.4 161.5,369.4 162.0,369.4 162.5,369.4 163.0,369.5 163.5,369.5 164.0,369.6 164.5,369.6 165.0,369.7 165.5,369.8 166.0,369.8 166.5,369.8 167.0,369.9 167.5,370.1 168.0,370.3 168.5,370.4 169.0,370.6 169.5,370.8 170.0,371.0 170.5,371.1 170.7,371.2 171.0,371.5 171.5,371.9 172.0,372.3 172.5,372.7 173.0,373.2 173.5,373.6 174.0,374.0 174.5,374.4 175.0,374.9 175.5,375.3 176.0,375.7 176.5,376.1 177.0,376.6 177.5,377.0 178.0,377.4 178.5,377.1 179.0,376.9 179.5,376.6 180.0,376.3 180.5,376.1 181.0,375.8 181.5,375.5 182.0,375.3 182.5,375.0 183.0,374.7 183.5,374.4 184.0,374.2 184.5,373.9 185.0,373.6 185.5,373.4 186.0,373.1 186.5,372.8 187.0,372.6 187.5,372.3 188.0,372.6 188.5,372.9 189.0,373.2 189.5,373.5 190.0,373.8 190.5,374.1 191.0,374.4 191.5,374.7 192.0,375.0 192.5,375.3 193.0,375.6 193.5,375.9 193.7,376.0 194.0,376.2 194.5,376.5 195.0,376.8 195.5,377.1 196.0,377.4 196.5,377.7 197.0,378.0 197.5,378.2 198.0,378.5 198.1,378.6 198.5,378.9 199.0,379.2 199.5,379.5 200.0,379.8 200.5,380.1 201.0,380.5 201.5,380.8 201.7,380.9"/>
<polyline fill="none" stroke="#0000ff" stroke-width="2.2" stroke-dasharray="5.2,8" points="201.7,380.9 202.0,381.1 202.5,381.3 203.0,381.5 203.5,381.7 204.0,381.9 204.5,382.1 205.0,382.3 205.5,382.5 206.0,382.7 206.5,382.9 206.8,383.0 207.0,383.1 207.5,383.2 208.0,383.4 208.5,383.5 209.0,383.7 209.5,383.9 210.0,384.0 210.5,384.2 211.0,384.3 211.5,384.5 212.0,384.7 212.5,384.8 213.0,385.0 213.5,385.1 214.0,385.3 214.5,385.5 215.0,385.6 215.5,385.8 216.0,386.0 216.5,386.2 217.0,386.3 217.5,386.5 218.0,386.7 218.5,386.9 219.0,387.0 219.5,387.2 220.0,387.4 220.5,387.6 221.0,387.8 221.5,388.1 222.0,388.3 222.5,388.5 223.0,388.7 223.5,388.9 224.0,389.1 224.5,389.3 225.0,389.6 225.5,389.8 226.0,390.0 226.5,390.2 227.0,390.4 227.5,390.6 228.0,390.8 228.5,391.1 229.0,391.3 229.5,391.5 230.0,391.7 230.5,391.9 231.0,392.1 231.4,392.3 231.5,392.3 232.0,392.5 232.5,392.6 233.0,392.8 233.5,392.9 234.0,393.1 234.5,393.2 235.0,393.4 235.5,393.5 236.0,393.7 236.5,393.8 237.0,394.0 237.5,394.1 238.0,394.3 238.5,394.1 239.0,393.9 239.5,393.7 240.0,393.4 240.5,393.2 241.0,393.0 241.5,392.8 242.0,392.6 242.5,392.4 243.0,392.1 243.5,391.9 243.8,391.8 244.0,391.7 244.5,391.5 245.0,391.3 245.5,391.1 246.0,391.0 246.5,390.8 247.0,390.6 247.5,390.4 248.0,390.2 248.5,390.0 249.0,389.8 249.5,389.8 250.0,389.8 250.5,389.8 251.0,389.8 251.5,389.8 252.0,389.8 252.5,389.8 253.0,389.8 253.5,389.8 254.0,389.7 254.5,389.7 255.0,389.7 255.5,389.7 256.0,389.7 256.5,389.7 257.0,389.7 257.5,389.7 258.0,389.7"/>
<polyline fill="none" stroke="#0000ff" stroke-width="0.55" points="64.3,374.6 64.5,374.6 65.0,374.5 65.5,374.4 66.0,374.3 66.5,374.1 67.0,374.0 67.5,374.0 68.0,374.1 68.5,374.4 69.0,374.7 69.4,375.2"/>
<polyline fill="none" stroke="#0000ff" stroke-width="0.55" points="74.0,376.0 74.5,375.2 75.0,374.5 75.5,373.8 76.0,373.1 76.5,372.6 77.0,372.1 77.5,372.0 78.0,371.9 78.5,372.1 79.0,372.3"/>
<polyline fill="none" stroke="#0000ff" stroke-width="0.55" points="82.6,376.3 83.0,376.6 83.5,376.6 84.0,376.7 84.5,376.4 85.0,376.1 85.5,375.6 86.0,375.1 86.5,374.5 87.0,373.9 87.1,373.8"/>
<polyline fill="none" stroke="#0000ff" stroke-width="0.55" points="92.3,373.4 92.5,373.5 93.0,374.0 93.5,374.3 94.0,374.7 94.5,374.9 95.0,375.1 95.5,375.1 96.0,375.0 96.5,374.8 97.0,374.6 97.4,374.3"/>
<polyline fill="none" stroke="#0000ff" stroke-width="0.55" points="102.5,372.1 103.0,372.2 103.5,372.4 104.0,372.6 104.5,372.8 105.0,373.0 105.5,373.1 106.0,373.3 106.5,373.4 107.0,373.4 107.4,373.4"/>
<polyline fill="none" stroke="#0000ff" stroke-width="0.55" points="114.9,371.8 115.0,371.8 115.5,371.7 116.0,371.7 116.5,371.7 117.0,371.6 117.5,371.6 118.0,371.5 118.5,371.5 119.0,371.5 119.5,371.4 120.0,371.4"/>
<polyline fill="none" stroke="#0000ff" stroke-width="0.55" points="128.2,371.0 128.5,371.0 129.0,370.9 129.5,370.9 130.0,370.9 130.5,370.9 131.0,370.9 131.5,370.9 132.0,370.9 132.5,370.9"/>
<polyline fill="none" stroke="#0000ff" stroke-width="0.55" stroke-dasharray="5.2,8" points="132.5,370.9 133.0,370.9 133.5,370.9 134.0,370.9 134.5,370.9 135.0,370.9 135.5,370.9 136.0,370.9 136.5,370.8 137.0,370.8 137.5,370.8 138.0,370.8 138.5,370.8 139.0,370.8 139.5,370.8 140.0,370.8 140.5,370.8 141.0,370.8 141.5,370.9 142.0,370.9 142.5,370.9 143.0,370.9 143.5,370.9 144.0,371.0 144.5,371.0 145.0,371.0 145.5,371.0 146.0,371.0 146.5,371.1 147.0,371.1 147.5,371.1 148.0,371.1 148.5,371.1 149.0,371.2 149.5,371.2 150.0,371.2 150.5,371.2 151.0,371.3 151.5,371.3 152.0,371.4 152.5,371.4 153.0,371.5 153.5,371.5 154.0,371.6 154.5,371.6 155.0,371.7 155.5,371.7 156.0,371.8 156.5,371.8 157.0,371.8 157.5,371.9 158.0,371.9 158.5,372.0 159.0,372.0 159.5,372.1 160.0,372.1 160.5,372.2 161.0,372.2 161.5,372.3 162.0,372.3 162.5,372.4 163.0,372.4 163.5,372.5 164.0,372.5 164.5,372.6 165.0,372.7 165.5,372.7 166.0,372.8 166.5,372.8 167.0,372.9 167.5,373.1 168.0,373.4 168.5,373.6 169.0,373.9 169.5,374.1 170.0,374.4 170.5,374.6 170.7,374.7 171.0,375.0 171.5,375.4 172.0,375.9 172.5,376.4 173.0,376.8 173.5,377.3 174.0,377.7 174.5,378.2 175.0,378.6 175.5,379.1 176.0,379.6 176.5,380.0 177.0,380.5 177.5,380.9 178.0,381.4 178.5,381.1 179.0,380.8 179.5,380.5 180.0,380.3 180.5,380.0 181.0,379.7 181.5,379.4 182.0,379.1 182.5,378.8 183.0,378.6 183.5,378.3 184.0,378.0 184.5,377.7 185.0,377.4 185.5,377.1 186.0,376.9 186.5,376.6 187.0,376.3 187.5,376.0 188.0,376.2 188.5,376.4 189.0,376.6 189.5,376.8 190.0,377.0 190.5,377.3 191.0,377.5 191.5,377.7 192.0,377.9 192.5,378.1 193.0,378.3 193.5,378.5 193.7,378.6 194.0,378.7 194.5,379.0 195.0,379.2 195.5,379.4 196.0,379.7 196.5,379.9 197.0,380.1 197.5,380.3 198.0,380.6 198.5,380.8"/>
</g>
<line x1="460.50" y1="29.60" x2="463.30" y2="29.60" stroke="#000" stroke-width="0.7" stroke-opacity="0.6"/>
<line x1="460.50" y1="161.50" x2="463.30" y2="161.50" stroke="#000" stroke-width="0.7" stroke-opacity="0.6"/>
<line x1="460.50" y1="292.90" x2="463.30" y2="292.90" stroke="#000" stroke-width="0.7" stroke-opacity="0.6"/>
<g stroke="#000" stroke-width="1" fill="none">
<rect x="64.00" y="10.35" width="396.50" height="386.65"/>
<line x1="64.00" y1="141.95" x2="460.50" y2="141.95"/>
<line x1="64.00" y1="273.4" x2="460.50" y2="273.4"/>
</g>
<g font-family="Liberation Sans, sans-serif" font-size="13" fill="#000" opacity="0.999">
<text x="56.3" y="138.30" text-anchor="end">1</text>
<text x="56.3" y="122.87" text-anchor="end">2</text>
<text x="56.3" y="107.44" text-anchor="end">3</text>
<text x="56.3" y="92.01" text-anchor="end">4</text>
<text x="56.3" y="76.58" text-anchor="end">5</text>
<text x="56.3" y="61.15" text-anchor="end">6</text>
<text x="56.3" y="45.72" text-anchor="end">7</text>
<text x="56.3" y="30.29" text-anchor="end">8</text>
<text x="56.3" y="14.86" text-anchor="end">9</text>
<text x="56.3" y="263.00" text-anchor="end">1</text>
<text x="56.3" y="248.05" text-anchor="end">1.5</text>
<text x="56.3" y="233.10" text-anchor="end">2</text>
<text x="56.3" y="218.15" text-anchor="end">2.5</text>
<text x="56.3" y="203.20" text-anchor="end">3</text>
<text x="56.3" y="188.25" text-anchor="end">3.5</text>
<text x="56.3" y="173.30" text-anchor="end">4</text>
<text x="56.3" y="158.35" text-anchor="end">4.5</text>
<text x="56.3" y="401.15" text-anchor="end">0.5</text>
<text x="56.3" y="377.40" text-anchor="end">1</text>
<text x="56.3" y="353.65" text-anchor="end">1.5</text>
<text x="56.3" y="329.90" text-anchor="end">2</text>
<text x="56.3" y="306.15" text-anchor="end">2.5</text>
<text x="56.3" y="282.40" text-anchor="end">3</text>
<text x="64.00" y="414.3" text-anchor="middle">0</text>
<text x="163.12" y="414.3" text-anchor="middle">0.5</text>
<text x="262.25" y="414.3" text-anchor="middle">1</text>
<text x="361.38" y="414.3" text-anchor="middle">1.5</text>
<text x="460.50" y="414.3" text-anchor="middle">2</text>
<text x="262.5" y="434" text-anchor="middle">wave number k [h/Mpc]</text>
<text x="252" y="23.9">z = 1</text>
<text x="252" y="155.4">z = 2</text>
<text x="252" y="286">z = 3</text>
<text transform="translate(13.6,228.1) rotate(-90)">P / P<tspan font-size="10" dy="4.1">nw</tspan></text>
<text x="123.3" y="25.30">N-body</text>
<text x="123.3" y="37.50">Time-RG (Full)</text>
<text x="123.3" y="49.60">Time-RG (1-loop)</text>
<text x="123.3" y="62.00">Closure (2-loop)</text>
<text x="123.3" y="74.40">Closure (1-loop)</text>
<text x="123.3" y="86.50">linear</text>
</g>
<g fill="none">
<path d="M79.40 20.40 H115.20 M79.40 18.20 v4.4 M115.20 18.20 v4.4 M97.30 18.90 v3 M95.80 20.40 h3" stroke="#000" stroke-width="0.65"/>
<line x1="79.40" y1="32.90" x2="115.20" y2="32.90" stroke="#f00" stroke-width="2.2"/>
<line x1="79.40" y1="45.50" x2="115.20" y2="45.50" stroke="#f00" stroke-width="0.6"/>
<line x1="79.40" y1="57.80" x2="115.20" y2="57.80" stroke="#00f" stroke-width="2.0" stroke-dasharray="5.6,7.5"/>
<line x1="79.40" y1="70.50" x2="115.20" y2="70.50" stroke="#00f" stroke-width="0.55" stroke-dasharray="5.6,7.5"/>
<line x1="79.20" y1="82.50" x2="116.00" y2="82.50" stroke="#000" stroke-opacity="0.75" stroke-width="0.8" stroke-dasharray="2.4,3.47"/>
</g>
</svg>
</body></html>
